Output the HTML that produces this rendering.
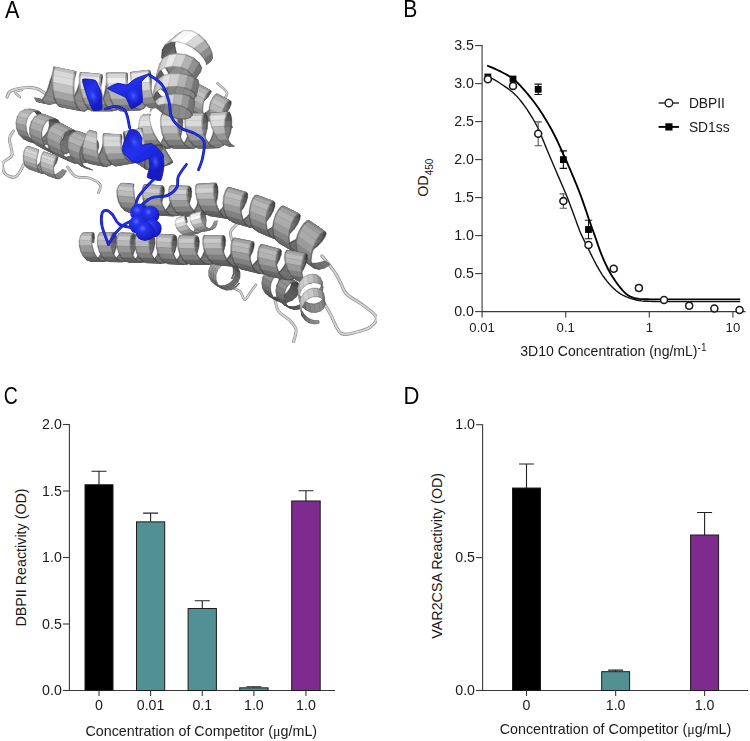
<!DOCTYPE html>
<html><head><meta charset="utf-8"><title>Figure</title>
<style>
html,body{margin:0;padding:0;background:#fff}
svg{display:block}
text{font-family:"Liberation Sans",sans-serif;fill:#1a1a1a;filter:url(#gs)}
.nf{filter:none}
.tk{font-size:14.2px}
.lg{font-size:13.8px}
.ti{font-size:14.3px}
.pl{font-size:24px;fill:#000}
.mu{font-family:"Liberation Serif",serif;font-size:14px}
</style></head>
<body>
<svg width="750" height="741" viewBox="0 0 750 741">
<defs><filter id="gs" x="-5%" y="-5%" width="110%" height="110%" color-interpolation-filters="sRGB"><feColorMatrix type="saturate" values="0"/></filter></defs>
<rect width="750" height="741" fill="#fff"/>
<g id="panelA">
<defs><radialGradient id="sph" cx="0.38" cy="0.34" r="0.75"><stop offset="0" stop-color="#5a6cff"/><stop offset="0.25" stop-color="#2634ee"/><stop offset="0.7" stop-color="#1a22cc"/><stop offset="1" stop-color="#0e1290"/></radialGradient><linearGradient id="blg" x1="0" y1="0" x2="0.6" y2="1"><stop offset="0" stop-color="#1a22c8"/><stop offset="0.45" stop-color="#2230ee"/><stop offset="1" stop-color="#151cc0"/></linearGradient><filter id="soft" x="0" y="0" width="1" height="1" filterUnits="objectBoundingBox"><feGaussianBlur stdDeviation="0.45"/></filter><radialGradient id="blh"><stop offset="0" stop-color="#4a60ff" stop-opacity="0.95"/><stop offset="1" stop-color="#2a3af0" stop-opacity="0"/></radialGradient></defs>
<g filter="url(#soft)">
<path d="M7 97C7.7 96 7.7 92.6 11 91C14.3 89.4 22.5 87.8 27 87.5C31.5 87.2 34.7 87.9 38 89C41.3 90.1 43.7 93.3 47 94C50.3 94.7 56.2 93.2 58 93" fill="none" stroke="#8a8a8a" stroke-width="3.2" stroke-linecap="round" stroke-linejoin="round"/><path d="M7 97C7.7 96 7.7 92.6 11 91C14.3 89.4 22.5 87.8 27 87.5C31.5 87.2 34.7 87.9 38 89C41.3 90.1 43.7 93.3 47 94C50.3 94.7 56.2 93.2 58 93" fill="none" stroke="#d4d4d4" stroke-width="1.8" stroke-linecap="round" stroke-linejoin="round"/>
<path d="M13.5 131C12.8 132.3 9.7 135 9.4 139C9.2 143 13.1 151 12 155C10.9 159 4.1 159.8 3 163C1.9 166.2 3.2 171.8 5.4 174C7.6 176.2 12.9 178.2 16 176.5C19.1 174.8 22.7 166.1 24 164" fill="none" stroke="#8a8a8a" stroke-width="3" stroke-linecap="round" stroke-linejoin="round"/><path d="M13.5 131C12.8 132.3 9.7 135 9.4 139C9.2 143 13.1 151 12 155C10.9 159 4.1 159.8 3 163C1.9 166.2 3.2 171.8 5.4 174C7.6 176.2 12.9 178.2 16 176.5C19.1 174.8 22.7 166.1 24 164" fill="none" stroke="#d4d4d4" stroke-width="1.7" stroke-linecap="round" stroke-linejoin="round"/>
<path d="M67.5 167C68.8 168.6 72 174.7 75.6 176.5C79.2 178.3 84.9 176.7 89 178C93.1 179.3 98.4 182.2 100 184.6C101.6 187 98.8 191.3 98.5 192.7" fill="none" stroke="#8a8a8a" stroke-width="2.8" stroke-linecap="round" stroke-linejoin="round"/><path d="M67.5 167C68.8 168.6 72 174.7 75.6 176.5C79.2 178.3 84.9 176.7 89 178C93.1 179.3 98.4 182.2 100 184.6C101.6 187 98.8 191.3 98.5 192.7" fill="none" stroke="#d4d4d4" stroke-width="1.5" stroke-linecap="round" stroke-linejoin="round"/>
<path d="M217.4 83.4C219 85 226.3 89.6 227 93C227.7 96.4 222 100.1 221.5 103.7C221 107.3 223.6 112.7 224 114.5" fill="none" stroke="#8a8a8a" stroke-width="2.6" stroke-linecap="round" stroke-linejoin="round"/><path d="M217.4 83.4C219 85 226.3 89.6 227 93C227.7 96.4 222 100.1 221.5 103.7C221 107.3 223.6 112.7 224 114.5" fill="none" stroke="#d4d4d4" stroke-width="1.4" stroke-linecap="round" stroke-linejoin="round"/>
<path d="M238.6 222.6C237.2 224.2 231.4 228.6 230.5 232C229.6 235.4 232.6 241.2 233 243" fill="none" stroke="#8a8a8a" stroke-width="2.8" stroke-linecap="round" stroke-linejoin="round"/><path d="M238.6 222.6C237.2 224.2 231.4 228.6 230.5 232C229.6 235.4 232.6 241.2 233 243" fill="none" stroke="#d4d4d4" stroke-width="1.5" stroke-linecap="round" stroke-linejoin="round"/>
<path d="M322 256C324.1 258.6 331.2 267.1 334.4 271.7C337.6 276.3 339 279.7 341 283.4C343 287.1 342.9 290.4 346.5 294C350.1 297.6 357.8 301.2 362.7 305C367.6 308.8 374.8 313.4 376.2 317C377.6 320.6 374.2 324 371 326.5C367.8 329 362 330.9 357 332C352 333.1 345.4 336.2 341 333.3C336.6 330.4 333.7 320 330.7 314.7C327.7 309.4 324.4 303.8 323.2 301.6" fill="none" stroke="#8a8a8a" stroke-width="3.2" stroke-linecap="round" stroke-linejoin="round"/><path d="M322 256C324.1 258.6 331.2 267.1 334.4 271.7C337.6 276.3 339 279.7 341 283.4C343 287.1 342.9 290.4 346.5 294C350.1 297.6 357.8 301.2 362.7 305C367.6 308.8 374.8 313.4 376.2 317C377.6 320.6 374.2 324 371 326.5C367.8 329 362 330.9 357 332C352 333.1 345.4 336.2 341 333.3C336.6 330.4 333.7 320 330.7 314.7C327.7 309.4 324.4 303.8 323.2 301.6" fill="none" stroke="#d4d4d4" stroke-width="1.8" stroke-linecap="round" stroke-linejoin="round"/>
<path d="M274.7 297.9C275.3 300.1 275.9 307.3 278.4 311C280.9 314.7 286.7 317.2 289.6 320.3C292.5 323.4 295.4 325.9 296 329.6C296.6 333.3 293.8 340.5 293.3 342.7" fill="none" stroke="#8a8a8a" stroke-width="3" stroke-linecap="round" stroke-linejoin="round"/><path d="M274.7 297.9C275.3 300.1 275.9 307.3 278.4 311C280.9 314.7 286.7 317.2 289.6 320.3C292.5 323.4 295.4 325.9 296 329.6C296.6 333.3 293.8 340.5 293.3 342.7" fill="none" stroke="#d4d4d4" stroke-width="1.7" stroke-linecap="round" stroke-linejoin="round"/>
<path d="M231.7 287.6C233.1 288.2 237.8 289.3 240 291.3C242.2 293.3 243.1 299.5 244.8 299.7C246.5 299.9 248.5 294.8 250.4 292.3C252.3 289.8 255.1 286.1 256 284.8" fill="none" stroke="#8a8a8a" stroke-width="2.6" stroke-linecap="round" stroke-linejoin="round"/><path d="M231.7 287.6C233.1 288.2 237.8 289.3 240 291.3C242.2 293.3 243.1 299.5 244.8 299.7C246.5 299.9 248.5 294.8 250.4 292.3C252.3 289.8 255.1 286.1 256 284.8" fill="none" stroke="#d4d4d4" stroke-width="1.4" stroke-linecap="round" stroke-linejoin="round"/>
<path d="M20 97C19.2 96.2 14.7 93.2 15 92C15.3 90.8 20.8 90.3 22 90" fill="none" stroke="#8a8a8a" stroke-width="2.5" stroke-linecap="round" stroke-linejoin="round"/><path d="M20 97C19.2 96.2 14.7 93.2 15 92C15.3 90.8 20.8 90.3 22 90" fill="none" stroke="#d4d4d4" stroke-width="1.4" stroke-linecap="round" stroke-linejoin="round"/>
<path d="M194.7 101.5L197.8 97L204.8 100.6L200.2 104.4Z" fill="#555555" stroke="#555555" stroke-width="0.5"/><path d="M195.2 101.7L198.4 97.2L204.2 100.3L199.8 104.2Z" fill="#7d7d7d" stroke="#7d7d7d" stroke-width="0.6"/><path d="M209.8 109.4L213.7 105.3L227 112.3L223.1 116.4Z" fill="#555555" stroke="#555555" stroke-width="0.5"/><path d="M210.9 110L214.7 105.9L225.9 111.7L222.1 115.9Z" fill="#7d7d7d" stroke="#7d7d7d" stroke-width="0.6"/><path d="M213.7 105.3L216.4 100.9L229.7 107.9L227 112.3Z" fill="#4f4f4f" stroke="#4f4f4f" stroke-width="0.5"/><path d="M214.7 105.9L217.5 101.5L228.6 107.4L225.9 111.7Z" fill="#747474" stroke="#747474" stroke-width="0.6"/><path d="M197.8 97L199.8 92.2L208.3 96.7L204.8 100.6Z" fill="#4f4f4f" stroke="#4f4f4f" stroke-width="0.5"/><path d="M198.4 97.2L200.5 92.6L207.6 96.3L204.2 100.3Z" fill="#747474" stroke="#747474" stroke-width="0.6"/><path d="M191 105.1L194.7 101.5L200.2 104.4L195 107.2Z" fill="#575757" stroke="#575757" stroke-width="0.5"/><path d="M191.3 105.3L195.2 101.7L199.8 104.2L194.6 107.1Z" fill="#7f7f7f" stroke="#7f7f7f" stroke-width="0.6"/><path d="M205.3 112.7L209.8 109.4L223.1 116.4L218.6 119.7Z" fill="#575757" stroke="#575757" stroke-width="0.5"/><path d="M206.4 113.2L210.9 110L222.1 115.9L217.6 119.1Z" fill="#7f7f7f" stroke="#7f7f7f" stroke-width="0.6"/><path d="M199.8 92.2L200.5 88L210.4 93.3L208.3 96.7Z" fill="#464646" stroke="#464646" stroke-width="0.5"/><path d="M200.5 92.6L201.3 88.4L209.7 92.9L207.6 96.3Z" fill="#666666" stroke="#666666" stroke-width="0.6"/><path d="M216.4 100.9L217.8 97.2L231.1 104.2L229.7 107.9Z" fill="#464646" stroke="#464646" stroke-width="0.5"/><path d="M217.5 101.5L218.9 97.7L230 103.6L228.6 107.4Z" fill="#666666" stroke="#666666" stroke-width="0.6"/><path d="M200.6 114.4L205.3 112.7L218.6 119.7L213.9 121.4Z" fill="#545454" stroke="#545454" stroke-width="0.5"/><path d="M201.7 115L206.4 113.2L217.6 119.1L212.9 120.8Z" fill="#7c7c7c" stroke="#7c7c7c" stroke-width="0.6"/><path d="M223.5 126.5L229 125.1L233 127.2L229 129.3Z" fill="#545454" stroke="#545454" stroke-width="0.5"/><path d="M224 126.7L229.3 125.3L232.6 127.1L228.6 129.1Z" fill="#7c7c7c" stroke="#7c7c7c" stroke-width="0.6"/><path d="M217.8 97.2L217.9 94.6L231.2 101.6L231.1 104.2Z" fill="#3b3b3b" stroke="#3b3b3b" stroke-width="0.5"/><path d="M218.9 97.7L218.9 95.2L230.1 101L230 103.6Z" fill="#565656" stroke="#565656" stroke-width="0.6"/><path d="M200.5 88L199.8 85.1L211.3 91.1L210.4 93.3Z" fill="#3b3b3b" stroke="#3b3b3b" stroke-width="0.5"/><path d="M201.3 88.4L200.7 85.6L210.3 90.6L209.7 92.9Z" fill="#565656" stroke="#565656" stroke-width="0.6"/><path d="M196.3 114.3L200.6 114.4L213.9 121.4L209.6 121.3Z" fill="#4d4d4d" stroke="#4d4d4d" stroke-width="0.5"/><path d="M197.4 114.8L201.7 115L212.9 120.8L208.5 120.7Z" fill="#727272" stroke="#727272" stroke-width="0.6"/><path d="M218.5 125.9L223.5 126.5L229 129.3L225.4 129.6Z" fill="#4d4d4d" stroke="#4d4d4d" stroke-width="0.5"/><path d="M219 126.2L224 126.7L228.6 129.1L224.9 129.3Z" fill="#727272" stroke="#727272" stroke-width="0.6"/><path d="M217.9 94.6L216.7 93.8L230 100.8L231.2 101.6Z" fill="#3a3a3a" stroke="#3a3a3a" stroke-width="0.5"/><path d="M218.9 95.2L217.8 94.3L229 100.2L230.1 101Z" fill="#555555" stroke="#555555" stroke-width="0.6"/><path d="M199.8 85.1L197.9 83.9L210.9 90.7L211.3 91.1Z" fill="#3a3a3a" stroke="#3a3a3a" stroke-width="0.5"/><path d="M200.7 85.6L198.9 84.4L209.8 90.1L210.3 90.6Z" fill="#555555" stroke="#555555" stroke-width="0.6"/><path d="M192.8 112.2L196.3 114.3L209.6 121.3L206.1 119.2Z" fill="#484848" stroke="#484848" stroke-width="0.5"/><path d="M193.9 112.7L197.4 114.8L208.5 120.7L205 118.6Z" fill="#6b6b6b" stroke="#6b6b6b" stroke-width="0.6"/><path d="M214.2 123.4L218.5 125.9L225.4 129.6L222.7 127.9Z" fill="#484848" stroke="#484848" stroke-width="0.5"/><path d="M214.9 123.8L219 126.2L224.9 129.3L222 127.5Z" fill="#6b6b6b" stroke="#6b6b6b" stroke-width="0.6"/><path d="M216.7 93.8L214.8 94.9L228.1 101.9L230 100.8Z" fill="#6b6b6b" stroke="#6b6b6b" stroke-width="0.5"/><path d="M217.8 94.3L215.8 95.4L227 101.3L229 100.2Z" fill="#9e9e9e" stroke="#9e9e9e" stroke-width="0.6"/><path d="M197.9 83.9L195.8 84.9L209.1 91.9L210.9 90.7Z" fill="#6b6b6b" stroke="#6b6b6b" stroke-width="0.5"/><path d="M198.9 84.4L196.8 85.4L208 91.3L209.8 90.1Z" fill="#9e9e9e" stroke="#9e9e9e" stroke-width="0.6"/><path d="M190.5 108.4L192.8 112.2L206.1 119.2L203.8 115.4Z" fill="#4a4a4a" stroke="#4a4a4a" stroke-width="0.5"/><path d="M191.5 108.9L193.9 112.7L205 118.6L202.7 114.8Z" fill="#6d6d6d" stroke="#6d6d6d" stroke-width="0.6"/><path d="M211.1 119.2L214.2 123.4L222.7 127.9L221.1 124.5Z" fill="#4a4a4a" stroke="#4a4a4a" stroke-width="0.5"/><path d="M211.9 119.7L214.9 123.8L222 127.5L220.3 124.1Z" fill="#6d6d6d" stroke="#6d6d6d" stroke-width="0.6"/><path d="M214.8 94.9L212.5 97.8L225.8 104.8L228.1 101.9Z" fill="#7c7c7c" stroke="#7c7c7c" stroke-width="0.5"/><path d="M215.8 95.4L213.5 98.4L224.7 104.3L227 101.3Z" fill="#b4b4b4" stroke="#b4b4b4" stroke-width="0.6"/><path d="M195.8 84.9L193.5 87.8L206.8 94.8L209.1 91.9Z" fill="#7c7c7c" stroke="#7c7c7c" stroke-width="0.5"/><path d="M196.8 85.4L194.5 88.4L205.7 94.3L208 91.3Z" fill="#b4b4b4" stroke="#b4b4b4" stroke-width="0.6"/><path d="M209.4 113.8L211.1 119.2L221.1 124.5L220.9 119.8Z" fill="#5d5d5d" stroke="#5d5d5d" stroke-width="0.5"/><path d="M210.4 114.3L211.9 119.7L220.3 124.1L220 119.4Z" fill="#898989" stroke="#898989" stroke-width="0.6"/><path d="M189.5 103.3L190.5 108.4L203.8 115.4L202.8 110.3Z" fill="#5d5d5d" stroke="#5d5d5d" stroke-width="0.5"/><path d="M190.6 103.9L191.5 108.9L202.7 114.8L201.8 109.8Z" fill="#898989" stroke="#898989" stroke-width="0.6"/><path d="M212.5 97.8L210.3 102.3L223.6 109.3L225.8 104.8Z" fill="#878787" stroke="#878787" stroke-width="0.5"/><path d="M213.5 98.4L211.4 102.9L222.6 108.8L224.7 104.3Z" fill="#c1c1c1" stroke="#c1c1c1" stroke-width="0.6"/><path d="M193.5 87.8L191.3 92.3L204.6 99.3L206.8 94.8Z" fill="#878787" stroke="#878787" stroke-width="0.5"/><path d="M194.5 88.4L192.4 92.9L203.6 98.8L205.7 94.3Z" fill="#c1c1c1" stroke="#c1c1c1" stroke-width="0.6"/><path d="M189.9 97.7L189.5 103.3L202.8 110.3L203.2 104.7Z" fill="#6e6e6e" stroke="#6e6e6e" stroke-width="0.5"/><path d="M190.9 98.3L190.6 103.9L201.8 109.8L202.1 104.2Z" fill="#a1a1a1" stroke="#a1a1a1" stroke-width="0.6"/><path d="M209 107.8L209.4 113.8L220.9 119.8L222 114.6Z" fill="#6e6e6e" stroke="#6e6e6e" stroke-width="0.5"/><path d="M210.1 108.4L210.4 114.3L220 119.4L221 114.1Z" fill="#a1a1a1" stroke="#a1a1a1" stroke-width="0.6"/><path d="M191.3 92.3L189.9 97.7L203.2 104.7L204.6 99.3Z" fill="#7e7e7e" stroke="#7e7e7e" stroke-width="0.5"/><path d="M192.4 92.9L190.9 98.3L202.1 104.2L203.6 98.8Z" fill="#b7b7b7" stroke="#b7b7b7" stroke-width="0.6"/><path d="M210.3 102.3L209 107.8L222 114.6L223.6 109.3Z" fill="#7e7e7e" stroke="#7e7e7e" stroke-width="0.5"/><path d="M211.4 102.9L210.1 108.4L221 114.1L222.6 108.8Z" fill="#b7b7b7" stroke="#b7b7b7" stroke-width="0.6"/>
<path d="M212.8 134.2L214.1 127.2L231.7 126.4L230.4 133.4Z" fill="#555555" stroke="#555555" stroke-width="0.5"/><path d="M214.2 134.1L215.5 127.1L230.3 126.4L229 133.5Z" fill="#7d7d7d" stroke="#7d7d7d" stroke-width="0.6"/><path d="M187.9 135.4L189.6 128.5L207.3 128.5L205.6 135.4Z" fill="#555555" stroke="#555555" stroke-width="0.5"/><path d="M189.3 135.4L191 128.5L205.9 128.5L204.2 135.4Z" fill="#7e7e7e" stroke="#7e7e7e" stroke-width="0.6"/><path d="M163.9 136L165.3 129.1L182.6 128.3L181.1 135.1Z" fill="#565656" stroke="#565656" stroke-width="0.5"/><path d="M165.2 135.9L166.7 129L181.2 128.4L179.7 135.2Z" fill="#7f7f7f" stroke="#7f7f7f" stroke-width="0.6"/><path d="M165.3 129.1L165.6 122.6L182.9 121.8L182.6 128.3Z" fill="#4d4d4d" stroke="#4d4d4d" stroke-width="0.5"/><path d="M166.7 129L167 122.5L181.5 121.9L181.2 128.4Z" fill="#727272" stroke="#727272" stroke-width="0.6"/><path d="M189.6 128.5L190.1 122L207.8 122L207.3 128.5Z" fill="#4c4c4c" stroke="#4c4c4c" stroke-width="0.5"/><path d="M191 128.5L191.5 122L206.4 122L205.9 128.5Z" fill="#707070" stroke="#707070" stroke-width="0.6"/><path d="M214.1 127.2L214.2 120.8L231.8 119.9L231.7 126.4Z" fill="#4b4b4b" stroke="#4b4b4b" stroke-width="0.5"/><path d="M215.5 127.1L215.6 120.7L230.4 120L230.3 126.4Z" fill="#6f6f6f" stroke="#6f6f6f" stroke-width="0.6"/><path d="M210.3 140.6L212.8 134.2L230.4 133.4L227.9 139.9Z" fill="#5a5a5a" stroke="#5a5a5a" stroke-width="0.5"/><path d="M211.7 140.5L214.2 134.1L229 133.5L226.5 140Z" fill="#848484" stroke="#848484" stroke-width="0.6"/><path d="M185 141.5L187.9 135.4L205.6 135.4L202.7 141.5Z" fill="#5a5a5a" stroke="#5a5a5a" stroke-width="0.5"/><path d="M186.4 141.5L189.3 135.4L204.2 135.4L201.3 141.5Z" fill="#848484" stroke="#848484" stroke-width="0.6"/><path d="M161.3 142.2L163.9 136L181.1 135.1L178.5 141.3Z" fill="#5a5a5a" stroke="#5a5a5a" stroke-width="0.5"/><path d="M162.6 142.1L165.2 135.9L179.7 135.2L177.1 141.3Z" fill="#858585" stroke="#858585" stroke-width="0.6"/><path d="M165.6 122.6L165 117.3L182.3 116.7L182.9 121.8Z" fill="#414141" stroke="#414141" stroke-width="0.5"/><path d="M167 122.5L166.4 117.3L180.9 116.8L181.5 121.9Z" fill="#606060" stroke="#606060" stroke-width="0.6"/><path d="M190.1 122L189.6 116.9L207.3 116.9L207.8 122Z" fill="#404040" stroke="#404040" stroke-width="0.5"/><path d="M191.5 122L191 116.9L205.9 116.9L206.4 122Z" fill="#5f5f5f" stroke="#5f5f5f" stroke-width="0.6"/><path d="M214.2 120.8L213.2 115.9L230.9 115L231.8 119.9Z" fill="#3f3f3f" stroke="#3f3f3f" stroke-width="0.5"/><path d="M215.6 120.7L214.7 115.8L229.5 115L230.4 120Z" fill="#5d5d5d" stroke="#5d5d5d" stroke-width="0.6"/><path d="M206.6 145.5L210.3 140.6L227.9 139.9L224.2 144.9Z" fill="#5a5a5a" stroke="#5a5a5a" stroke-width="0.5"/><path d="M208 145.5L211.7 140.5L226.5 140L222.8 144.9Z" fill="#858585" stroke="#858585" stroke-width="0.6"/><path d="M181.2 146.1L185 141.5L202.7 141.5L198.8 146.1Z" fill="#5a5a5a" stroke="#5a5a5a" stroke-width="0.5"/><path d="M182.6 146.1L186.4 141.5L201.3 141.5L197.4 146.1Z" fill="#848484" stroke="#848484" stroke-width="0.6"/><path d="M157.7 146.7L161.3 142.2L178.5 141.3L174.9 145.8Z" fill="#5a5a5a" stroke="#5a5a5a" stroke-width="0.5"/><path d="M159 146.7L162.6 142.1L177.1 141.3L173.5 145.9Z" fill="#848484" stroke="#848484" stroke-width="0.6"/><path d="M165 117.3L163.7 114.3L181.1 113.7L182.3 116.7Z" fill="#3a3a3a" stroke="#3a3a3a" stroke-width="0.5"/><path d="M166.4 117.3L165.1 114.2L179.7 113.8L180.9 116.8Z" fill="#555555" stroke="#555555" stroke-width="0.6"/><path d="M189.6 116.9L188.3 114L206 114L207.3 116.9Z" fill="#3a3a3a" stroke="#3a3a3a" stroke-width="0.5"/><path d="M191 116.9L189.7 114L204.6 114L205.9 116.9Z" fill="#555555" stroke="#555555" stroke-width="0.6"/><path d="M213.2 115.9L211.8 113.3L229.4 112.3L230.9 115Z" fill="#3a3a3a" stroke="#3a3a3a" stroke-width="0.5"/><path d="M214.7 115.8L213.2 113.2L228 112.4L229.5 115Z" fill="#555555" stroke="#555555" stroke-width="0.6"/><path d="M202.2 148.1L206.6 145.5L224.2 144.9L219.8 147.6Z" fill="#555555" stroke="#555555" stroke-width="0.5"/><path d="M203.6 148.1L208 145.5L222.8 144.9L218.4 147.6Z" fill="#7e7e7e" stroke="#7e7e7e" stroke-width="0.6"/><path d="M176.7 148.3L181.2 146.1L198.8 146.1L194.4 148.3Z" fill="#545454" stroke="#545454" stroke-width="0.5"/><path d="M178.1 148.3L182.6 146.1L197.4 146.1L192.9 148.3Z" fill="#7c7c7c" stroke="#7c7c7c" stroke-width="0.6"/><path d="M153.4 149L157.7 146.7L174.9 145.8L170.6 148Z" fill="#545454" stroke="#545454" stroke-width="0.5"/><path d="M154.8 148.9L159 146.7L173.5 145.9L169.2 148.1Z" fill="#7c7c7c" stroke="#7c7c7c" stroke-width="0.6"/><path d="M145.5 115.4L143 114.7L150 114.3L150.7 115Z" fill="#3a3a3a" stroke="#3a3a3a" stroke-width="0.5"/><path d="M146 115.3L143.5 114.7L149.5 114.3L150.3 115.1Z" fill="#555555" stroke="#555555" stroke-width="0.6"/><path d="M163.7 114.3L162.2 113.7L179.6 113.3L181.1 113.7Z" fill="#3a3a3a" stroke="#3a3a3a" stroke-width="0.5"/><path d="M165.1 114.2L163.6 113.7L178.2 113.3L179.7 113.8Z" fill="#555555" stroke="#555555" stroke-width="0.6"/><path d="M188.3 114L186.8 113.7L204.5 113.7L206 114Z" fill="#3a3a3a" stroke="#3a3a3a" stroke-width="0.5"/><path d="M189.7 114L188.2 113.7L203.1 113.7L204.6 114Z" fill="#555555" stroke="#555555" stroke-width="0.6"/><path d="M211.8 113.3L210.2 113.3L227.8 112.3L229.4 112.3Z" fill="#3a3a3a" stroke="#3a3a3a" stroke-width="0.5"/><path d="M213.2 113.2L211.6 113.2L226.4 112.4L228 112.4Z" fill="#555555" stroke="#555555" stroke-width="0.6"/><path d="M197.5 148.1L202.2 148.1L219.8 147.6L215.1 147.6Z" fill="#484848" stroke="#484848" stroke-width="0.5"/><path d="M198.9 148L203.6 148.1L218.4 147.6L213.7 147.7Z" fill="#6b6b6b" stroke="#6b6b6b" stroke-width="0.6"/><path d="M172.1 147.9L176.7 148.3L194.4 148.3L189.7 147.9Z" fill="#484848" stroke="#484848" stroke-width="0.5"/><path d="M173.5 147.9L178.1 148.3L192.9 148.3L188.3 147.9Z" fill="#6b6b6b" stroke="#6b6b6b" stroke-width="0.6"/><path d="M148.8 148.6L153.4 149L170.6 148L166 147.6Z" fill="#484848" stroke="#484848" stroke-width="0.5"/><path d="M150.2 148.5L154.8 148.9L169.2 148.1L164.6 147.6Z" fill="#6b6b6b" stroke="#6b6b6b" stroke-width="0.6"/><path d="M143 114.7L140.6 116.8L149.6 116.2L150 114.3Z" fill="#7d7d7d" stroke="#7d7d7d" stroke-width="0.5"/><path d="M143.5 114.7L141.4 116.7L148.9 116.2L149.5 114.3Z" fill="#b5b5b5" stroke="#b5b5b5" stroke-width="0.6"/><path d="M162.2 113.7L160.9 115.9L178.3 115.5L179.6 113.3Z" fill="#7d7d7d" stroke="#7d7d7d" stroke-width="0.5"/><path d="M163.6 113.7L162.3 115.8L177 115.6L178.2 113.3Z" fill="#b6b6b6" stroke="#b6b6b6" stroke-width="0.6"/><path d="M186.8 113.7L185.4 116.1L203.1 116.1L204.5 113.7Z" fill="#7f7f7f" stroke="#7f7f7f" stroke-width="0.5"/><path d="M188.2 113.7L186.9 116.1L201.7 116.1L203.1 113.7Z" fill="#b8b8b8" stroke="#b8b8b8" stroke-width="0.6"/><path d="M223.6 144.3L229.2 146.6L234.5 146.3L230.9 143.9Z" fill="#484848" stroke="#484848" stroke-width="0.5"/><path d="M224.2 144.3L229.6 146.6L234.1 146.3L230.3 143.9Z" fill="#6b6b6b" stroke="#6b6b6b" stroke-width="0.6"/><path d="M210.2 113.3L209.2 116L226.4 114.9L227.8 112.3Z" fill="#858585" stroke="#858585" stroke-width="0.5"/><path d="M211.6 113.2L210.6 115.9L225.1 115L226.4 112.4Z" fill="#bebebe" stroke="#bebebe" stroke-width="0.6"/><path d="M192.9 145.3L197.5 148.1L215.1 147.6L210.6 145Z" fill="#484848" stroke="#484848" stroke-width="0.5"/><path d="M194.3 145.3L198.9 148L213.7 147.7L209.2 145Z" fill="#6b6b6b" stroke="#6b6b6b" stroke-width="0.6"/><path d="M167.8 144.9L172.1 147.9L189.7 147.9L185.4 144.9Z" fill="#484848" stroke="#484848" stroke-width="0.5"/><path d="M169.2 144.9L173.5 147.9L188.3 147.9L184 144.9Z" fill="#6b6b6b" stroke="#6b6b6b" stroke-width="0.6"/><path d="M144.4 145.6L148.8 148.6L166 147.6L161.6 144.5Z" fill="#484848" stroke="#484848" stroke-width="0.5"/><path d="M145.8 145.5L150.2 148.5L164.6 147.6L160.2 144.6Z" fill="#6b6b6b" stroke="#6b6b6b" stroke-width="0.6"/><path d="M140.6 116.8L139 121.1L150 120.5L149.6 116.2Z" fill="#9d9d9d" stroke="#9d9d9d" stroke-width="0.5"/><path d="M141.4 116.7L139.9 121.1L149.1 120.5L148.9 116.2Z" fill="#dadada" stroke="#dadada" stroke-width="0.6"/><path d="M160.9 115.9L160.3 120.3L177.7 120.1L178.3 115.5Z" fill="#9c9c9c" stroke="#9c9c9c" stroke-width="0.5"/><path d="M162.3 115.8L161.7 120.3L176.3 120.1L177 115.6Z" fill="#d8d8d8" stroke="#d8d8d8" stroke-width="0.6"/><path d="M185.4 116.1L184.7 120.7L202.4 120.7L203.1 116.1Z" fill="#9d9d9d" stroke="#9d9d9d" stroke-width="0.5"/><path d="M186.9 116.1L186.1 120.7L201 120.7L201.7 116.1Z" fill="#d9d9d9" stroke="#d9d9d9" stroke-width="0.6"/><path d="M218.6 139.8L223.6 144.3L230.9 143.9L227.9 139.2Z" fill="#505050" stroke="#505050" stroke-width="0.5"/><path d="M219.3 139.8L224.2 144.3L230.3 143.9L227.1 139.3Z" fill="#767676" stroke="#767676" stroke-width="0.6"/><path d="M209.2 116L209.8 120.8L225.1 119.8L226.4 114.9Z" fill="#a3a3a3" stroke="#a3a3a3" stroke-width="0.5"/><path d="M210.6 115.9L211 120.7L223.9 119.9L225.1 115Z" fill="#e1e1e1" stroke="#e1e1e1" stroke-width="0.6"/><path d="M189.1 140.3L192.9 145.3L210.6 145L206.8 140.1Z" fill="#535353" stroke="#535353" stroke-width="0.5"/><path d="M190.5 140.3L194.3 145.3L209.2 145L205.4 140.1Z" fill="#7a7a7a" stroke="#7a7a7a" stroke-width="0.6"/><path d="M164.3 139.7L167.8 144.9L185.4 144.9L181.8 139.7Z" fill="#555555" stroke="#555555" stroke-width="0.5"/><path d="M165.7 139.7L169.2 144.9L184 144.9L180.4 139.7Z" fill="#7d7d7d" stroke="#7d7d7d" stroke-width="0.6"/><path d="M140.9 140.5L144.4 145.6L161.6 144.5L157.6 139.4Z" fill="#565656" stroke="#565656" stroke-width="0.5"/><path d="M142.2 140.4L145.8 145.5L160.2 144.6L156.3 139.5Z" fill="#7f7f7f" stroke="#7f7f7f" stroke-width="0.6"/><path d="M139 121.1L138.4 127.2L151.3 126.4L150 120.5Z" fill="#a4a4a4" stroke="#a4a4a4" stroke-width="0.5"/><path d="M139.9 121.1L139.5 127.1L150.3 126.5L149.1 120.5Z" fill="#e1e1e1" stroke="#e1e1e1" stroke-width="0.6"/><path d="M160.3 120.3L160.5 126.4L177.9 126.3L177.7 120.1Z" fill="#9f9f9f" stroke="#9f9f9f" stroke-width="0.5"/><path d="M161.7 120.3L161.9 126.4L176.5 126.3L176.3 120.1Z" fill="#dcdcdc" stroke="#dcdcdc" stroke-width="0.6"/><path d="M184.7 120.7L185 127L202.6 127L202.4 120.7Z" fill="#9d9d9d" stroke="#9d9d9d" stroke-width="0.5"/><path d="M186.1 120.7L186.4 127L201.2 127L201 120.7Z" fill="#dadada" stroke="#dadada" stroke-width="0.6"/><path d="M214.5 133.7L218.6 139.8L227.9 139.2L225.8 133Z" fill="#666666" stroke="#666666" stroke-width="0.5"/><path d="M215.4 133.7L219.3 139.8L227.1 139.3L224.9 133.1Z" fill="#969696" stroke="#969696" stroke-width="0.6"/><path d="M209.8 120.8L211.5 127L224.8 126.2L225.1 119.8Z" fill="#9d9d9d" stroke="#9d9d9d" stroke-width="0.5"/><path d="M211 120.7L212.6 127L223.7 126.3L223.9 119.9Z" fill="#dadada" stroke="#dadada" stroke-width="0.6"/><path d="M186.4 133.8L189.1 140.3L206.8 140.1L204.1 133.8Z" fill="#686868" stroke="#686868" stroke-width="0.5"/><path d="M187.8 133.8L190.5 140.3L205.4 140.1L202.7 133.8Z" fill="#999999" stroke="#999999" stroke-width="0.6"/><path d="M161.8 133.2L164.3 139.7L181.8 139.7L179.3 133.2Z" fill="#6a6a6a" stroke="#6a6a6a" stroke-width="0.5"/><path d="M163.2 133.2L165.7 139.7L180.4 139.7L177.9 133.2Z" fill="#9c9c9c" stroke="#9c9c9c" stroke-width="0.6"/><path d="M139.1 134L140.9 140.5L157.6 139.4L153.9 133.1Z" fill="#6b6b6b" stroke="#6b6b6b" stroke-width="0.5"/><path d="M140.3 133.9L142.2 140.4L156.3 139.5L152.7 133.1Z" fill="#9e9e9e" stroke="#9e9e9e" stroke-width="0.6"/><path d="M138.4 127.2L139.1 134L153.9 133.1L151.3 126.4Z" fill="#858585" stroke="#858585" stroke-width="0.5"/><path d="M139.5 127.1L140.3 133.9L152.7 133.1L150.3 126.5Z" fill="#bfbfbf" stroke="#bfbfbf" stroke-width="0.6"/><path d="M160.5 126.4L161.8 133.2L179.3 133.2L177.9 126.3Z" fill="#828282" stroke="#828282" stroke-width="0.5"/><path d="M161.9 126.4L163.2 133.2L177.9 133.2L176.5 126.3Z" fill="#bbbbbb" stroke="#bbbbbb" stroke-width="0.6"/><path d="M185 127L186.4 133.8L204.1 133.8L202.6 127Z" fill="#7f7f7f" stroke="#7f7f7f" stroke-width="0.5"/><path d="M186.4 127L187.8 133.8L202.7 133.8L201.2 127Z" fill="#b8b8b8" stroke="#b8b8b8" stroke-width="0.6"/><path d="M211.5 127L214.5 133.7L225.8 133L224.8 126.2Z" fill="#7d7d7d" stroke="#7d7d7d" stroke-width="0.5"/><path d="M212.6 127L215.4 133.7L224.9 133.1L223.7 126.3Z" fill="#b5b5b5" stroke="#b5b5b5" stroke-width="0.6"/>
<path d="M173 103.2L180.8 105.3L178 118.9L170.1 116.9Z" fill="#5d5d5d" stroke="#5d5d5d" stroke-width="0.5"/><path d="M172.8 104.3L180.6 106.4L178.2 117.8L170.3 115.8Z" fill="#898989" stroke="#898989" stroke-width="0.6"/><path d="M177 83.9L184.8 86.1L181.7 100L173.7 97.8Z" fill="#5d5d5d" stroke="#5d5d5d" stroke-width="0.5"/><path d="M176.7 85L184.6 87.2L182 98.9L174 96.6Z" fill="#8a8a8a" stroke="#8a8a8a" stroke-width="0.6"/><path d="M169.5 80L177 83.9L173.7 97.8L166.1 93.8Z" fill="#575757" stroke="#575757" stroke-width="0.5"/><path d="M169.2 81.1L176.7 85L174 96.6L166.3 92.7Z" fill="#808080" stroke="#808080" stroke-width="0.6"/><path d="M180.6 61.1L186.1 67.4L174.8 79.8L168.5 73.4Z" fill="#5f5f5f" stroke="#5f5f5f" stroke-width="0.5"/><path d="M179.6 62.1L185.2 68.4L175.7 78.8L169.5 72.4Z" fill="#8b8b8b" stroke="#8b8b8b" stroke-width="0.6"/><path d="M176.5 53.3L180.6 61.1L168.5 73.4L163.9 65.5Z" fill="#555555" stroke="#555555" stroke-width="0.5"/><path d="M175.5 54.3L179.6 62.1L169.5 72.4L164.9 64.5Z" fill="#7e7e7e" stroke="#7e7e7e" stroke-width="0.6"/><path d="M165.5 99.5L173 103.2L170.1 116.9L162.6 113.2Z" fill="#575757" stroke="#575757" stroke-width="0.5"/><path d="M165.3 100.6L172.8 104.3L170.3 115.8L162.8 112.1Z" fill="#808080" stroke="#808080" stroke-width="0.6"/><path d="M184.8 86.1L191.8 86.5L188.8 100.4L181.7 100Z" fill="#5f5f5f" stroke="#5f5f5f" stroke-width="0.5"/><path d="M184.6 87.2L191.6 87.6L189 99.3L182 98.9Z" fill="#8c8c8c" stroke="#8c8c8c" stroke-width="0.6"/><path d="M186.1 67.4L192.2 71.5L181.5 83.9L174.8 79.8Z" fill="#636363" stroke="#636363" stroke-width="0.5"/><path d="M185.2 68.4L191.3 72.5L182.4 82.9L175.7 78.8Z" fill="#929292" stroke="#929292" stroke-width="0.6"/><path d="M174.8 45.3L176.5 53.3L163.9 65.5L161.6 57.3Z" fill="#484848" stroke="#484848" stroke-width="0.5"/><path d="M173.7 46.2L175.5 54.3L164.9 64.5L162.7 56.4Z" fill="#6b6b6b" stroke="#6b6b6b" stroke-width="0.6"/><path d="M163.6 74.7L169.5 80L166.1 93.8L160 88.4Z" fill="#4c4c4c" stroke="#4c4c4c" stroke-width="0.5"/><path d="M163.3 75.8L169.2 81.1L166.3 92.7L160.3 87.3Z" fill="#707070" stroke="#707070" stroke-width="0.6"/><path d="M159.6 94.6L165.5 99.5L162.6 113.2L156.6 108.3Z" fill="#4c4c4c" stroke="#4c4c4c" stroke-width="0.5"/><path d="M159.3 95.7L165.3 100.6L162.8 112.1L156.8 107.2Z" fill="#707070" stroke="#707070" stroke-width="0.6"/><path d="M180.8 105.3L187.7 105.6L184.9 119.3L178 118.9Z" fill="#5f5f5f" stroke="#5f5f5f" stroke-width="0.5"/><path d="M180.6 106.4L187.5 106.7L185.2 118.2L178.2 117.8Z" fill="#8c8c8c" stroke="#8c8c8c" stroke-width="0.6"/><path d="M156.1 89.1L159.6 94.6L156.6 108.3L153.1 102.8Z" fill="#404040" stroke="#404040" stroke-width="0.5"/><path d="M155.8 90.2L159.3 95.7L156.8 107.2L153.3 101.7Z" fill="#5e5e5e" stroke="#5e5e5e" stroke-width="0.6"/><path d="M191.8 86.5L196.7 85.3L193.8 99.2L188.8 100.4Z" fill="#5c5c5c" stroke="#5c5c5c" stroke-width="0.5"/><path d="M191.6 87.6L196.5 86.4L194 98.1L189 99.3Z" fill="#888888" stroke="#888888" stroke-width="0.6"/><path d="M192.2 71.5L197.5 72.7L187.6 85.2L181.5 83.9Z" fill="#616161" stroke="#616161" stroke-width="0.5"/><path d="M191.3 72.5L196.7 73.7L188.4 84.2L182.4 82.9Z" fill="#8f8f8f" stroke="#8f8f8f" stroke-width="0.6"/><path d="M175.8 38.1L174.8 45.3L161.6 57.3L162.1 50.1Z" fill="#3e3e3e" stroke="#3e3e3e" stroke-width="0.5"/><path d="M174.7 39L173.7 46.2L162.7 56.4L163.2 49.1Z" fill="#5c5c5c" stroke="#5c5c5c" stroke-width="0.6"/><path d="M160.3 68.7L163.6 74.7L160 88.4L156.5 82.4Z" fill="#3f3f3f" stroke="#3f3f3f" stroke-width="0.5"/><path d="M160 69.8L163.3 75.8L160.3 87.3L156.8 81.3Z" fill="#5d5d5d" stroke="#5d5d5d" stroke-width="0.6"/><path d="M187.7 105.6L192.7 104.3L189.9 118L184.9 119.3Z" fill="#5c5c5c" stroke="#5c5c5c" stroke-width="0.5"/><path d="M187.5 106.7L192.5 105.4L190.1 116.9L185.2 118.2Z" fill="#888888" stroke="#888888" stroke-width="0.6"/><path d="M197.5 72.7L201 71.1L191.8 83.7L187.6 85.2Z" fill="#5a5a5a" stroke="#5a5a5a" stroke-width="0.5"/><path d="M196.7 73.7L200.2 72.1L192.5 82.7L188.4 84.2Z" fill="#858585" stroke="#858585" stroke-width="0.6"/><path d="M179.4 32.8L175.8 38.1L162.1 50.1L165.2 44.7Z" fill="#3e3e3e" stroke="#3e3e3e" stroke-width="0.5"/><path d="M178.2 33.8L174.7 39L163.2 49.1L166.3 43.7Z" fill="#5c5c5c" stroke="#5c5c5c" stroke-width="0.6"/><path d="M192.7 104.3L194.8 101.8L192.1 115.5L189.9 118Z" fill="#545454" stroke="#545454" stroke-width="0.5"/><path d="M192.5 105.4L194.6 102.9L192.3 114.4L190.1 116.9Z" fill="#7c7c7c" stroke="#7c7c7c" stroke-width="0.6"/><path d="M196.7 85.3L198.9 82.9L196 96.8L193.8 99.2Z" fill="#545454" stroke="#545454" stroke-width="0.5"/><path d="M196.5 86.4L198.7 84L196.2 95.7L194 98.1Z" fill="#7c7c7c" stroke="#7c7c7c" stroke-width="0.6"/><path d="M160.3 62.8L160.3 68.7L156.5 82.4L156.2 76.4Z" fill="#3e3e3e" stroke="#3e3e3e" stroke-width="0.5"/><path d="M159.9 63.9L160 69.8L156.8 81.3L156.5 75.3Z" fill="#5c5c5c" stroke="#5c5c5c" stroke-width="0.6"/><path d="M155.7 83.6L156.1 89.1L153.1 102.8L152.6 97.3Z" fill="#3e3e3e" stroke="#3e3e3e" stroke-width="0.5"/><path d="M155.4 84.7L155.8 90.2L153.3 101.7L152.8 96.2Z" fill="#5c5c5c" stroke="#5c5c5c" stroke-width="0.6"/><path d="M194.8 101.8L193.8 98.7L191.1 112.4L192.1 115.5Z" fill="#4e4e4e" stroke="#4e4e4e" stroke-width="0.5"/><path d="M194.6 102.9L193.6 99.8L191.4 111.3L192.3 114.4Z" fill="#737373" stroke="#737373" stroke-width="0.6"/><path d="M198.9 82.9L197.9 79.8L195 93.7L196 96.8Z" fill="#4e4e4e" stroke="#4e4e4e" stroke-width="0.5"/><path d="M198.7 84L197.7 80.9L195.2 92.6L196.2 95.7Z" fill="#737373" stroke="#737373" stroke-width="0.6"/><path d="M163.5 57.9L160.3 62.8L156.2 76.4L159.1 71.3Z" fill="#797979" stroke="#797979" stroke-width="0.5"/><path d="M163.1 58.9L159.9 63.9L156.5 75.3L159.4 70.2Z" fill="#b1b1b1" stroke="#b1b1b1" stroke-width="0.6"/><path d="M158.4 78.8L155.7 83.6L152.6 97.3L155.3 92.4Z" fill="#767676" stroke="#767676" stroke-width="0.5"/><path d="M158.1 79.9L155.4 84.7L152.8 96.2L155.5 91.4Z" fill="#adadad" stroke="#adadad" stroke-width="0.6"/><path d="M210.8 61.4L212.6 58.1L206.2 62.8L206.2 64.8Z" fill="#4e4e4e" stroke="#4e4e4e" stroke-width="0.5"/><path d="M210.4 61.7L212.1 58.4L206.7 62.4L206.5 64.6Z" fill="#737373" stroke="#737373" stroke-width="0.6"/><path d="M201 71.1L201.6 67.4L193.3 80.1L191.8 83.7Z" fill="#4e4e4e" stroke="#4e4e4e" stroke-width="0.5"/><path d="M200.2 72.1L201 68.4L194 79L192.5 82.7Z" fill="#737373" stroke="#737373" stroke-width="0.6"/><path d="M185.1 30.1L179.4 32.8L165.2 44.7L170.5 41.9Z" fill="#898989" stroke="#898989" stroke-width="0.5"/><path d="M183.9 31.1L178.2 33.8L166.3 43.7L171.7 41Z" fill="#c6c6c6" stroke="#c6c6c6" stroke-width="0.6"/><path d="M153.6 102.6L150.9 108.2L150.2 112.3L152.6 108.2Z" fill="#757575" stroke="#757575" stroke-width="0.5"/><path d="M153.5 103.1L150.9 108.5L150.3 112L152.7 107.8Z" fill="#acacac" stroke="#acacac" stroke-width="0.6"/><path d="M193.8 98.7L189.7 95.8L187.2 109.1L191.1 112.4Z" fill="#515151" stroke="#515151" stroke-width="0.5"/><path d="M193.6 99.8L189.5 96.8L187.4 108L191.4 111.3Z" fill="#777777" stroke="#777777" stroke-width="0.6"/><path d="M197.9 79.8L193.9 76.8L190.9 90.7L195 93.7Z" fill="#505050" stroke="#505050" stroke-width="0.5"/><path d="M197.7 80.9L193.7 78L191.1 89.6L195.2 92.6Z" fill="#777777" stroke="#777777" stroke-width="0.6"/><path d="M201.6 67.4L199.1 62.5L191.7 75.3L193.3 80.1Z" fill="#4e4e4e" stroke="#4e4e4e" stroke-width="0.5"/><path d="M201 68.4L198.5 63.5L192.3 74.3L194 79Z" fill="#737373" stroke="#737373" stroke-width="0.6"/><path d="M212.6 58.1L212.1 52.7L204 58.8L206.2 62.8Z" fill="#4e4e4e" stroke="#4e4e4e" stroke-width="0.5"/><path d="M212.1 58.4L211.5 53.2L204.7 58.3L206.7 62.4Z" fill="#737373" stroke="#737373" stroke-width="0.6"/><path d="M192 30.5L185.1 30.1L170.5 41.9L177.5 41.9Z" fill="#b5b5b5" stroke="#b5b5b5" stroke-width="0.5"/><path d="M190.9 31.4L183.9 31.1L171.7 41L178.7 41Z" fill="#f8f8f8" stroke="#f8f8f8" stroke-width="0.6"/><path d="M169.5 54.6L163.5 57.9L159.1 71.3L164.7 67.8Z" fill="#949494" stroke="#949494" stroke-width="0.5"/><path d="M169.1 55.6L163.1 58.9L159.4 70.2L165.1 66.8Z" fill="#d2d2d2" stroke="#d2d2d2" stroke-width="0.6"/><path d="M163.9 75.2L158.4 78.8L155.3 92.4L160.7 88.9Z" fill="#8d8d8d" stroke="#8d8d8d" stroke-width="0.5"/><path d="M163.6 76.3L158.1 79.9L155.5 91.4L161 87.8Z" fill="#cacaca" stroke="#cacaca" stroke-width="0.6"/><path d="M159.1 98.1L153.6 102.6L152.6 108.2L157.7 105.3Z" fill="#8a8a8a" stroke="#8a8a8a" stroke-width="0.5"/><path d="M159 98.7L153.5 103.1L152.7 107.8L157.8 104.7Z" fill="#c7c7c7" stroke="#c7c7c7" stroke-width="0.6"/><path d="M189.7 95.8L183.1 94.2L180.9 106L187.2 109.1Z" fill="#676767" stroke="#676767" stroke-width="0.5"/><path d="M189.5 96.8L182.9 95.1L181 105L187.4 108Z" fill="#989898" stroke="#989898" stroke-width="0.6"/><path d="M193.9 76.8L187.5 74.5L184.4 88.2L190.9 90.7Z" fill="#666666" stroke="#666666" stroke-width="0.5"/><path d="M193.7 78L187.2 75.6L184.6 87.1L191.1 89.6Z" fill="#979797" stroke="#979797" stroke-width="0.6"/><path d="M212.1 52.7L209.4 46.3L199.6 53.6L204 58.8Z" fill="#5f5f5f" stroke="#5f5f5f" stroke-width="0.5"/><path d="M211.5 53.2L208.6 46.8L200.4 53L204.7 58.3Z" fill="#8d8d8d" stroke="#8d8d8d" stroke-width="0.6"/><path d="M199.1 62.5L193.6 57.8L187.1 70.6L191.7 75.3Z" fill="#626262" stroke="#626262" stroke-width="0.5"/><path d="M198.5 63.5L193.1 58.8L187.6 69.6L192.3 74.3Z" fill="#919191" stroke="#919191" stroke-width="0.6"/><path d="M198.7 34.1L192 30.5L177.5 41.9L185.6 44.1Z" fill="#c3c3c3" stroke="#c3c3c3" stroke-width="0.5"/><path d="M197.7 34.9L190.9 31.4L178.7 41L186.6 43.3Z" fill="#ffffff" stroke="#ffffff" stroke-width="0.6"/><path d="M177.3 53.4L169.5 54.6L164.7 67.8L172.2 66.5Z" fill="#a7a7a7" stroke="#a7a7a7" stroke-width="0.5"/><path d="M176.9 54.5L169.1 55.6L165.1 66.8L172.6 65.5Z" fill="#e8e8e8" stroke="#e8e8e8" stroke-width="0.6"/><path d="M171.3 73.3L163.9 75.2L160.7 88.9L168.1 87Z" fill="#9e9e9e" stroke="#9e9e9e" stroke-width="0.5"/><path d="M171 74.4L163.6 76.3L161 87.8L168.4 85.9Z" fill="#dedede" stroke="#dedede" stroke-width="0.6"/><path d="M166.5 95.2L159.1 98.1L157.7 105.3L164.9 103.9Z" fill="#9b9b9b" stroke="#9b9b9b" stroke-width="0.5"/><path d="M166.4 95.9L159 98.7L157.8 104.7L165.1 103.2Z" fill="#dbdbdb" stroke="#dbdbdb" stroke-width="0.6"/><path d="M193.6 57.8L185.8 54.5L180.2 67.5L187.1 70.6Z" fill="#797979" stroke="#797979" stroke-width="0.5"/><path d="M193.1 58.8L185.3 55.6L180.7 66.4L187.6 69.6Z" fill="#b2b2b2" stroke="#b2b2b2" stroke-width="0.6"/><path d="M185.8 54.5L177.3 53.4L172.2 66.5L180.2 67.5Z" fill="#949494" stroke="#949494" stroke-width="0.5"/><path d="M185.3 55.6L176.9 54.5L172.6 65.5L180.7 66.4Z" fill="#d3d3d3" stroke="#d3d3d3" stroke-width="0.6"/><path d="M209.4 46.3L204.8 39.7L193.2 48.3L199.6 53.6Z" fill="#777777" stroke="#777777" stroke-width="0.5"/><path d="M208.6 46.8L203.9 40.4L194.1 47.6L200.4 53Z" fill="#afafaf" stroke="#afafaf" stroke-width="0.6"/><path d="M204.8 39.7L198.7 34.1L185.6 44.1L193.2 48.3Z" fill="#9a9a9a" stroke="#9a9a9a" stroke-width="0.5"/><path d="M203.9 40.4L197.7 34.9L186.6 43.3L194.1 47.6Z" fill="#d9d9d9" stroke="#d9d9d9" stroke-width="0.6"/><path d="M187.5 74.5L179.6 73.2L176.4 86.8L184.4 88.2Z" fill="#7b7b7b" stroke="#7b7b7b" stroke-width="0.5"/><path d="M187.2 75.6L179.3 74.3L176.7 85.7L184.6 87.1Z" fill="#b4b4b4" stroke="#b4b4b4" stroke-width="0.6"/><path d="M174.9 93.9L166.5 95.2L164.9 103.9L173.1 104.1Z" fill="#919191" stroke="#919191" stroke-width="0.5"/><path d="M174.8 94.7L166.4 95.9L165.1 103.2L173.2 103.3Z" fill="#d0d0d0" stroke="#d0d0d0" stroke-width="0.6"/><path d="M179.6 73.2L171.3 73.3L168.1 87L176.4 86.8Z" fill="#929292" stroke="#929292" stroke-width="0.5"/><path d="M179.3 74.3L171 74.4L168.4 85.9L176.7 85.7Z" fill="#d0d0d0" stroke="#d0d0d0" stroke-width="0.6"/><path d="M183.1 94.2L174.9 93.9L173.1 104.1L180.9 106Z" fill="#7b7b7b" stroke="#7b7b7b" stroke-width="0.5"/><path d="M182.9 95.1L174.8 94.7L173.2 103.3L181 105Z" fill="#b4b4b4" stroke="#b4b4b4" stroke-width="0.6"/>
<path d="M235.7 281L237.7 276.2L239.9 277.5L237.9 282.3Z" fill="#494949" stroke="#494949" stroke-width="0.5"/><path d="M235.8 281.1L237.8 276.3L239.7 277.4L237.7 282.2Z" fill="#6b6b6b" stroke="#6b6b6b" stroke-width="0.6"/><path d="M232 284.8L235.7 281L237.9 282.3L234.3 286.2Z" fill="#4c4c4c" stroke="#4c4c4c" stroke-width="0.5"/><path d="M232.2 285L235.8 281.1L237.7 282.2L234.1 286.1Z" fill="#707070" stroke="#707070" stroke-width="0.6"/><path d="M231.4 278.5L233.3 273.6L234.2 274.1L232.1 278.9Z" fill="#494949" stroke="#494949" stroke-width="0.5"/><path d="M231.5 278.5L233.4 273.6L234.2 274.1L232.1 278.8Z" fill="#6b6b6b" stroke="#6b6b6b" stroke-width="0.6"/><path d="M233.2 279.5L235.2 274.7L237.4 276L235.4 280.8Z" fill="#494949" stroke="#494949" stroke-width="0.5"/><path d="M233.3 279.6L235.3 274.8L237.2 275.9L235.2 280.7Z" fill="#6b6b6b" stroke="#6b6b6b" stroke-width="0.6"/><path d="M229.5 283.3L233.2 279.5L235.4 280.8L231.8 284.7Z" fill="#4c4c4c" stroke="#4c4c4c" stroke-width="0.5"/><path d="M229.7 283.5L233.3 279.6L235.2 280.7L231.6 284.6Z" fill="#707070" stroke="#707070" stroke-width="0.6"/><path d="M235.2 286.7L238.9 283L239.6 283.4L236.1 287.3Z" fill="#4c4c4c" stroke="#4c4c4c" stroke-width="0.5"/><path d="M235.3 286.8L239 283L239.6 283.3L236 287.2Z" fill="#707070" stroke="#707070" stroke-width="0.6"/><path d="M237.7 276.2L237.7 271.1L240 272.4L239.9 277.5Z" fill="#424242" stroke="#424242" stroke-width="0.5"/><path d="M237.8 276.3L237.9 271.2L239.8 272.3L239.7 277.4Z" fill="#616161" stroke="#616161" stroke-width="0.6"/><path d="M235.2 274.7L235.2 269.6L237.5 270.9L237.4 276Z" fill="#424242" stroke="#424242" stroke-width="0.5"/><path d="M235.3 274.8L235.4 269.7L237.3 270.8L237.2 275.9Z" fill="#616161" stroke="#616161" stroke-width="0.6"/><path d="M233.3 273.6L233.3 268.4L234.4 269.1L234.2 274.1Z" fill="#424242" stroke="#424242" stroke-width="0.5"/><path d="M233.4 273.6L233.4 268.5L234.3 269.1L234.2 274.1Z" fill="#616161" stroke="#616161" stroke-width="0.6"/><path d="M224.8 285.6L229.5 283.3L231.8 284.7L227 286.9Z" fill="#4c4c4c" stroke="#4c4c4c" stroke-width="0.5"/><path d="M225 285.7L229.7 283.5L231.6 284.6L226.8 286.8Z" fill="#707070" stroke="#707070" stroke-width="0.6"/><path d="M227.3 287.1L232 284.8L234.3 286.2L229.5 288.4Z" fill="#4c4c4c" stroke="#4c4c4c" stroke-width="0.5"/><path d="M227.5 287.2L232.2 285L234.1 286.1L229.3 288.3Z" fill="#707070" stroke="#707070" stroke-width="0.6"/><path d="M230.3 288.9L235.2 286.7L236.1 287.3L231.5 289.6Z" fill="#4c4c4c" stroke="#4c4c4c" stroke-width="0.5"/><path d="M230.4 289L235.3 286.8L236 287.2L231.4 289.6Z" fill="#707070" stroke="#707070" stroke-width="0.6"/><path d="M225 289.2L230.3 288.9L231.5 289.6L226.5 290Z" fill="#484848" stroke="#484848" stroke-width="0.5"/><path d="M225.2 289.2L230.4 289L231.4 289.6L226.3 290Z" fill="#6a6a6a" stroke="#6a6a6a" stroke-width="0.6"/><path d="M237.7 271.1L235.9 266.6L238.1 267.9L240 272.4Z" fill="#393939" stroke="#393939" stroke-width="0.5"/><path d="M237.9 271.2L236.1 266.7L238 267.8L239.8 272.3Z" fill="#545454" stroke="#545454" stroke-width="0.6"/><path d="M235.2 269.6L233.4 265.1L235.6 266.4L237.5 270.9Z" fill="#393939" stroke="#393939" stroke-width="0.5"/><path d="M235.4 269.7L233.6 265.2L235.5 266.3L237.3 270.8Z" fill="#545454" stroke="#545454" stroke-width="0.6"/><path d="M233.3 268.4L231.3 263.8L232.7 264.7L234.4 269.1Z" fill="#393939" stroke="#393939" stroke-width="0.5"/><path d="M233.4 268.5L231.4 263.9L232.6 264.6L234.3 269.1Z" fill="#545454" stroke="#545454" stroke-width="0.6"/><path d="M219.6 285.9L224.8 285.6L227 286.9L221.9 287.3Z" fill="#484848" stroke="#484848" stroke-width="0.5"/><path d="M219.8 286L225 285.7L226.8 286.8L221.7 287.2Z" fill="#6a6a6a" stroke="#6a6a6a" stroke-width="0.6"/><path d="M222.1 287.4L227.3 287.1L229.5 288.4L224.4 288.8Z" fill="#484848" stroke="#484848" stroke-width="0.5"/><path d="M222.3 287.5L227.5 287.2L229.3 288.3L224.2 288.7Z" fill="#6a6a6a" stroke="#6a6a6a" stroke-width="0.6"/><path d="M233.4 265.1L230 261.8L232.2 263.2L235.6 266.4Z" fill="#333333" stroke="#333333" stroke-width="0.5"/><path d="M233.6 265.2L230.2 261.9L232 263.1L235.5 266.3Z" fill="#4c4c4c" stroke="#4c4c4c" stroke-width="0.6"/><path d="M214.8 284.2L219.6 285.9L221.9 287.3L217.1 285.6Z" fill="#414141" stroke="#414141" stroke-width="0.5"/><path d="M215 284.3L219.8 286L221.7 287.2L216.9 285.5Z" fill="#5f5f5f" stroke="#5f5f5f" stroke-width="0.6"/><path d="M231.3 263.8L227.8 260.5L229.4 261.5L232.7 264.7Z" fill="#333333" stroke="#333333" stroke-width="0.5"/><path d="M231.4 263.9L227.9 260.6L229.3 261.4L232.6 264.6Z" fill="#4c4c4c" stroke="#4c4c4c" stroke-width="0.6"/><path d="M235.9 266.6L232.5 263.3L234.7 264.7L238.1 267.9Z" fill="#333333" stroke="#333333" stroke-width="0.5"/><path d="M236.1 266.7L232.7 263.4L234.5 264.6L238 267.8Z" fill="#4c4c4c" stroke="#4c4c4c" stroke-width="0.6"/><path d="M217.3 285.7L222.1 287.4L224.4 288.8L219.6 287.1Z" fill="#414141" stroke="#414141" stroke-width="0.5"/><path d="M217.5 285.8L222.3 287.5L224.2 288.7L219.4 287Z" fill="#5f5f5f" stroke="#5f5f5f" stroke-width="0.6"/><path d="M220.1 287.4L225 289.2L226.5 290L221.8 288.4Z" fill="#414141" stroke="#414141" stroke-width="0.5"/><path d="M220.2 287.5L225.2 289.2L226.3 290L221.6 288.3Z" fill="#5f5f5f" stroke="#5f5f5f" stroke-width="0.6"/><path d="M232.5 263.3L228 261.8L230.2 263.2L234.7 264.7Z" fill="#585858" stroke="#585858" stroke-width="0.5"/><path d="M232.7 263.4L228.2 261.9L230 263.1L234.5 264.6Z" fill="#818181" stroke="#818181" stroke-width="0.6"/><path d="M213.6 282.3L217.3 285.7L219.6 287.1L215.8 283.6Z" fill="#404040" stroke="#404040" stroke-width="0.5"/><path d="M213.8 282.4L217.5 285.8L219.4 287L215.6 283.5Z" fill="#5f5f5f" stroke="#5f5f5f" stroke-width="0.6"/><path d="M216.2 283.9L220.1 287.4L221.8 288.4L218.2 285Z" fill="#404040" stroke="#404040" stroke-width="0.5"/><path d="M216.4 284L220.2 287.5L221.6 288.3L218 284.9Z" fill="#5f5f5f" stroke="#5f5f5f" stroke-width="0.6"/><path d="M227.8 260.5L223.1 258.9L225.1 260.1L229.4 261.5Z" fill="#585858" stroke="#585858" stroke-width="0.5"/><path d="M227.9 260.6L223.3 259L224.9 260L229.3 261.4Z" fill="#818181" stroke="#818181" stroke-width="0.6"/><path d="M230 261.8L225.5 260.3L227.7 261.7L232.2 263.2Z" fill="#585858" stroke="#585858" stroke-width="0.5"/><path d="M230.2 261.9L225.7 260.4L227.5 261.6L232 263.1Z" fill="#818181" stroke="#818181" stroke-width="0.6"/><path d="M211.1 280.8L214.8 284.2L217.1 285.6L213.3 282.1Z" fill="#404040" stroke="#404040" stroke-width="0.5"/><path d="M211.3 280.9L215 284.3L216.9 285.5L213.1 282Z" fill="#5f5f5f" stroke="#5f5f5f" stroke-width="0.6"/><path d="M228 261.8L223.1 262.4L225.4 263.7L230.2 263.2Z" fill="#666666" stroke="#666666" stroke-width="0.5"/><path d="M228.2 261.9L223.3 262.5L225.2 263.6L230 263.1Z" fill="#969696" stroke="#969696" stroke-width="0.6"/><path d="M225.5 260.3L220.6 260.9L222.9 262.2L227.7 261.7Z" fill="#666666" stroke="#666666" stroke-width="0.5"/><path d="M225.7 260.4L220.8 261L222.7 262.1L227.5 261.6Z" fill="#969696" stroke="#969696" stroke-width="0.6"/><path d="M223.1 258.9L218.2 259.4L220.3 260.7L225.1 260.1Z" fill="#666666" stroke="#666666" stroke-width="0.5"/><path d="M223.3 259L218.3 259.5L220.2 260.6L224.9 260Z" fill="#969696" stroke="#969696" stroke-width="0.6"/><path d="M208.9 276.1L211.1 280.8L213.3 282.1L211.2 277.4Z" fill="#4a4a4a" stroke="#4a4a4a" stroke-width="0.5"/><path d="M209.1 276.2L211.3 280.9L213.1 282L211 277.3Z" fill="#6d6d6d" stroke="#6d6d6d" stroke-width="0.6"/><path d="M211.4 277.6L213.6 282.3L215.8 283.6L213.7 278.9Z" fill="#4a4a4a" stroke="#4a4a4a" stroke-width="0.5"/><path d="M211.6 277.7L213.8 282.4L215.6 283.5L213.5 278.8Z" fill="#6d6d6d" stroke="#6d6d6d" stroke-width="0.6"/><path d="M214 279.1L216.2 283.9L218.2 285L216.1 280.4Z" fill="#4a4a4a" stroke="#4a4a4a" stroke-width="0.5"/><path d="M214.1 279.2L216.4 284L218 284.9L216 280.3Z" fill="#6d6d6d" stroke="#6d6d6d" stroke-width="0.6"/><path d="M223.1 262.4L218.7 264.8L220.9 266.1L225.4 263.7Z" fill="#747474" stroke="#747474" stroke-width="0.5"/><path d="M223.3 262.5L218.9 264.9L220.8 266L225.2 263.6Z" fill="#a7a7a7" stroke="#a7a7a7" stroke-width="0.6"/><path d="M218.2 259.4L213.7 261.8L215.9 263.1L220.3 260.7Z" fill="#747474" stroke="#747474" stroke-width="0.5"/><path d="M218.3 259.5L213.9 261.9L215.8 263L220.2 260.6Z" fill="#a7a7a7" stroke="#a7a7a7" stroke-width="0.6"/><path d="M220.6 260.9L216.2 263.3L218.4 264.6L222.9 262.2Z" fill="#747474" stroke="#747474" stroke-width="0.5"/><path d="M220.8 261L216.4 263.4L218.3 264.5L222.7 262.1Z" fill="#a7a7a7" stroke="#a7a7a7" stroke-width="0.6"/><path d="M208.7 270.8L208.9 276.1L211.2 277.4L210.9 272.2Z" fill="#5a5a5a" stroke="#5a5a5a" stroke-width="0.5"/><path d="M208.9 271L209.1 276.2L211 277.3L210.8 272.1Z" fill="#848484" stroke="#848484" stroke-width="0.6"/><path d="M211.2 272.3L211.4 277.6L213.7 278.9L213.4 273.7Z" fill="#5a5a5a" stroke="#5a5a5a" stroke-width="0.5"/><path d="M211.4 272.5L211.6 277.7L213.5 278.8L213.3 273.6Z" fill="#848484" stroke="#848484" stroke-width="0.6"/><path d="M213.7 273.8L214 279.1L216.1 280.4L215.9 275.2Z" fill="#5a5a5a" stroke="#5a5a5a" stroke-width="0.5"/><path d="M213.9 274L214.1 279.2L216 280.3L215.8 275.1Z" fill="#848484" stroke="#848484" stroke-width="0.6"/><path d="M216.2 263.3L212.9 267.3L215.1 268.7L218.4 264.6Z" fill="#757575" stroke="#757575" stroke-width="0.5"/><path d="M216.4 263.4L213.1 267.4L214.9 268.6L218.3 264.5Z" fill="#a8a8a8" stroke="#a8a8a8" stroke-width="0.6"/><path d="M212.9 267.3L211.2 272.3L213.4 273.7L215.1 268.7Z" fill="#686868" stroke="#686868" stroke-width="0.5"/><path d="M213.1 267.4L211.4 272.5L213.3 273.6L214.9 268.6Z" fill="#989898" stroke="#989898" stroke-width="0.6"/><path d="M213.7 261.8L210.4 265.8L212.6 267.2L215.9 263.1Z" fill="#757575" stroke="#757575" stroke-width="0.5"/><path d="M213.9 261.9L210.6 265.9L212.4 267.1L215.8 263Z" fill="#a8a8a8" stroke="#a8a8a8" stroke-width="0.6"/><path d="M210.4 265.8L208.7 270.8L210.9 272.2L212.6 267.2Z" fill="#686868" stroke="#686868" stroke-width="0.5"/><path d="M210.6 265.9L208.9 271L210.8 272.1L212.4 267.1Z" fill="#989898" stroke="#989898" stroke-width="0.6"/><path d="M218.7 264.8L215.4 268.8L217.6 270.2L220.9 266.1Z" fill="#757575" stroke="#757575" stroke-width="0.5"/><path d="M218.9 264.9L215.6 268.9L217.4 270.1L220.8 266Z" fill="#a8a8a8" stroke="#a8a8a8" stroke-width="0.6"/><path d="M215.4 268.8L213.7 273.8L215.9 275.2L217.6 270.2Z" fill="#686868" stroke="#686868" stroke-width="0.5"/><path d="M215.6 268.9L213.9 274L215.8 275.1L217.4 270.1Z" fill="#989898" stroke="#989898" stroke-width="0.6"/>
<path d="M300.2 304.7L304.8 301.6L307.4 303.1L303.8 306.8Z" fill="#404040" stroke="#404040" stroke-width="0.5"/><path d="M300.5 304.9L305 301.7L307.2 302.9L303.5 306.6Z" fill="#5e5e5e" stroke="#5e5e5e" stroke-width="0.6"/><path d="M276.8 285.6L278.9 281.1L282.5 283.1L279.4 287.1Z" fill="#3d3d3d" stroke="#3d3d3d" stroke-width="0.5"/><path d="M277 285.7L279.2 281.2L282.2 283L279.2 286.9Z" fill="#5a5a5a" stroke="#5a5a5a" stroke-width="0.6"/><path d="M287.7 291.8L290.4 287.6L299.1 292.6L296.4 296.8Z" fill="#3d3d3d" stroke="#3d3d3d" stroke-width="0.5"/><path d="M288.4 292.2L291.1 288L298.4 292.2L295.7 296.4Z" fill="#5a5a5a" stroke="#5a5a5a" stroke-width="0.6"/><path d="M283.7 295.3L287.7 291.8L296.4 296.8L292.4 300.2Z" fill="#404040" stroke="#404040" stroke-width="0.5"/><path d="M284.4 295.7L288.4 292.2L295.7 296.4L291.7 299.8Z" fill="#5e5e5e" stroke="#5e5e5e" stroke-width="0.6"/><path d="M290.4 287.6L291.4 283.3L300.1 288.3L299.1 292.6Z" fill="#373737" stroke="#373737" stroke-width="0.5"/><path d="M291.1 288L292.1 283.7L299.4 287.9L298.4 292.2Z" fill="#515151" stroke="#515151" stroke-width="0.6"/><path d="M278.9 281.1L279.4 276.5L284 279.1L282.5 283.1Z" fill="#373737" stroke="#373737" stroke-width="0.5"/><path d="M279.2 281.2L279.8 276.7L283.6 278.9L282.2 283Z" fill="#515151" stroke="#515151" stroke-width="0.6"/><path d="M278.8 297.3L283.7 295.3L292.4 300.2L287.4 302.3Z" fill="#404040" stroke="#404040" stroke-width="0.5"/><path d="M279.5 297.7L284.4 295.7L291.7 299.8L286.7 301.9Z" fill="#5e5e5e" stroke="#5e5e5e" stroke-width="0.6"/><path d="M294.8 306.5L300.2 304.7L303.8 306.8L299.4 309.1Z" fill="#404040" stroke="#404040" stroke-width="0.5"/><path d="M295.2 306.7L300.5 304.9L303.5 306.6L299 308.9Z" fill="#5e5e5e" stroke="#5e5e5e" stroke-width="0.6"/><path d="M291.4 283.3L290.7 279.7L299.4 284.7L300.1 288.3Z" fill="#2f2f2f" stroke="#2f2f2f" stroke-width="0.5"/><path d="M292.1 283.7L291.4 280.1L298.7 284.3L299.4 287.9Z" fill="#464646" stroke="#464646" stroke-width="0.6"/><path d="M279.4 276.5L278.3 272.6L283.8 275.8L284 279.1Z" fill="#2f2f2f" stroke="#2f2f2f" stroke-width="0.5"/><path d="M279.8 276.7L278.7 272.9L283.4 275.5L283.6 278.9Z" fill="#464646" stroke="#464646" stroke-width="0.6"/><path d="M273.6 297.6L278.8 297.3L287.4 302.3L282.2 302.5Z" fill="#3d3d3d" stroke="#3d3d3d" stroke-width="0.5"/><path d="M274.3 298L279.5 297.7L286.7 301.9L281.5 302.1Z" fill="#595959" stroke="#595959" stroke-width="0.6"/><path d="M289.1 306.5L294.8 306.5L299.4 309.1L294.7 309.6Z" fill="#3d3d3d" stroke="#3d3d3d" stroke-width="0.5"/><path d="M289.6 306.7L295.2 306.7L299 308.9L294.2 309.4Z" fill="#595959" stroke="#595959" stroke-width="0.6"/><path d="M290.7 279.7L288.6 277.4L297.3 282.4L299.4 284.7Z" fill="#2b2b2b" stroke="#2b2b2b" stroke-width="0.5"/><path d="M291.4 280.1L289.3 277.8L296.6 282L298.7 284.3Z" fill="#404040" stroke="#404040" stroke-width="0.6"/><path d="M268.7 296L273.6 297.6L282.2 302.5L277.4 300.9Z" fill="#373737" stroke="#373737" stroke-width="0.5"/><path d="M269.4 296.4L274.3 298L281.5 302.1L276.7 300.5Z" fill="#515151" stroke="#515151" stroke-width="0.6"/><path d="M278.3 272.6L275.7 270L282.2 273.7L283.8 275.8Z" fill="#2b2b2b" stroke="#2b2b2b" stroke-width="0.5"/><path d="M278.7 272.9L276.2 270.3L281.7 273.4L283.4 275.5Z" fill="#404040" stroke="#404040" stroke-width="0.6"/><path d="M283.8 304.6L289.1 306.5L294.7 309.6L290.3 308.3Z" fill="#373737" stroke="#373737" stroke-width="0.5"/><path d="M284.3 304.9L289.6 306.7L294.2 309.4L289.8 308Z" fill="#515151" stroke="#515151" stroke-width="0.6"/><path d="M279.5 301L283.8 304.6L290.3 308.3L287 305.3Z" fill="#363636" stroke="#363636" stroke-width="0.5"/><path d="M280.1 301.3L284.3 304.9L289.8 308L286.4 304.9Z" fill="#505050" stroke="#505050" stroke-width="0.6"/><path d="M275.7 270L272.2 269.1L279.7 273.4L282.2 273.7Z" fill="#4a4a4a" stroke="#4a4a4a" stroke-width="0.5"/><path d="M276.2 270.3L272.8 269.5L279.1 273.1L281.7 273.4Z" fill="#6e6e6e" stroke="#6e6e6e" stroke-width="0.6"/><path d="M288.6 277.4L285.6 276.8L294.2 281.7L297.3 282.4Z" fill="#4a4a4a" stroke="#4a4a4a" stroke-width="0.5"/><path d="M289.3 277.8L286.3 277.2L293.6 281.3L296.6 282Z" fill="#6e6e6e" stroke="#6e6e6e" stroke-width="0.6"/><path d="M264.9 292.6L268.7 296L277.4 300.9L273.6 297.6Z" fill="#363636" stroke="#363636" stroke-width="0.5"/><path d="M265.6 293L269.4 296.4L276.7 300.5L272.9 297.2Z" fill="#505050" stroke="#505050" stroke-width="0.6"/><path d="M285.6 276.8L282.1 278.1L290.8 283L294.2 281.7Z" fill="#575757" stroke="#575757" stroke-width="0.5"/><path d="M286.3 277.2L282.8 278.4L290.1 282.6L293.6 281.3Z" fill="#7f7f7f" stroke="#7f7f7f" stroke-width="0.6"/><path d="M272.2 269.1L268.2 270.1L276.7 274.9L279.7 273.4Z" fill="#575757" stroke="#575757" stroke-width="0.5"/><path d="M272.8 269.5L268.9 270.5L276 274.6L279.1 273.1Z" fill="#7f7f7f" stroke="#7f7f7f" stroke-width="0.6"/><path d="M262.5 288L264.9 292.6L273.6 297.6L271.2 293Z" fill="#3e3e3e" stroke="#3e3e3e" stroke-width="0.5"/><path d="M263.2 288.4L265.6 293L272.9 297.2L270.5 292.6Z" fill="#5b5b5b" stroke="#5b5b5b" stroke-width="0.6"/><path d="M276.6 296.1L279.5 301L287 305.3L285.1 300.9Z" fill="#3e3e3e" stroke="#3e3e3e" stroke-width="0.5"/><path d="M277.3 296.5L280.1 301.3L286.4 304.9L284.4 300.5Z" fill="#5b5b5b" stroke="#5b5b5b" stroke-width="0.6"/><path d="M268.2 270.1L264.9 273.1L273.6 278.1L276.7 274.9Z" fill="#646464" stroke="#646464" stroke-width="0.5"/><path d="M268.9 270.5L265.6 273.5L272.9 277.7L276 274.6Z" fill="#8f8f8f" stroke="#8f8f8f" stroke-width="0.6"/><path d="M282.1 278.1L278.9 281.1L287.6 286.1L290.8 283Z" fill="#646464" stroke="#646464" stroke-width="0.5"/><path d="M282.8 278.4L279.6 281.5L286.9 285.7L290.1 282.6Z" fill="#8f8f8f" stroke="#8f8f8f" stroke-width="0.6"/><path d="M261.8 282.7L262.5 288L271.2 293L270.4 287.7Z" fill="#4b4b4b" stroke="#4b4b4b" stroke-width="0.5"/><path d="M262.4 283.1L263.2 288.4L270.5 292.6L269.7 287.3Z" fill="#6f6f6f" stroke="#6f6f6f" stroke-width="0.6"/><path d="M275.8 290.7L276.6 296.1L285.1 300.9L284.4 295.7Z" fill="#4b4b4b" stroke="#4b4b4b" stroke-width="0.5"/><path d="M276.4 291.1L277.3 296.5L284.4 300.5L283.7 295.3Z" fill="#6f6f6f" stroke="#6f6f6f" stroke-width="0.6"/><path d="M278.9 281.1L276.7 285.5L285.3 290.5L287.6 286.1Z" fill="#646464" stroke="#646464" stroke-width="0.5"/><path d="M279.6 281.5L277.4 285.9L284.6 290.1L286.9 285.7Z" fill="#8f8f8f" stroke="#8f8f8f" stroke-width="0.6"/><path d="M276.7 285.5L275.8 290.7L284.4 295.7L285.3 290.5Z" fill="#585858" stroke="#585858" stroke-width="0.5"/><path d="M277.4 285.9L276.4 291.1L283.7 295.3L284.6 290.1Z" fill="#808080" stroke="#808080" stroke-width="0.6"/><path d="M264.9 273.1L262.7 277.5L271.3 282.5L273.6 278.1Z" fill="#646464" stroke="#646464" stroke-width="0.5"/><path d="M265.6 273.5L263.4 277.9L270.6 282.1L272.9 277.7Z" fill="#8f8f8f" stroke="#8f8f8f" stroke-width="0.6"/><path d="M262.7 277.5L261.8 282.7L270.4 287.7L271.3 282.5Z" fill="#585858" stroke="#585858" stroke-width="0.5"/><path d="M263.4 277.9L262.4 283.1L269.7 287.3L270.6 282.1Z" fill="#808080" stroke="#808080" stroke-width="0.6"/>
<path d="M295.6 239.5L301.1 235.1L317.9 245.9L312.4 250.2Z" fill="#4e4e4e" stroke="#4e4e4e" stroke-width="0.5"/><path d="M297 240.4L302.4 235.9L316.6 245.1L311.1 249.3Z" fill="#737373" stroke="#737373" stroke-width="0.6"/><path d="M143.9 200.1L145.6 194.5L163.8 195.9L162.1 201.5Z" fill="#4b4b4b" stroke="#4b4b4b" stroke-width="0.5"/><path d="M145.3 200.2L147 194.6L162.3 195.8L160.6 201.4Z" fill="#6e6e6e" stroke="#6e6e6e" stroke-width="0.6"/><path d="M170.7 201.4L172.3 195.7L191.3 196.7L189.7 202.5Z" fill="#4a4a4a" stroke="#4a4a4a" stroke-width="0.5"/><path d="M172.2 201.5L173.8 195.8L189.8 196.6L188.2 202.5Z" fill="#6d6d6d" stroke="#6d6d6d" stroke-width="0.6"/><path d="M273 226.4L277.7 221.4L294.3 229.1L289.7 234Z" fill="#4f4f4f" stroke="#4f4f4f" stroke-width="0.5"/><path d="M274.3 227L279 222L293 228.5L288.3 233.4Z" fill="#747474" stroke="#747474" stroke-width="0.6"/><path d="M198.4 200.1L199.2 194L218.1 192.5L217.4 198.5Z" fill="#494949" stroke="#494949" stroke-width="0.5"/><path d="M200 199.9L200.7 193.9L216.6 192.6L215.9 198.6Z" fill="#6c6c6c" stroke="#6c6c6c" stroke-width="0.6"/><path d="M247.6 216L251.8 210.7L270.2 216.8L266.1 222Z" fill="#4f4f4f" stroke="#4f4f4f" stroke-width="0.5"/><path d="M249.1 216.5L253.3 211.2L268.7 216.3L264.6 221.5Z" fill="#747474" stroke="#747474" stroke-width="0.6"/><path d="M225.5 203.1L228.1 197.5L246.2 202.3L243.6 207.7Z" fill="#4a4a4a" stroke="#4a4a4a" stroke-width="0.5"/><path d="M227 203.4L229.6 197.9L244.8 201.9L242.2 207.3Z" fill="#6d6d6d" stroke="#6d6d6d" stroke-width="0.6"/><path d="M221.9 208.4L225.5 203.1L243.6 207.7L240 212.6Z" fill="#4f4f4f" stroke="#4f4f4f" stroke-width="0.5"/><path d="M223.4 208.7L227 203.4L242.2 207.3L238.6 212.3Z" fill="#757575" stroke="#757575" stroke-width="0.6"/><path d="M196.5 206.2L198.4 200.1L217.4 198.5L215.5 204.6Z" fill="#505050" stroke="#505050" stroke-width="0.5"/><path d="M198.1 206L200 199.9L215.9 198.6L214 204.7Z" fill="#777777" stroke="#777777" stroke-width="0.6"/><path d="M251.8 210.7L254.8 205.1L273.2 211.3L270.2 216.8Z" fill="#4a4a4a" stroke="#4a4a4a" stroke-width="0.5"/><path d="M253.3 211.2L256.3 205.6L271.7 210.8L268.7 216.3Z" fill="#6d6d6d" stroke="#6d6d6d" stroke-width="0.6"/><path d="M167.9 207L170.7 201.4L189.7 202.5L186.9 208.2Z" fill="#505050" stroke="#505050" stroke-width="0.5"/><path d="M169.5 207.1L172.2 201.5L188.2 202.5L185.4 208.1Z" fill="#767676" stroke="#767676" stroke-width="0.6"/><path d="M277.7 221.4L281.2 216L297.8 223.8L294.3 229.1Z" fill="#4a4a4a" stroke="#4a4a4a" stroke-width="0.5"/><path d="M279 222L282.5 216.6L296.5 223.2L293 228.5Z" fill="#6d6d6d" stroke="#6d6d6d" stroke-width="0.6"/><path d="M141.1 205.3L143.9 200.1L162.1 201.5L159.2 206.8Z" fill="#515151" stroke="#515151" stroke-width="0.5"/><path d="M142.5 205.4L145.3 200.2L160.6 201.4L157.8 206.7Z" fill="#777777" stroke="#777777" stroke-width="0.6"/><path d="M301.1 235.1L305.5 230.1L322.3 241.1L317.9 245.9Z" fill="#4a4a4a" stroke="#4a4a4a" stroke-width="0.5"/><path d="M302.4 235.9L306.8 230.9L320.9 240.2L316.6 245.1Z" fill="#6d6d6d" stroke="#6d6d6d" stroke-width="0.6"/><path d="M125.8 193.3L125.6 188.5L132.9 189.2L131.2 193.8Z" fill="#424242" stroke="#424242" stroke-width="0.5"/><path d="M126.3 193.4L126.2 188.5L132.3 189.1L130.8 193.8Z" fill="#616161" stroke="#616161" stroke-width="0.6"/><path d="M317.7 263L325.2 260.9L330.2 264.6L324.6 268.1Z" fill="#4e4e4e" stroke="#4e4e4e" stroke-width="0.5"/><path d="M318.2 263.4L325.6 261.2L329.8 264.3L324.1 267.7Z" fill="#727272" stroke="#727272" stroke-width="0.6"/><path d="M289.6 242.6L295.6 239.5L312.4 250.2L306.4 253.1Z" fill="#4e4e4e" stroke="#4e4e4e" stroke-width="0.5"/><path d="M291 243.5L297 240.4L311.1 249.3L305.1 252.3Z" fill="#737373" stroke="#737373" stroke-width="0.6"/><path d="M145.6 194.5L146.1 189.6L164.4 191L163.8 195.9Z" fill="#414141" stroke="#414141" stroke-width="0.5"/><path d="M147 194.6L147.6 189.7L162.9 190.9L162.3 195.8Z" fill="#606060" stroke="#606060" stroke-width="0.6"/><path d="M267.6 230.1L273 226.4L289.7 234L284.4 237.6Z" fill="#4f4f4f" stroke="#4f4f4f" stroke-width="0.5"/><path d="M269 230.7L274.3 227L288.3 233.4L283 237Z" fill="#757575" stroke="#757575" stroke-width="0.6"/><path d="M172.3 195.7L172.7 190.7L191.7 191.6L191.3 196.7Z" fill="#414141" stroke="#414141" stroke-width="0.5"/><path d="M173.8 195.8L174.2 190.7L190.2 191.5L189.8 196.6Z" fill="#5f5f5f" stroke="#5f5f5f" stroke-width="0.6"/><path d="M242.8 220.1L247.6 216L266.1 222L261.2 225.9Z" fill="#505050" stroke="#505050" stroke-width="0.5"/><path d="M244.2 220.5L249.1 216.5L264.6 221.5L259.7 225.4Z" fill="#777777" stroke="#777777" stroke-width="0.6"/><path d="M199.2 194L198.9 188.9L217.8 187.4L218.1 192.5Z" fill="#3f3f3f" stroke="#3f3f3f" stroke-width="0.5"/><path d="M200.7 193.9L200.4 188.8L216.3 187.5L216.6 192.6Z" fill="#5d5d5d" stroke="#5d5d5d" stroke-width="0.6"/><path d="M228.1 197.5L229.5 192.5L247.6 197.5L246.2 202.3Z" fill="#414141" stroke="#414141" stroke-width="0.5"/><path d="M229.6 197.9L231 192.9L246.2 197.1L244.8 201.9Z" fill="#606060" stroke="#606060" stroke-width="0.6"/><path d="M217.7 212.6L221.9 208.4L240 212.6L235.8 216.5Z" fill="#515151" stroke="#515151" stroke-width="0.5"/><path d="M219.1 212.9L223.4 208.7L238.6 212.3L234.4 216.2Z" fill="#787878" stroke="#787878" stroke-width="0.6"/><path d="M254.8 205.1L256.5 200.1L274.8 206.4L273.2 211.3Z" fill="#414141" stroke="#414141" stroke-width="0.5"/><path d="M256.3 205.6L258 200.6L273.3 205.9L271.7 210.8Z" fill="#606060" stroke="#606060" stroke-width="0.6"/><path d="M193.4 211.4L196.5 206.2L215.5 204.6L212.4 209.9Z" fill="#535353" stroke="#535353" stroke-width="0.5"/><path d="M195 211.3L198.1 206L214 204.7L210.9 210Z" fill="#7b7b7b" stroke="#7b7b7b" stroke-width="0.6"/><path d="M164.2 211.5L167.9 207L186.9 208.2L183.1 212.7Z" fill="#525252" stroke="#525252" stroke-width="0.5"/><path d="M165.7 211.6L169.5 207.1L185.4 208.1L181.6 212.6Z" fill="#797979" stroke="#797979" stroke-width="0.6"/><path d="M281.2 216L283.3 211L299.9 219.1L297.8 223.8Z" fill="#424242" stroke="#424242" stroke-width="0.5"/><path d="M282.5 216.6L284.6 211.7L298.6 218.4L296.5 223.2Z" fill="#616161" stroke="#616161" stroke-width="0.6"/><path d="M137.4 209.5L141.1 205.3L159.2 206.8L155.5 211Z" fill="#525252" stroke="#525252" stroke-width="0.5"/><path d="M138.8 209.6L142.5 205.4L157.8 206.7L154 210.9Z" fill="#797979" stroke="#797979" stroke-width="0.6"/><path d="M305.5 230.1L308.3 225.4L325.1 236.7L322.3 241.1Z" fill="#434343" stroke="#434343" stroke-width="0.5"/><path d="M306.8 230.9L309.7 226.3L323.8 235.8L320.9 240.2Z" fill="#636363" stroke="#636363" stroke-width="0.6"/><path d="M310.4 263.1L317.7 263L324.6 268.1L319.3 269.5Z" fill="#4a4a4a" stroke="#4a4a4a" stroke-width="0.5"/><path d="M311.1 263.6L318.2 263.4L324.1 267.7L318.6 269Z" fill="#6d6d6d" stroke="#6d6d6d" stroke-width="0.6"/><path d="M125.6 188.5L124.3 184.9L133.7 185.8L132.9 189.2Z" fill="#373737" stroke="#373737" stroke-width="0.5"/><path d="M126.2 188.5L125.1 185L133 185.7L132.3 189.1Z" fill="#515151" stroke="#515151" stroke-width="0.6"/><path d="M283.8 243.8L289.6 242.6L306.4 253.1L300.6 254.1Z" fill="#4b4b4b" stroke="#4b4b4b" stroke-width="0.5"/><path d="M285.2 244.6L291 243.5L305.1 252.3L299.3 253.2Z" fill="#6e6e6e" stroke="#6e6e6e" stroke-width="0.6"/><path d="M146.1 189.6L145.7 186.1L164.1 187.5L164.4 191Z" fill="#363636" stroke="#363636" stroke-width="0.5"/><path d="M147.6 189.7L147.2 186.2L162.6 187.3L162.9 190.9Z" fill="#505050" stroke="#505050" stroke-width="0.6"/><path d="M172.7 190.7L172.1 187.1L191.1 188L191.7 191.6Z" fill="#353535" stroke="#353535" stroke-width="0.5"/><path d="M174.2 190.7L173.6 187.2L189.6 187.9L190.2 191.5Z" fill="#4f4f4f" stroke="#4f4f4f" stroke-width="0.6"/><path d="M262.2 231.9L267.6 230.1L284.4 237.6L279 239.2Z" fill="#4c4c4c" stroke="#4c4c4c" stroke-width="0.5"/><path d="M263.6 232.5L269 230.7L283 237L277.7 238.7Z" fill="#717171" stroke="#717171" stroke-width="0.6"/><path d="M237.6 222.3L242.8 220.1L261.2 225.9L256 227.9Z" fill="#4e4e4e" stroke="#4e4e4e" stroke-width="0.5"/><path d="M239.1 222.7L244.2 220.5L259.7 225.4L254.6 227.5Z" fill="#737373" stroke="#737373" stroke-width="0.6"/><path d="M198.9 188.9L198 185.5L216.8 184.1L217.8 187.4Z" fill="#353535" stroke="#353535" stroke-width="0.5"/><path d="M200.4 188.8L199.5 185.4L215.3 184.2L216.3 187.5Z" fill="#4e4e4e" stroke="#4e4e4e" stroke-width="0.6"/><path d="M229.5 192.5L229.6 188.9L247.7 194.1L247.6 197.5Z" fill="#373737" stroke="#373737" stroke-width="0.5"/><path d="M231 192.9L231.1 189.3L246.3 193.6L246.2 197.1Z" fill="#515151" stroke="#515151" stroke-width="0.6"/><path d="M213.2 215.1L217.7 212.6L235.8 216.5L231.4 218.5Z" fill="#4f4f4f" stroke="#4f4f4f" stroke-width="0.5"/><path d="M214.6 215.4L219.1 212.9L234.4 216.2L229.9 218.2Z" fill="#747474" stroke="#747474" stroke-width="0.6"/><path d="M256.5 200.1L256.9 196.5L275 203L274.8 206.4Z" fill="#373737" stroke="#373737" stroke-width="0.5"/><path d="M258 200.6L258.3 197.1L273.6 202.4L273.3 205.9Z" fill="#515151" stroke="#515151" stroke-width="0.6"/><path d="M189.3 214.9L193.4 211.4L212.4 209.9L208.3 213.6Z" fill="#515151" stroke="#515151" stroke-width="0.5"/><path d="M190.8 214.8L195 211.3L210.9 210L206.8 213.7Z" fill="#787878" stroke="#787878" stroke-width="0.6"/><path d="M283.3 211L283.9 207.4L300.4 215.6L299.9 219.1Z" fill="#383838" stroke="#383838" stroke-width="0.5"/><path d="M284.6 211.7L285.2 208.1L299.1 214.9L298.6 218.4Z" fill="#535353" stroke="#535353" stroke-width="0.6"/><path d="M159.8 214.2L164.2 211.5L183.1 212.7L178.7 215.4Z" fill="#505050" stroke="#505050" stroke-width="0.5"/><path d="M161.3 214.3L165.7 211.6L181.6 212.6L177.2 215.3Z" fill="#767676" stroke="#767676" stroke-width="0.6"/><path d="M308.3 225.4L309.4 221.9L326.2 233.4L325.1 236.7Z" fill="#3a3a3a" stroke="#3a3a3a" stroke-width="0.5"/><path d="M309.7 226.3L310.7 222.8L324.8 232.5L323.8 235.8Z" fill="#555555" stroke="#555555" stroke-width="0.6"/><path d="M133.1 212L137.4 209.5L155.5 211L151.1 213.5Z" fill="#4f4f4f" stroke="#4f4f4f" stroke-width="0.5"/><path d="M134.5 212.1L138.8 209.6L154 210.9L149.7 213.4Z" fill="#757575" stroke="#757575" stroke-width="0.6"/><path d="M124.3 184.9L122.5 183.3L133.9 184.3L133.7 185.8Z" fill="#353535" stroke="#353535" stroke-width="0.5"/><path d="M125.1 185L123.4 183.3L132.9 184.2L133 185.7Z" fill="#4e4e4e" stroke="#4e4e4e" stroke-width="0.6"/><path d="M304.2 260.8L310.4 263.1L319.3 269.5L314.9 268.6Z" fill="#434343" stroke="#434343" stroke-width="0.5"/><path d="M305 261.4L311.1 263.6L318.6 269L314 268Z" fill="#626262" stroke="#626262" stroke-width="0.6"/><path d="M145.7 186.1L144.7 184.6L163.1 185.9L164.1 187.5Z" fill="#353535" stroke="#353535" stroke-width="0.5"/><path d="M147.2 186.2L146.2 184.7L161.6 185.8L162.6 187.3Z" fill="#4e4e4e" stroke="#4e4e4e" stroke-width="0.6"/><path d="M278.8 242.7L283.8 243.8L300.6 254.1L295.6 252.7Z" fill="#444444" stroke="#444444" stroke-width="0.5"/><path d="M280.1 243.5L285.2 244.6L299.3 253.2L294.3 251.9Z" fill="#646464" stroke="#646464" stroke-width="0.6"/><path d="M257.2 231.4L262.2 231.9L279 239.2L274.2 238.6Z" fill="#464646" stroke="#464646" stroke-width="0.5"/><path d="M258.6 232L263.6 232.5L277.7 238.7L272.8 238Z" fill="#676767" stroke="#676767" stroke-width="0.6"/><path d="M172.1 187.1L170.9 185.7L189.9 186.4L191.1 188Z" fill="#353535" stroke="#353535" stroke-width="0.5"/><path d="M173.6 187.2L172.5 185.8L188.4 186.3L189.6 187.9Z" fill="#4e4e4e" stroke="#4e4e4e" stroke-width="0.6"/><path d="M198 185.5L196.8 184.2L215.6 183.1L216.8 184.1Z" fill="#353535" stroke="#353535" stroke-width="0.5"/><path d="M199.5 185.4L198.3 184.2L214.1 183.2L215.3 184.2Z" fill="#4e4e4e" stroke="#4e4e4e" stroke-width="0.6"/><path d="M232.7 222.2L237.6 222.3L256 227.9L251.1 227.6Z" fill="#474747" stroke="#474747" stroke-width="0.5"/><path d="M234.2 222.6L239.1 222.7L254.6 227.5L249.7 227.2Z" fill="#696969" stroke="#696969" stroke-width="0.6"/><path d="M208.8 215.5L213.2 215.1L231.4 218.5L227 218.4Z" fill="#494949" stroke="#494949" stroke-width="0.5"/><path d="M210.2 215.7L214.6 215.4L229.9 218.2L225.6 218.1Z" fill="#6b6b6b" stroke="#6b6b6b" stroke-width="0.6"/><path d="M229.6 188.9L228.7 187.3L246.8 192.5L247.7 194.1Z" fill="#353535" stroke="#353535" stroke-width="0.5"/><path d="M231.1 189.3L230.1 187.7L245.3 192.1L246.3 193.6Z" fill="#4e4e4e" stroke="#4e4e4e" stroke-width="0.6"/><path d="M256.9 196.5L256 195L274 201.5L275 203Z" fill="#353535" stroke="#353535" stroke-width="0.5"/><path d="M258.3 197.1L257.4 195.5L272.6 201L273.6 202.4Z" fill="#4e4e4e" stroke="#4e4e4e" stroke-width="0.6"/><path d="M184.6 216.2L189.3 214.9L208.3 213.6L203.6 215.1Z" fill="#4b4b4b" stroke="#4b4b4b" stroke-width="0.5"/><path d="M186.1 216.1L190.8 214.8L206.8 213.7L202.1 215.2Z" fill="#6e6e6e" stroke="#6e6e6e" stroke-width="0.6"/><path d="M155.2 214.8L159.8 214.2L178.7 215.4L174 216Z" fill="#494949" stroke="#494949" stroke-width="0.5"/><path d="M156.7 214.9L161.3 214.3L177.2 215.3L172.5 215.9Z" fill="#6c6c6c" stroke="#6c6c6c" stroke-width="0.6"/><path d="M283.9 207.4L282.9 205.8L299.5 214.1L300.4 215.6Z" fill="#353535" stroke="#353535" stroke-width="0.5"/><path d="M285.2 208.1L284.3 206.5L298.2 213.5L299.1 214.9Z" fill="#4e4e4e" stroke="#4e4e4e" stroke-width="0.6"/><path d="M128.6 212.3L133.1 212L151.1 213.5L146.6 213.9Z" fill="#484848" stroke="#484848" stroke-width="0.5"/><path d="M130 212.4L134.5 212.1L149.7 213.4L145.2 213.7Z" fill="#6b6b6b" stroke="#6b6b6b" stroke-width="0.6"/><path d="M309.4 221.9L308.7 220.3L325.5 231.9L326.2 233.4Z" fill="#353535" stroke="#353535" stroke-width="0.5"/><path d="M310.7 222.8L310 221.2L324.1 231L324.8 232.5Z" fill="#4e4e4e" stroke="#4e4e4e" stroke-width="0.6"/><path d="M299.4 256.2L304.2 260.8L314.9 268.6L312 265.4Z" fill="#424242" stroke="#424242" stroke-width="0.5"/><path d="M300.4 256.9L305 261.4L314 268L311 264.7Z" fill="#626262" stroke="#626262" stroke-width="0.6"/><path d="M122.5 183.3L120.3 183.7L133.7 184.9L133.9 184.3Z" fill="#656565" stroke="#656565" stroke-width="0.5"/><path d="M123.4 183.3L121.3 183.8L132.6 184.8L132.9 184.2Z" fill="#949494" stroke="#949494" stroke-width="0.6"/><path d="M275.1 239.4L278.8 242.7L295.6 252.7L291.9 249.2Z" fill="#424242" stroke="#424242" stroke-width="0.5"/><path d="M276.4 240.2L280.1 243.5L294.3 251.9L290.5 248.4Z" fill="#626262" stroke="#626262" stroke-width="0.6"/><path d="M144.7 184.6L143.4 185.3L161.8 186.5L163.1 185.9Z" fill="#676767" stroke="#676767" stroke-width="0.5"/><path d="M146.2 184.7L144.9 185.4L160.4 186.4L161.6 185.8Z" fill="#969696" stroke="#969696" stroke-width="0.6"/><path d="M253.2 228.5L257.2 231.4L274.2 238.6L270.3 235.6Z" fill="#424242" stroke="#424242" stroke-width="0.5"/><path d="M254.6 229.1L258.6 232L272.8 238L268.9 235Z" fill="#626262" stroke="#626262" stroke-width="0.6"/><path d="M170.9 185.7L169.6 186.6L188.6 187.2L189.9 186.4Z" fill="#696969" stroke="#696969" stroke-width="0.5"/><path d="M172.5 185.8L171.1 186.7L187.1 187.1L188.4 186.3Z" fill="#999999" stroke="#999999" stroke-width="0.6"/><path d="M228.5 219.7L232.7 222.2L251.1 227.6L246.9 225Z" fill="#424242" stroke="#424242" stroke-width="0.5"/><path d="M230 220.2L234.2 222.6L249.7 227.2L245.4 224.6Z" fill="#626262" stroke="#626262" stroke-width="0.6"/><path d="M196.8 184.2L195.7 185.4L214.5 184.4L215.6 183.1Z" fill="#6c6c6c" stroke="#6c6c6c" stroke-width="0.5"/><path d="M198.3 184.2L197.2 185.3L213 184.5L214.1 183.2Z" fill="#9e9e9e" stroke="#9e9e9e" stroke-width="0.6"/><path d="M228.7 187.3L227 188.1L245.1 193.3L246.8 192.5Z" fill="#636363" stroke="#636363" stroke-width="0.5"/><path d="M230.1 187.7L228.4 188.5L243.6 192.9L245.3 192.1Z" fill="#919191" stroke="#919191" stroke-width="0.6"/><path d="M204.8 213.8L208.8 215.5L227 218.4L223.1 216Z" fill="#424242" stroke="#424242" stroke-width="0.5"/><path d="M206.2 213.9L210.2 215.7L225.6 218.1L221.6 215.8Z" fill="#626262" stroke="#626262" stroke-width="0.6"/><path d="M256 195L254.3 195.9L272.2 202.5L274 201.5Z" fill="#626262" stroke="#626262" stroke-width="0.5"/><path d="M257.4 195.5L255.7 196.4L270.8 201.9L272.6 201Z" fill="#909090" stroke="#909090" stroke-width="0.6"/><path d="M179.7 215.1L184.6 216.2L203.6 215.1L198.7 214.2Z" fill="#424242" stroke="#424242" stroke-width="0.5"/><path d="M181.2 215L186.1 216.1L202.1 215.2L197.2 214.2Z" fill="#626262" stroke="#626262" stroke-width="0.6"/><path d="M282.9 205.8L280.9 206.5L297.5 215L299.5 214.1Z" fill="#5f5f5f" stroke="#5f5f5f" stroke-width="0.5"/><path d="M284.3 206.5L282.2 207.2L296.2 214.3L298.2 213.5Z" fill="#8b8b8b" stroke="#8b8b8b" stroke-width="0.6"/><path d="M150.8 213.1L155.2 214.8L174 216L169.6 214.3Z" fill="#424242" stroke="#424242" stroke-width="0.5"/><path d="M152.3 213.2L156.7 214.9L172.5 215.9L168.1 214.2Z" fill="#626262" stroke="#626262" stroke-width="0.6"/><path d="M308.7 220.3L306.5 220.9L323.3 232.7L325.5 231.9Z" fill="#5b5b5b" stroke="#5b5b5b" stroke-width="0.5"/><path d="M310 221.2L307.8 221.9L322 231.8L324.1 231Z" fill="#868686" stroke="#868686" stroke-width="0.6"/><path d="M124.4 210.5L128.6 212.3L146.6 213.9L142.4 212Z" fill="#424242" stroke="#424242" stroke-width="0.5"/><path d="M125.8 210.6L130 212.4L145.2 213.7L140.9 211.9Z" fill="#626262" stroke="#626262" stroke-width="0.6"/><path d="M296.5 249.8L299.4 256.2L312 265.4L311.1 260.4Z" fill="#4c4c4c" stroke="#4c4c4c" stroke-width="0.5"/><path d="M297.7 250.7L300.4 256.9L311 264.7L309.9 259.6Z" fill="#6f6f6f" stroke="#6f6f6f" stroke-width="0.6"/><path d="M120.3 183.7L118.2 186.2L133.7 187.7L133.7 184.9Z" fill="#7c7c7c" stroke="#7c7c7c" stroke-width="0.5"/><path d="M121.3 183.8L119.5 186.3L132.4 187.5L132.6 184.8Z" fill="#b1b1b1" stroke="#b1b1b1" stroke-width="0.6"/><path d="M143.4 185.3L142.4 188.2L160.8 189.4L161.8 186.5Z" fill="#7f7f7f" stroke="#7f7f7f" stroke-width="0.5"/><path d="M144.9 185.4L143.9 188.3L159.4 189.3L160.4 186.4Z" fill="#b4b4b4" stroke="#b4b4b4" stroke-width="0.6"/><path d="M272.9 234.2L275.1 239.4L291.9 249.2L289.7 243.8Z" fill="#494949" stroke="#494949" stroke-width="0.5"/><path d="M274.3 235L276.4 240.2L290.5 248.4L288.4 243Z" fill="#6c6c6c" stroke="#6c6c6c" stroke-width="0.6"/><path d="M250.5 223.7L253.2 228.5L270.3 235.6L267.6 230.6Z" fill="#474747" stroke="#474747" stroke-width="0.5"/><path d="M251.9 224.2L254.6 229.1L268.9 235L266.3 230.1Z" fill="#686868" stroke="#686868" stroke-width="0.6"/><path d="M169.6 186.6L168.6 189.7L187.6 190.1L188.6 187.2Z" fill="#838383" stroke="#838383" stroke-width="0.5"/><path d="M171.1 186.7L170.1 189.8L186.1 190.1L187.1 187.1Z" fill="#b9b9b9" stroke="#b9b9b9" stroke-width="0.6"/><path d="M225.4 215.3L228.5 219.7L246.9 225L243.7 220.4Z" fill="#454545" stroke="#454545" stroke-width="0.5"/><path d="M226.9 215.7L230 220.2L245.4 224.6L242.3 219.9Z" fill="#666666" stroke="#666666" stroke-width="0.6"/><path d="M195.7 185.4L195.2 188.6L213.9 187.9L214.5 184.4Z" fill="#898989" stroke="#898989" stroke-width="0.5"/><path d="M197.2 185.3L196.7 188.6L212.4 188L213 184.5Z" fill="#c0c0c0" stroke="#c0c0c0" stroke-width="0.6"/><path d="M201.4 210.1L204.8 213.8L223.1 216L219.8 211.7Z" fill="#424242" stroke="#424242" stroke-width="0.5"/><path d="M202.9 210.2L206.2 213.9L221.6 215.8L218.3 211.5Z" fill="#626262" stroke="#626262" stroke-width="0.6"/><path d="M227 188.1L225 191.3L243.2 196.4L245.1 193.3Z" fill="#767676" stroke="#767676" stroke-width="0.5"/><path d="M228.4 188.5L226.5 191.7L241.7 196L243.6 192.9Z" fill="#aaaaaa" stroke="#aaaaaa" stroke-width="0.6"/><path d="M254.3 195.9L252.2 199.1L270 205.7L272.2 202.5Z" fill="#737373" stroke="#737373" stroke-width="0.5"/><path d="M255.7 196.4L253.6 199.6L268.6 205.2L270.8 201.9Z" fill="#a6a6a6" stroke="#a6a6a6" stroke-width="0.6"/><path d="M175.2 211.7L179.7 215.1L198.7 214.2L194.2 211Z" fill="#424242" stroke="#424242" stroke-width="0.5"/><path d="M176.8 211.7L181.2 215L197.2 214.2L192.7 211.1Z" fill="#626262" stroke="#626262" stroke-width="0.6"/><path d="M147.1 209.4L150.8 213.1L169.6 214.3L165.8 210.5Z" fill="#444444" stroke="#444444" stroke-width="0.5"/><path d="M148.6 209.4L152.3 213.2L168.1 214.2L164.3 210.5Z" fill="#646464" stroke="#646464" stroke-width="0.6"/><path d="M280.9 206.5L278.2 209.5L294.9 218.2L297.5 215Z" fill="#6e6e6e" stroke="#6e6e6e" stroke-width="0.5"/><path d="M282.2 207.2L279.5 210.2L293.5 217.5L296.2 214.3Z" fill="#a0a0a0" stroke="#a0a0a0" stroke-width="0.6"/><path d="M306.5 220.9L303.4 223.8L320.2 235.8L323.3 232.7Z" fill="#696969" stroke="#696969" stroke-width="0.5"/><path d="M307.8 221.9L304.8 224.8L318.9 234.8L322 231.8Z" fill="#9a9a9a" stroke="#9a9a9a" stroke-width="0.6"/><path d="M120.9 206.7L124.4 210.5L142.4 212L138.8 208.3Z" fill="#454545" stroke="#454545" stroke-width="0.5"/><path d="M122.3 206.8L125.8 210.6L140.9 211.9L137.4 208.2Z" fill="#666666" stroke="#666666" stroke-width="0.6"/><path d="M295.6 242.3L296.5 249.8L311.1 260.4L312 254.3Z" fill="#5c5c5c" stroke="#5c5c5c" stroke-width="0.5"/><path d="M296.9 243.2L297.7 250.7L309.9 259.6L310.7 253.3Z" fill="#878787" stroke="#878787" stroke-width="0.6"/><path d="M118.2 186.2L116.7 190.5L134.2 192.1L133.7 187.7Z" fill="#919191" stroke="#919191" stroke-width="0.5"/><path d="M119.5 186.3L118.1 190.6L132.8 191.9L132.4 187.5Z" fill="#c8c8c8" stroke="#c8c8c8" stroke-width="0.6"/><path d="M142.4 188.2L142 192.8L160.5 193.9L160.8 189.4Z" fill="#939393" stroke="#939393" stroke-width="0.5"/><path d="M143.9 188.3L143.5 192.8L159 193.8L159.4 189.3Z" fill="#cbcbcb" stroke="#cbcbcb" stroke-width="0.6"/><path d="M272.4 227.8L272.9 234.2L289.7 243.8L289.2 237.1Z" fill="#5a5a5a" stroke="#5a5a5a" stroke-width="0.5"/><path d="M273.8 228.5L274.3 235L288.4 243L287.9 236.3Z" fill="#848484" stroke="#848484" stroke-width="0.6"/><path d="M249.2 217.4L250.5 223.7L267.6 230.6L266.5 224.3Z" fill="#585858" stroke="#585858" stroke-width="0.5"/><path d="M250.6 218L251.9 224.2L266.3 230.1L265.1 223.7Z" fill="#828282" stroke="#828282" stroke-width="0.6"/><path d="M168.6 189.7L168.4 194.6L187.4 194.8L187.6 190.1Z" fill="#979797" stroke="#979797" stroke-width="0.5"/><path d="M170.1 189.8L170 194.7L185.9 194.8L186.1 190.1Z" fill="#cfcfcf" stroke="#cfcfcf" stroke-width="0.6"/><path d="M223.5 209.3L225.4 215.3L243.7 220.4L241.8 214.2Z" fill="#575757" stroke="#575757" stroke-width="0.5"/><path d="M225 209.7L226.9 215.7L242.3 219.9L240.3 213.8Z" fill="#818181" stroke="#818181" stroke-width="0.6"/><path d="M195.2 188.6L195.5 193.5L214.1 193.1L213.9 187.9Z" fill="#9a9a9a" stroke="#9a9a9a" stroke-width="0.5"/><path d="M196.7 188.6L197 193.5L212.6 193.2L212.4 188Z" fill="#d2d2d2" stroke="#d2d2d2" stroke-width="0.6"/><path d="M198.7 205.1L201.4 210.1L219.8 211.7L217.2 205.9Z" fill="#565656" stroke="#565656" stroke-width="0.5"/><path d="M200.2 205.1L202.9 210.2L218.3 211.5L215.7 205.8Z" fill="#7e7e7e" stroke="#7e7e7e" stroke-width="0.6"/><path d="M225 191.3L223.5 196.4L241.6 201.3L243.2 196.4Z" fill="#868686" stroke="#868686" stroke-width="0.5"/><path d="M226.5 191.7L224.9 196.8L240.2 200.9L241.7 196Z" fill="#bdbdbd" stroke="#bdbdbd" stroke-width="0.6"/><path d="M252.2 199.1L250.4 204.2L268 210.9L270 205.7Z" fill="#818181" stroke="#818181" stroke-width="0.5"/><path d="M253.6 199.6L251.8 204.8L266.6 210.4L268.6 205.2Z" fill="#b7b7b7" stroke="#b7b7b7" stroke-width="0.6"/><path d="M171.7 206.6L175.2 211.7L194.2 211L190.6 206.2Z" fill="#555555" stroke="#555555" stroke-width="0.5"/><path d="M173.2 206.6L176.8 211.7L192.7 211.1L189.1 206.3Z" fill="#7e7e7e" stroke="#7e7e7e" stroke-width="0.6"/><path d="M144.3 204.2L147.1 209.4L165.8 210.5L162.9 205.4Z" fill="#575757" stroke="#575757" stroke-width="0.5"/><path d="M145.8 204.3L148.6 209.4L164.3 210.5L161.4 205.3Z" fill="#818181" stroke="#818181" stroke-width="0.6"/><path d="M278.2 209.5L275.5 214.6L292.2 223.4L294.9 218.2Z" fill="#7b7b7b" stroke="#7b7b7b" stroke-width="0.5"/><path d="M279.5 210.2L276.8 215.3L290.9 222.7L293.5 217.5Z" fill="#b0b0b0" stroke="#b0b0b0" stroke-width="0.6"/><path d="M118.3 201.6L120.9 206.7L138.8 208.3L136.2 203.2Z" fill="#595959" stroke="#595959" stroke-width="0.5"/><path d="M119.8 201.7L122.3 206.8L137.4 208.2L134.8 203.1Z" fill="#838383" stroke="#838383" stroke-width="0.6"/><path d="M303.4 223.8L300 228.7L316.8 240.9L320.2 235.8Z" fill="#757575" stroke="#757575" stroke-width="0.5"/><path d="M304.8 224.8L301.4 229.7L315.5 239.9L318.9 234.8Z" fill="#a9a9a9" stroke="#a9a9a9" stroke-width="0.6"/><path d="M297.2 235.1L295.6 242.3L312 254.3L314 247.4Z" fill="#6a6a6a" stroke="#6a6a6a" stroke-width="0.5"/><path d="M298.5 236L296.9 243.2L310.7 253.3L312.6 246.4Z" fill="#9b9b9b" stroke="#9b9b9b" stroke-width="0.6"/><path d="M116.7 190.5L116.9 195.9L134.8 197.5L134.2 192.1Z" fill="#858585" stroke="#858585" stroke-width="0.5"/><path d="M118.1 190.6L118.3 196L133.3 197.4L132.8 191.9Z" fill="#bbbbbb" stroke="#bbbbbb" stroke-width="0.6"/><path d="M273.4 220.9L272.4 227.8L289.2 237.1L290.2 230Z" fill="#696969" stroke="#696969" stroke-width="0.5"/><path d="M274.7 221.7L273.8 228.5L287.9 236.3L288.8 229.3Z" fill="#9a9a9a" stroke="#9a9a9a" stroke-width="0.6"/><path d="M142 192.8L142.6 198.4L161.1 199.5L160.5 193.9Z" fill="#848484" stroke="#848484" stroke-width="0.5"/><path d="M143.5 192.8L144.1 198.5L159.6 199.4L159 193.8Z" fill="#bababa" stroke="#bababa" stroke-width="0.6"/><path d="M249.2 210.6L249.2 217.4L266.5 224.3L266.7 217.4Z" fill="#696969" stroke="#696969" stroke-width="0.5"/><path d="M250.6 211.2L250.6 218L265.1 223.7L265.3 216.8Z" fill="#999999" stroke="#999999" stroke-width="0.6"/><path d="M168.4 194.6L169.4 200.5L188.3 200.6L187.4 194.8Z" fill="#848484" stroke="#848484" stroke-width="0.5"/><path d="M170 194.7L170.9 200.5L186.8 200.5L185.9 194.8Z" fill="#bababa" stroke="#bababa" stroke-width="0.6"/><path d="M222.9 202.8L223.5 209.3L241.8 214.2L241.1 207.5Z" fill="#686868" stroke="#686868" stroke-width="0.5"/><path d="M224.4 203.2L225 209.7L240.3 213.8L239.6 207.1Z" fill="#999999" stroke="#999999" stroke-width="0.6"/><path d="M195.5 193.5L196.7 199.3L215.2 199.3L214.1 193.1Z" fill="#828282" stroke="#828282" stroke-width="0.5"/><path d="M197 193.5L198.2 199.3L213.7 199.3L212.6 193.2Z" fill="#b8b8b8" stroke="#b8b8b8" stroke-width="0.6"/><path d="M196.7 199.3L198.7 205.1L217.2 205.9L215.2 199.3Z" fill="#686868" stroke="#686868" stroke-width="0.5"/><path d="M198.2 199.3L200.2 205.1L215.7 205.8L213.7 199.3Z" fill="#989898" stroke="#989898" stroke-width="0.6"/><path d="M223.5 196.4L222.9 202.8L241.1 207.5L241.6 201.3Z" fill="#7d7d7d" stroke="#7d7d7d" stroke-width="0.5"/><path d="M224.9 196.8L224.4 203.2L239.6 207.1L240.2 200.9Z" fill="#b2b2b2" stroke="#b2b2b2" stroke-width="0.6"/><path d="M250.4 204.2L249.2 210.6L266.7 217.4L268 210.9Z" fill="#7a7a7a" stroke="#7a7a7a" stroke-width="0.5"/><path d="M251.8 204.8L250.6 211.2L265.3 216.8L266.6 210.4Z" fill="#afafaf" stroke="#afafaf" stroke-width="0.6"/><path d="M169.4 200.5L171.7 206.6L190.6 206.2L188.3 200.6Z" fill="#696969" stroke="#696969" stroke-width="0.5"/><path d="M170.9 200.5L173.2 206.6L189.1 206.3L186.8 200.5Z" fill="#999999" stroke="#999999" stroke-width="0.6"/><path d="M142.6 198.4L144.3 204.2L162.9 205.4L161.1 199.5Z" fill="#6a6a6a" stroke="#6a6a6a" stroke-width="0.5"/><path d="M144.1 198.5L145.8 204.3L161.4 205.3L159.6 199.4Z" fill="#9b9b9b" stroke="#9b9b9b" stroke-width="0.6"/><path d="M275.5 214.6L273.4 220.9L290.2 230L292.2 223.4Z" fill="#787878" stroke="#787878" stroke-width="0.5"/><path d="M276.8 215.3L274.7 221.7L288.8 229.3L290.9 222.7Z" fill="#acacac" stroke="#acacac" stroke-width="0.6"/><path d="M116.9 195.9L118.3 201.6L136.2 203.2L134.8 197.5Z" fill="#6b6b6b" stroke="#6b6b6b" stroke-width="0.5"/><path d="M118.3 196L119.8 201.7L134.8 203.1L133.3 197.4Z" fill="#9d9d9d" stroke="#9d9d9d" stroke-width="0.6"/><path d="M300 228.7L297.2 235.1L314 247.4L316.8 240.9Z" fill="#767676" stroke="#767676" stroke-width="0.5"/><path d="M301.4 229.7L298.5 236L312.6 246.4L315.5 239.9Z" fill="#aaaaaa" stroke="#aaaaaa" stroke-width="0.6"/>
<path d="M47.6 88.9L49.7 81.7L71.5 86.3L66.9 92.9Z" fill="#5b5b5b" stroke="#5b5b5b" stroke-width="0.5"/><path d="M49.1 89.2L51.4 82L69.8 85.9L65.3 92.6Z" fill="#868686" stroke="#868686" stroke-width="0.6"/><path d="M75.5 93.3L78.4 86.2L100.2 89.5L97.4 96.9Z" fill="#5a5a5a" stroke="#5a5a5a" stroke-width="0.5"/><path d="M77.3 93.6L80.1 86.4L98.5 89.2L95.6 96.6Z" fill="#848484" stroke="#848484" stroke-width="0.6"/><path d="M104.4 93.5L105.9 86L127 86L125.6 93.5Z" fill="#585858" stroke="#585858" stroke-width="0.5"/><path d="M106.1 93.5L107.6 86L125.3 86L123.9 93.5Z" fill="#818181" stroke="#818181" stroke-width="0.6"/><path d="M131.6 91.5L132.1 84L151.5 82.1L151.1 89.7Z" fill="#565656" stroke="#565656" stroke-width="0.5"/><path d="M133.1 91.3L133.6 83.9L149.9 82.3L149.5 89.9Z" fill="#7f7f7f" stroke="#7f7f7f" stroke-width="0.6"/><path d="M130.1 99L131.6 91.5L151.1 89.7L149.7 97.4Z" fill="#5e5e5e" stroke="#5e5e5e" stroke-width="0.5"/><path d="M131.7 98.8L133.1 91.3L149.5 89.9L148.1 97.5Z" fill="#8b8b8b" stroke="#8b8b8b" stroke-width="0.6"/><path d="M102.1 100.7L104.4 93.5L125.6 93.5L123.3 100.7Z" fill="#5f5f5f" stroke="#5f5f5f" stroke-width="0.5"/><path d="M103.8 100.7L106.1 93.5L123.9 93.5L121.6 100.7Z" fill="#8c8c8c" stroke="#8c8c8c" stroke-width="0.6"/><path d="M71.8 99.8L75.5 93.3L97.4 96.9L93.7 103.7Z" fill="#5f5f5f" stroke="#5f5f5f" stroke-width="0.5"/><path d="M73.5 100.1L77.3 93.6L95.6 96.6L91.9 103.4Z" fill="#8c8c8c" stroke="#8c8c8c" stroke-width="0.6"/><path d="M49.7 81.7L52 75L74.2 79.7L71.5 86.3Z" fill="#525252" stroke="#525252" stroke-width="0.5"/><path d="M51.4 82L53.7 75.4L72.4 79.3L69.8 85.9Z" fill="#797979" stroke="#797979" stroke-width="0.6"/><path d="M44.8 95.3L47.6 88.9L66.9 92.9L61.6 98.8Z" fill="#5f5f5f" stroke="#5f5f5f" stroke-width="0.5"/><path d="M46.2 95.6L49.1 89.2L65.3 92.6L60.2 98.6Z" fill="#8c8c8c" stroke="#8c8c8c" stroke-width="0.6"/><path d="M78.4 86.2L80.2 79.6L101.9 82.6L100.2 89.5Z" fill="#505050" stroke="#505050" stroke-width="0.5"/><path d="M80.1 86.4L81.9 79.9L100.2 82.4L98.5 89.2Z" fill="#757575" stroke="#757575" stroke-width="0.6"/><path d="M105.9 86L106.6 79.5L127.6 79.5L127 86Z" fill="#4d4d4d" stroke="#4d4d4d" stroke-width="0.5"/><path d="M107.6 86L108.3 79.5L125.9 79.5L125.3 86Z" fill="#717171" stroke="#717171" stroke-width="0.6"/><path d="M132.1 84L131.8 77.8L151.2 75.8L151.5 82.1Z" fill="#4a4a4a" stroke="#4a4a4a" stroke-width="0.5"/><path d="M133.6 83.9L133.4 77.6L149.6 75.9L149.9 82.3Z" fill="#6d6d6d" stroke="#6d6d6d" stroke-width="0.6"/><path d="M127.7 105.3L130.1 99L149.7 97.4L147.4 103.9Z" fill="#626262" stroke="#626262" stroke-width="0.5"/><path d="M129.2 105.2L131.7 98.8L148.1 97.5L145.8 104Z" fill="#909090" stroke="#909090" stroke-width="0.6"/><path d="M99 106.5L102.1 100.7L123.3 100.7L120.3 106.5Z" fill="#616161" stroke="#616161" stroke-width="0.5"/><path d="M100.7 106.5L103.8 100.7L121.6 100.7L118.6 106.5Z" fill="#8f8f8f" stroke="#8f8f8f" stroke-width="0.6"/><path d="M67.4 104.6L71.8 99.8L93.7 103.7L89.4 108.7Z" fill="#5f5f5f" stroke="#5f5f5f" stroke-width="0.5"/><path d="M69.2 104.9L73.5 100.1L91.9 103.4L87.6 108.4Z" fill="#8c8c8c" stroke="#8c8c8c" stroke-width="0.6"/><path d="M52 75L53.4 69.9L75.7 74.6L74.2 79.7Z" fill="#464646" stroke="#464646" stroke-width="0.5"/><path d="M53.7 75.4L55.2 70.3L73.9 74.2L72.4 79.3Z" fill="#676767" stroke="#676767" stroke-width="0.6"/><path d="M41.7 99.9L44.8 95.3L61.6 98.8L56 102.9Z" fill="#5e5e5e" stroke="#5e5e5e" stroke-width="0.5"/><path d="M42.9 100.2L46.2 95.6L60.2 98.6L54.8 102.7Z" fill="#8b8b8b" stroke="#8b8b8b" stroke-width="0.6"/><path d="M80.2 79.6L80.8 74.7L102.5 77.3L101.9 82.6Z" fill="#434343" stroke="#434343" stroke-width="0.5"/><path d="M81.9 79.9L82.5 74.9L100.8 77.1L100.2 82.4Z" fill="#636363" stroke="#636363" stroke-width="0.6"/><path d="M106.6 79.5L106.7 74.9L127.6 74.9L127.6 79.5Z" fill="#3f3f3f" stroke="#3f3f3f" stroke-width="0.5"/><path d="M108.3 79.5L108.4 74.9L125.9 74.9L125.9 79.5Z" fill="#5d5d5d" stroke="#5d5d5d" stroke-width="0.6"/><path d="M131.8 77.8L131.2 73.7L150.4 71.6L151.2 75.8Z" fill="#3e3e3e" stroke="#3e3e3e" stroke-width="0.5"/><path d="M133.4 77.6L132.7 73.5L148.9 71.7L149.6 75.9Z" fill="#5c5c5c" stroke="#5c5c5c" stroke-width="0.6"/><path d="M124.4 109.6L127.7 105.3L147.4 103.9L144.2 108.4Z" fill="#5f5f5f" stroke="#5f5f5f" stroke-width="0.5"/><path d="M125.9 109.5L129.2 105.2L145.8 104L142.6 108.5Z" fill="#8d8d8d" stroke="#8d8d8d" stroke-width="0.6"/><path d="M95.4 110.1L99 106.5L120.3 106.5L116.8 110.1Z" fill="#5e5e5e" stroke="#5e5e5e" stroke-width="0.5"/><path d="M97.1 110.1L100.7 106.5L118.6 106.5L115.1 110.1Z" fill="#8a8a8a" stroke="#8a8a8a" stroke-width="0.6"/><path d="M63 106.9L67.4 104.6L89.4 108.7L85 111.2Z" fill="#5a5a5a" stroke="#5a5a5a" stroke-width="0.5"/><path d="M64.8 107.3L69.2 104.9L87.6 108.4L83.3 110.9Z" fill="#858585" stroke="#858585" stroke-width="0.6"/><path d="M53.4 69.9L53.9 67L76.2 71.7L75.7 74.6Z" fill="#3e3e3e" stroke="#3e3e3e" stroke-width="0.5"/><path d="M55.2 70.3L55.7 67.4L74.4 71.4L73.9 74.2Z" fill="#5c5c5c" stroke="#5c5c5c" stroke-width="0.6"/><path d="M38.7 102L41.7 99.9L56 102.9L50.4 104.5Z" fill="#595959" stroke="#595959" stroke-width="0.5"/><path d="M39.7 102.2L42.9 100.2L54.8 102.7L49.5 104.3Z" fill="#828282" stroke="#828282" stroke-width="0.6"/><path d="M80.8 74.7L80.6 72.4L102.2 74.6L102.5 77.3Z" fill="#3e3e3e" stroke="#3e3e3e" stroke-width="0.5"/><path d="M82.5 74.9L82.3 72.5L100.5 74.4L100.8 77.1Z" fill="#5c5c5c" stroke="#5c5c5c" stroke-width="0.6"/><path d="M106.7 74.9L106.4 73L127.2 73L127.6 74.9Z" fill="#3e3e3e" stroke="#3e3e3e" stroke-width="0.5"/><path d="M108.4 74.9L108.1 73L125.5 73L125.9 74.9Z" fill="#5c5c5c" stroke="#5c5c5c" stroke-width="0.6"/><path d="M153.2 107.9L157.5 105.5L163.1 104.8L160.9 106.9Z" fill="#5a5a5a" stroke="#5a5a5a" stroke-width="0.5"/><path d="M153.8 107.8L158 105.5L162.7 104.9L160.3 107Z" fill="#858585" stroke="#858585" stroke-width="0.6"/><path d="M131.2 73.7L130.5 72.4L149.6 70.2L150.4 71.6Z" fill="#3e3e3e" stroke="#3e3e3e" stroke-width="0.5"/><path d="M132.7 73.5L132 72.2L148.1 70.3L148.9 71.7Z" fill="#5c5c5c" stroke="#5c5c5c" stroke-width="0.6"/><path d="M120.5 111L124.4 109.6L144.2 108.4L140.4 110Z" fill="#585858" stroke="#585858" stroke-width="0.5"/><path d="M122.1 111L125.9 109.5L142.6 108.5L138.8 110.1Z" fill="#828282" stroke="#828282" stroke-width="0.6"/><path d="M91.6 110.9L95.4 110.1L116.8 110.1L113 110.9Z" fill="#565656" stroke="#565656" stroke-width="0.5"/><path d="M93.3 110.9L97.1 110.1L115.1 110.1L111.3 110.9Z" fill="#7e7e7e" stroke="#7e7e7e" stroke-width="0.6"/><path d="M59 106.4L63 106.9L85 111.2L81.1 110.8Z" fill="#515151" stroke="#515151" stroke-width="0.5"/><path d="M60.8 106.7L64.8 107.3L83.3 110.9L79.3 110.4Z" fill="#777777" stroke="#777777" stroke-width="0.6"/><path d="M53.9 67L53.7 67L75.9 71.7L76.2 71.7Z" fill="#6c6c6c" stroke="#6c6c6c" stroke-width="0.5"/><path d="M55.7 67.4L55.5 67.4L74.1 71.3L74.4 71.4Z" fill="#a0a0a0" stroke="#a0a0a0" stroke-width="0.6"/><path d="M36.2 101.3L38.7 102L50.4 104.5L45.4 103.2Z" fill="#4e4e4e" stroke="#4e4e4e" stroke-width="0.5"/><path d="M36.9 101.4L39.7 102.2L49.5 104.3L44.6 103Z" fill="#737373" stroke="#737373" stroke-width="0.6"/><path d="M80.6 72.4L79.8 72.9L101.5 74.7L102.2 74.6Z" fill="#747474" stroke="#747474" stroke-width="0.5"/><path d="M82.3 72.5L81.6 73.1L99.7 74.5L100.5 74.4Z" fill="#aaaaaa" stroke="#aaaaaa" stroke-width="0.6"/><path d="M106.4 73L106.1 74.1L126.7 74.1L127.2 73Z" fill="#7a7a7a" stroke="#7a7a7a" stroke-width="0.5"/><path d="M108.1 73L107.7 74.1L125.1 74.1L125.5 73Z" fill="#b3b3b3" stroke="#b3b3b3" stroke-width="0.6"/><path d="M148.4 107.3L153.2 107.9L160.9 106.9L158.2 106.1Z" fill="#4e4e4e" stroke="#4e4e4e" stroke-width="0.5"/><path d="M149.2 107.2L153.8 107.8L160.3 107L157.5 106.2Z" fill="#737373" stroke="#737373" stroke-width="0.6"/><path d="M130.5 72.4L130.1 74L149.2 71.7L149.6 70.2Z" fill="#828282" stroke="#828282" stroke-width="0.5"/><path d="M132 72.2L131.7 73.8L147.6 71.9L148.1 70.3Z" fill="#bdbdbd" stroke="#bdbdbd" stroke-width="0.6"/><path d="M116.5 109.5L120.5 111L140.4 110L136.5 108.7Z" fill="#4e4e4e" stroke="#4e4e4e" stroke-width="0.5"/><path d="M118.1 109.4L122.1 111L138.8 110.1L134.9 108.8Z" fill="#737373" stroke="#737373" stroke-width="0.6"/><path d="M87.8 108.8L91.6 110.9L113 110.9L109.2 108.8Z" fill="#4e4e4e" stroke="#4e4e4e" stroke-width="0.5"/><path d="M89.5 108.8L93.3 110.9L111.3 110.9L107.5 108.8Z" fill="#737373" stroke="#737373" stroke-width="0.6"/><path d="M55.7 103L59 106.4L81.1 110.8L77.8 107.5Z" fill="#4e4e4e" stroke="#4e4e4e" stroke-width="0.5"/><path d="M57.5 103.3L60.8 106.7L79.3 110.4L76 107.1Z" fill="#737373" stroke="#737373" stroke-width="0.6"/><path d="M53.7 67L53 69.8L75.2 74.5L75.9 71.7Z" fill="#818181" stroke="#818181" stroke-width="0.5"/><path d="M55.5 67.4L54.8 70.2L73.4 74.1L74.1 71.3Z" fill="#bdbdbd" stroke="#bdbdbd" stroke-width="0.6"/><path d="M34.4 97.7L36.2 101.3L45.4 103.2L41.1 99.1Z" fill="#4e4e4e" stroke="#4e4e4e" stroke-width="0.5"/><path d="M35 97.8L36.9 101.4L44.6 103L40.6 99Z" fill="#737373" stroke="#737373" stroke-width="0.6"/><path d="M79.8 72.9L79.1 76.5L100.7 77.7L101.5 74.7Z" fill="#8d8d8d" stroke="#8d8d8d" stroke-width="0.5"/><path d="M81.6 73.1L80.9 76.6L99 77.6L99.7 74.5Z" fill="#cbcbcb" stroke="#cbcbcb" stroke-width="0.6"/><path d="M106.1 74.1L106 77.9L126.6 77.9L126.7 74.1Z" fill="#979797" stroke="#979797" stroke-width="0.5"/><path d="M107.7 74.1L107.6 77.9L124.9 77.9L125.1 74.1Z" fill="#d6d6d6" stroke="#d6d6d6" stroke-width="0.6"/><path d="M143.5 103.9L148.4 107.3L158.2 106.1L155.5 102.4Z" fill="#4e4e4e" stroke="#4e4e4e" stroke-width="0.5"/><path d="M144.5 103.8L149.2 107.2L157.5 106.2L154.6 102.5Z" fill="#737373" stroke="#737373" stroke-width="0.6"/><path d="M130.1 74L130.5 78.2L149.4 75.9L149.2 71.7Z" fill="#a5a5a5" stroke="#a5a5a5" stroke-width="0.5"/><path d="M131.7 73.8L132 78L147.9 76.1L147.6 71.9Z" fill="#e6e6e6" stroke="#e6e6e6" stroke-width="0.6"/><path d="M112.8 105.1L116.5 109.5L136.5 108.7L132.9 104.6Z" fill="#4e4e4e" stroke="#4e4e4e" stroke-width="0.5"/><path d="M114.4 105.1L118.1 109.4L134.9 108.8L131.3 104.7Z" fill="#737373" stroke="#737373" stroke-width="0.6"/><path d="M84.5 104L87.8 108.8L109.2 108.8L105.9 104Z" fill="#525252" stroke="#525252" stroke-width="0.5"/><path d="M86.2 104L89.5 108.8L107.5 108.8L104.2 104Z" fill="#787878" stroke="#787878" stroke-width="0.6"/><path d="M53.4 97.2L55.7 103L77.8 107.5L75.6 101.8Z" fill="#5a5a5a" stroke="#5a5a5a" stroke-width="0.5"/><path d="M55.2 97.6L57.5 103.3L76 107.1L73.8 101.4Z" fill="#848484" stroke="#848484" stroke-width="0.6"/><path d="M53 69.8L52.2 75.1L74.5 79.8L75.2 74.5Z" fill="#999999" stroke="#999999" stroke-width="0.5"/><path d="M54.8 70.2L54 75.5L72.7 79.5L73.4 74.1Z" fill="#d8d8d8" stroke="#d8d8d8" stroke-width="0.6"/><path d="M79.1 76.5L79 82.4L100.5 83.1L100.7 77.7Z" fill="#a8a8a8" stroke="#a8a8a8" stroke-width="0.5"/><path d="M80.9 76.6L80.7 82.4L98.8 83L99 77.6Z" fill="#e9e9e9" stroke="#e9e9e9" stroke-width="0.6"/><path d="M106 77.9L106.5 83.9L126.9 83.9L126.6 77.9Z" fill="#adadad" stroke="#adadad" stroke-width="0.5"/><path d="M107.6 77.9L108.1 83.9L125.3 83.9L124.9 77.9Z" fill="#eeeeee" stroke="#eeeeee" stroke-width="0.6"/><path d="M139 98.4L143.5 103.9L155.5 102.4L153.1 96.6Z" fill="#606060" stroke="#606060" stroke-width="0.5"/><path d="M140.1 98.2L144.5 103.8L154.6 102.5L152 96.7Z" fill="#8d8d8d" stroke="#8d8d8d" stroke-width="0.6"/><path d="M130.5 78.2L131.8 84.4L150.3 82.1L149.4 75.9Z" fill="#b4b4b4" stroke="#b4b4b4" stroke-width="0.5"/><path d="M132 78L133.3 84.3L148.9 82.3L147.9 76.1Z" fill="#f6f6f6" stroke="#f6f6f6" stroke-width="0.6"/><path d="M109.8 98.7L112.8 105.1L132.9 104.6L130 98.4Z" fill="#656565" stroke="#656565" stroke-width="0.5"/><path d="M111.4 98.7L114.4 105.1L131.3 104.7L128.3 98.5Z" fill="#959595" stroke="#959595" stroke-width="0.6"/><path d="M81.7 97.4L84.5 104L105.9 104L103.2 97.4Z" fill="#696969" stroke="#696969" stroke-width="0.5"/><path d="M83.5 97.4L86.2 104L104.2 104L101.5 97.4Z" fill="#9b9b9b" stroke="#9b9b9b" stroke-width="0.6"/><path d="M52.2 89.9L53.4 97.2L75.6 101.8L74.4 94.6Z" fill="#6f6f6f" stroke="#6f6f6f" stroke-width="0.5"/><path d="M53.9 90.3L55.2 97.6L73.8 101.4L72.6 94.2Z" fill="#a4a4a4" stroke="#a4a4a4" stroke-width="0.6"/><path d="M52.2 75.1L51.9 82.2L74.1 86.9L74.5 79.8Z" fill="#9b9b9b" stroke="#9b9b9b" stroke-width="0.5"/><path d="M54 75.5L53.6 82.6L72.3 86.5L72.7 79.5Z" fill="#dbdbdb" stroke="#dbdbdb" stroke-width="0.6"/><path d="M79 82.4L79.8 89.8L101.3 90L100.5 83.1Z" fill="#9e9e9e" stroke="#9e9e9e" stroke-width="0.5"/><path d="M80.7 82.4L81.5 89.8L99.6 90L98.8 83Z" fill="#dedede" stroke="#dedede" stroke-width="0.6"/><path d="M106.5 83.9L107.7 91.2L128 91.2L126.9 83.9Z" fill="#999999" stroke="#999999" stroke-width="0.5"/><path d="M108.1 83.9L109.3 91.2L126.3 91.2L125.3 83.9Z" fill="#d9d9d9" stroke="#d9d9d9" stroke-width="0.6"/><path d="M135 91.5L139 98.4L153.1 96.6L151.3 89.5Z" fill="#777777" stroke="#777777" stroke-width="0.5"/><path d="M136.3 91.3L140.1 98.2L152 96.7L150 89.6Z" fill="#aeaeae" stroke="#aeaeae" stroke-width="0.6"/><path d="M131.8 84.4L135 91.5L151.3 89.5L150.3 82.1Z" fill="#959595" stroke="#959595" stroke-width="0.5"/><path d="M133.3 84.3L136.3 91.3L150 89.6L148.9 82.3Z" fill="#d4d4d4" stroke="#d4d4d4" stroke-width="0.6"/><path d="M107.7 91.2L109.8 98.7L130 98.4L128 91.2Z" fill="#7b7b7b" stroke="#7b7b7b" stroke-width="0.5"/><path d="M109.3 91.2L111.4 98.7L128.3 98.5L126.3 91.2Z" fill="#b5b5b5" stroke="#b5b5b5" stroke-width="0.6"/><path d="M79.8 89.8L81.7 97.4L103.2 97.4L101.3 90Z" fill="#808080" stroke="#808080" stroke-width="0.5"/><path d="M81.5 89.8L83.5 97.4L101.5 97.4L99.6 90Z" fill="#bababa" stroke="#bababa" stroke-width="0.6"/><path d="M51.9 82.2L52.2 89.9L74.4 94.6L74.1 86.9Z" fill="#858585" stroke="#858585" stroke-width="0.5"/><path d="M53.6 82.6L53.9 90.3L72.6 94.2L72.3 86.5Z" fill="#c1c1c1" stroke="#c1c1c1" stroke-width="0.6"/>
<path d="M58.6 143.5L62.6 138.8L76.3 146.1L72.1 150.7Z" fill="#4d4d4d" stroke="#4d4d4d" stroke-width="0.5"/><path d="M59.7 144.1L63.7 139.4L75.2 145.5L71.1 150.1Z" fill="#727272" stroke="#727272" stroke-width="0.6"/><path d="M78.8 150.7L82.3 145.6L97.3 152.3L93.7 157.5Z" fill="#4c4c4c" stroke="#4c4c4c" stroke-width="0.5"/><path d="M80 151.3L83.5 146.1L96.1 151.8L92.5 157Z" fill="#717171" stroke="#717171" stroke-width="0.6"/><path d="M44.7 135.6L48 130.5L59.3 134.4L55.8 139.4Z" fill="#4e4e4e" stroke="#4e4e4e" stroke-width="0.5"/><path d="M45.6 135.9L48.9 130.8L58.4 134.1L55 139.1Z" fill="#747474" stroke="#747474" stroke-width="0.6"/><path d="M38.5 126.9L39 120.9L43.2 121.8L41.5 127.6Z" fill="#4a4a4a" stroke="#4a4a4a" stroke-width="0.5"/><path d="M38.7 126.9L39.4 120.9L42.9 121.7L41.2 127.5Z" fill="#6d6d6d" stroke="#6d6d6d" stroke-width="0.6"/><path d="M48 130.5L49.4 125L60.8 129L59.3 134.4Z" fill="#494949" stroke="#494949" stroke-width="0.5"/><path d="M48.9 130.8L50.3 125.3L59.9 128.7L58.4 134.1Z" fill="#6b6b6b" stroke="#6b6b6b" stroke-width="0.6"/><path d="M73.5 154.8L78.8 150.7L93.7 157.5L88.4 161.5Z" fill="#505050" stroke="#505050" stroke-width="0.5"/><path d="M74.7 155.3L80 151.3L92.5 157L87.2 161Z" fill="#757575" stroke="#757575" stroke-width="0.6"/><path d="M62.6 138.8L64.8 133.5L78.6 140.8L76.3 146.1Z" fill="#484848" stroke="#484848" stroke-width="0.5"/><path d="M63.7 139.4L65.9 134.1L77.5 140.3L75.2 145.5Z" fill="#6a6a6a" stroke="#6a6a6a" stroke-width="0.6"/><path d="M53.1 146.8L58.6 143.5L72.1 150.7L66.5 153.8Z" fill="#4f4f4f" stroke="#4f4f4f" stroke-width="0.5"/><path d="M54.2 147.4L59.7 144.1L71.1 150.1L65.4 153.2Z" fill="#757575" stroke="#757575" stroke-width="0.6"/><path d="M82.3 145.6L83.7 140.1L98.8 146.9L97.3 152.3Z" fill="#464646" stroke="#464646" stroke-width="0.5"/><path d="M83.5 146.1L84.9 140.7L97.6 146.3L96.1 151.8Z" fill="#676767" stroke="#676767" stroke-width="0.6"/><path d="M39.9 139.5L44.7 135.6L55.8 139.4L50.9 143Z" fill="#505050" stroke="#505050" stroke-width="0.5"/><path d="M40.8 139.8L45.6 135.9L55 139.1L50 142.7Z" fill="#777777" stroke="#777777" stroke-width="0.6"/><path d="M39 120.9L37.5 115.3L42.9 116.5L43.2 121.8Z" fill="#414141" stroke="#414141" stroke-width="0.5"/><path d="M39.4 120.9L38 115.4L42.5 116.4L42.9 121.7Z" fill="#5f5f5f" stroke="#5f5f5f" stroke-width="0.6"/><path d="M49.4 125L48.8 119.8L60.4 124L60.8 129Z" fill="#404040" stroke="#404040" stroke-width="0.5"/><path d="M50.3 125.3L49.8 120.2L59.5 123.7L59.9 128.7Z" fill="#5e5e5e" stroke="#5e5e5e" stroke-width="0.6"/><path d="M67.2 156.9L73.5 154.8L88.4 161.5L82 163.6Z" fill="#4e4e4e" stroke="#4e4e4e" stroke-width="0.5"/><path d="M68.4 157.4L74.7 155.3L87.2 161L80.8 163.1Z" fill="#737373" stroke="#737373" stroke-width="0.6"/><path d="M64.8 133.5L64.8 128.5L78.7 135.9L78.6 140.8Z" fill="#3f3f3f" stroke="#3f3f3f" stroke-width="0.5"/><path d="M65.9 134.1L65.9 129.1L77.6 135.3L77.5 140.3Z" fill="#5d5d5d" stroke="#5d5d5d" stroke-width="0.6"/><path d="M46.9 148.2L53.1 146.8L66.5 153.8L60.2 154.9Z" fill="#4d4d4d" stroke="#4d4d4d" stroke-width="0.5"/><path d="M48 148.7L54.2 147.4L65.4 153.2L59.1 154.4Z" fill="#717171" stroke="#717171" stroke-width="0.6"/><path d="M83.7 140.1L83 135.3L98.2 142.1L98.8 146.9Z" fill="#3c3c3c" stroke="#3c3c3c" stroke-width="0.5"/><path d="M84.9 140.7L84.2 135.9L97 141.6L97.6 146.3Z" fill="#595959" stroke="#595959" stroke-width="0.6"/><path d="M34.2 141.4L39.9 139.5L50.9 143L45.1 144.8Z" fill="#4e4e4e" stroke="#4e4e4e" stroke-width="0.5"/><path d="M35 141.7L40.8 139.8L50 142.7L44.2 144.5Z" fill="#737373" stroke="#737373" stroke-width="0.6"/><path d="M37.5 115.3L34.3 111.2L40.8 112.6L42.9 116.5Z" fill="#363636" stroke="#363636" stroke-width="0.5"/><path d="M38 115.4L34.8 111.3L40.3 112.5L42.5 116.4Z" fill="#4f4f4f" stroke="#4f4f4f" stroke-width="0.6"/><path d="M48.8 119.8L46.5 116L58.2 120.3L60.4 124Z" fill="#353535" stroke="#353535" stroke-width="0.5"/><path d="M49.8 120.2L47.4 116.3L57.2 120L59.5 123.7Z" fill="#4e4e4e" stroke="#4e4e4e" stroke-width="0.6"/><path d="M60.6 156.7L67.2 156.9L82 163.6L75.3 163.4Z" fill="#494949" stroke="#494949" stroke-width="0.5"/><path d="M61.8 157.2L68.4 157.4L80.8 163.1L74.1 162.9Z" fill="#6c6c6c" stroke="#6c6c6c" stroke-width="0.6"/><path d="M64.8 128.5L62.8 124.6L76.8 132L78.7 135.9Z" fill="#353535" stroke="#353535" stroke-width="0.5"/><path d="M65.9 129.1L63.9 125.2L75.7 131.4L77.6 135.3Z" fill="#4e4e4e" stroke="#4e4e4e" stroke-width="0.6"/><path d="M40.8 147.3L46.9 148.2L60.2 154.9L53.9 153.8Z" fill="#474747" stroke="#474747" stroke-width="0.5"/><path d="M41.8 147.8L48 148.7L59.1 154.4L52.9 153.3Z" fill="#696969" stroke="#696969" stroke-width="0.6"/><path d="M83 135.3L80.5 132.1L95.8 138.8L98.2 142.1Z" fill="#353535" stroke="#353535" stroke-width="0.5"/><path d="M84.2 135.9L81.7 132.6L94.6 138.3L97 141.6Z" fill="#4e4e4e" stroke="#4e4e4e" stroke-width="0.6"/><path d="M28.3 141.2L34.2 141.4L45.1 144.8L39 144.3Z" fill="#484848" stroke="#484848" stroke-width="0.5"/><path d="M29.2 141.4L35 141.7L44.2 144.5L38.2 144.1Z" fill="#6a6a6a" stroke="#6a6a6a" stroke-width="0.6"/><path d="M34.3 111.2L29.8 109.1L37.5 110.8L40.8 112.6Z" fill="#353535" stroke="#353535" stroke-width="0.5"/><path d="M34.8 111.3L30.4 109.2L36.8 110.6L40.3 112.5Z" fill="#4e4e4e" stroke="#4e4e4e" stroke-width="0.6"/><path d="M80.7 165.7L88 168L92.7 170.1L87.2 168.5Z" fill="#434343" stroke="#434343" stroke-width="0.5"/><path d="M81.2 165.9L88.4 168.2L92.3 169.9L86.7 168.3Z" fill="#636363" stroke="#636363" stroke-width="0.6"/><path d="M46.5 116L42.8 114.1L54.6 118.5L58.2 120.3Z" fill="#353535" stroke="#353535" stroke-width="0.5"/><path d="M47.4 116.3L43.8 114.4L53.7 118.2L57.2 120Z" fill="#4e4e4e" stroke="#4e4e4e" stroke-width="0.6"/><path d="M54.5 154.1L60.6 156.7L75.3 163.4L69.1 160.9Z" fill="#414141" stroke="#414141" stroke-width="0.5"/><path d="M55.7 154.7L61.8 157.2L74.1 162.9L67.9 160.3Z" fill="#606060" stroke="#606060" stroke-width="0.6"/><path d="M62.8 124.6L59.4 122.7L73.4 130L76.8 132Z" fill="#353535" stroke="#353535" stroke-width="0.5"/><path d="M63.9 125.2L60.5 123.3L72.3 129.4L75.7 131.4Z" fill="#4e4e4e" stroke="#4e4e4e" stroke-width="0.6"/><path d="M35.5 144.3L40.8 147.3L53.9 153.8L48.5 150.5Z" fill="#424242" stroke="#424242" stroke-width="0.5"/><path d="M36.6 144.8L41.8 147.8L52.9 153.3L47.4 150Z" fill="#626262" stroke="#626262" stroke-width="0.6"/><path d="M80.5 132.1L76.8 130.9L92.2 137.7L95.8 138.8Z" fill="#5a5a5a" stroke="#5a5a5a" stroke-width="0.5"/><path d="M81.7 132.6L78 131.5L91 137.2L94.6 138.3Z" fill="#848484" stroke="#848484" stroke-width="0.6"/><path d="M23 138.7L28.3 141.2L39 144.3L33.6 141.6Z" fill="#424242" stroke="#424242" stroke-width="0.5"/><path d="M23.8 138.9L29.2 141.4L38.2 144.1L32.7 141.4Z" fill="#626262" stroke="#626262" stroke-width="0.6"/><path d="M29.8 109.1L24.8 109.3L33.6 111.3L37.5 110.8Z" fill="#666666" stroke="#666666" stroke-width="0.5"/><path d="M30.4 109.2L25.5 109.5L32.9 111.1L36.8 110.6Z" fill="#959595" stroke="#959595" stroke-width="0.6"/><path d="M74.6 161.2L80.7 165.7L87.2 168.5L82.9 164.8Z" fill="#424242" stroke="#424242" stroke-width="0.5"/><path d="M75.2 161.5L81.2 165.9L86.7 168.3L82.2 164.5Z" fill="#626262" stroke="#626262" stroke-width="0.6"/><path d="M42.8 114.1L38.5 114.4L50.5 119L54.6 118.5Z" fill="#656565" stroke="#656565" stroke-width="0.5"/><path d="M43.8 114.4L39.5 114.8L49.5 118.6L53.7 118.2Z" fill="#949494" stroke="#949494" stroke-width="0.6"/><path d="M49.8 149.5L54.5 154.1L69.1 160.9L64.3 156.3Z" fill="#424242" stroke="#424242" stroke-width="0.5"/><path d="M51 150.1L55.7 154.7L67.9 160.3L63.1 155.7Z" fill="#626262" stroke="#626262" stroke-width="0.6"/><path d="M59.4 122.7L55.1 123.1L69.2 130.3L73.4 130Z" fill="#646464" stroke="#646464" stroke-width="0.5"/><path d="M60.5 123.3L56.2 123.7L68.1 129.7L72.3 129.4Z" fill="#939393" stroke="#939393" stroke-width="0.6"/><path d="M31.7 139.5L35.5 144.3L48.5 150.5L44.4 145.4Z" fill="#434343" stroke="#434343" stroke-width="0.5"/><path d="M32.7 140L36.6 144.8L47.4 150L43.4 144.9Z" fill="#636363" stroke="#636363" stroke-width="0.6"/><path d="M76.8 130.9L72.7 132.2L88.2 138.9L92.2 137.7Z" fill="#6a6a6a" stroke="#6a6a6a" stroke-width="0.5"/><path d="M78 131.5L73.9 132.7L87 138.4L91 137.2Z" fill="#9b9b9b" stroke="#9b9b9b" stroke-width="0.6"/><path d="M18.9 134.3L23 138.7L33.6 141.6L29.3 137.1Z" fill="#434343" stroke="#434343" stroke-width="0.5"/><path d="M19.7 134.5L23.8 138.9L32.7 141.4L28.5 136.8Z" fill="#626262" stroke="#626262" stroke-width="0.6"/><path d="M24.8 109.3L20.2 111.9L30.2 114.2L33.6 111.3Z" fill="#7b7b7b" stroke="#7b7b7b" stroke-width="0.5"/><path d="M25.5 109.5L21 112.1L29.4 114L32.9 111.1Z" fill="#afafaf" stroke="#afafaf" stroke-width="0.6"/><path d="M70.1 155.1L74.6 161.2L82.9 164.8L80.3 159.4Z" fill="#4d4d4d" stroke="#4d4d4d" stroke-width="0.5"/><path d="M71 155.4L75.2 161.5L82.2 164.5L79.4 159.1Z" fill="#717171" stroke="#717171" stroke-width="0.6"/><path d="M38.5 114.4L34.4 117L46.4 121.7L50.5 119Z" fill="#767676" stroke="#767676" stroke-width="0.5"/><path d="M39.5 114.8L35.3 117.4L45.5 121.3L49.5 118.6Z" fill="#aaaaaa" stroke="#aaaaaa" stroke-width="0.6"/><path d="M47 143.5L49.8 149.5L64.3 156.3L61.4 150.3Z" fill="#515151" stroke="#515151" stroke-width="0.5"/><path d="M48.2 144L51 150.1L63.1 155.7L60.2 149.7Z" fill="#787878" stroke="#787878" stroke-width="0.6"/><path d="M55.1 123.1L51 125.9L65.1 133L69.2 130.3Z" fill="#747474" stroke="#747474" stroke-width="0.5"/><path d="M56.2 123.7L52.1 126.5L64 132.4L68.1 129.7Z" fill="#a8a8a8" stroke="#a8a8a8" stroke-width="0.6"/><path d="M29.6 133.7L31.7 139.5L44.4 145.4L42.2 139.1Z" fill="#555555" stroke="#555555" stroke-width="0.5"/><path d="M30.7 134.1L32.7 140L43.4 144.9L41.2 138.7Z" fill="#7d7d7d" stroke="#7d7d7d" stroke-width="0.6"/><path d="M72.7 132.2L69.1 135.7L84.5 142.4L88.2 138.9Z" fill="#7b7b7b" stroke="#7b7b7b" stroke-width="0.5"/><path d="M73.9 132.7L70.3 136.3L83.2 141.9L87 138.4Z" fill="#b0b0b0" stroke="#b0b0b0" stroke-width="0.6"/><path d="M16.5 128.7L18.9 134.3L29.3 137.1L26.8 131.2Z" fill="#555555" stroke="#555555" stroke-width="0.5"/><path d="M17.3 128.9L19.7 134.5L28.5 136.8L25.9 131Z" fill="#7e7e7e" stroke="#7e7e7e" stroke-width="0.6"/><path d="M20.2 111.9L17.2 116.6L27.3 118.9L30.2 114.2Z" fill="#898989" stroke="#898989" stroke-width="0.5"/><path d="M21 112.1L18 116.8L26.5 118.7L29.4 114Z" fill="#c0c0c0" stroke="#c0c0c0" stroke-width="0.6"/><path d="M67.8 148.2L70.1 155.1L80.3 159.4L79.7 153.3Z" fill="#5e5e5e" stroke="#5e5e5e" stroke-width="0.5"/><path d="M68.7 148.6L71 155.4L79.4 159.1L78.7 152.9Z" fill="#8a8a8a" stroke="#8a8a8a" stroke-width="0.6"/><path d="M34.4 117L31.2 121.6L43.4 126.4L46.4 121.7Z" fill="#818181" stroke="#818181" stroke-width="0.5"/><path d="M35.3 117.4L32.1 122L42.4 126L45.5 121.3Z" fill="#b7b7b7" stroke="#b7b7b7" stroke-width="0.6"/><path d="M46.4 137L47 143.5L61.4 150.3L60.6 143.7Z" fill="#626262" stroke="#626262" stroke-width="0.5"/><path d="M47.5 137.5L48.2 144L60.2 149.7L59.5 143.2Z" fill="#909090" stroke="#909090" stroke-width="0.6"/><path d="M51 125.9L47.8 130.8L62 137.6L65.1 133Z" fill="#7d7d7d" stroke="#7d7d7d" stroke-width="0.5"/><path d="M52.1 126.5L48.9 131.3L60.9 137.1L64 132.4Z" fill="#b3b3b3" stroke="#b3b3b3" stroke-width="0.6"/><path d="M29.5 127.5L29.6 133.7L42.2 139.1L41.9 132.5Z" fill="#656565" stroke="#656565" stroke-width="0.5"/><path d="M30.5 127.9L30.7 134.1L41.2 138.7L40.9 132.1Z" fill="#949494" stroke="#949494" stroke-width="0.6"/><path d="M69.1 135.7L67.5 141.5L81.2 147.3L84.5 142.4Z" fill="#7e7e7e" stroke="#7e7e7e" stroke-width="0.5"/><path d="M70.3 136.3L68.6 141.9L80.1 146.9L83.2 141.9Z" fill="#b3b3b3" stroke="#b3b3b3" stroke-width="0.6"/><path d="M15.9 122.5L16.5 128.7L26.8 131.2L26 124.8Z" fill="#676767" stroke="#676767" stroke-width="0.5"/><path d="M16.7 122.7L17.3 128.9L25.9 131L25.2 124.6Z" fill="#979797" stroke="#979797" stroke-width="0.6"/><path d="M17.2 116.6L15.9 122.5L26 124.8L27.3 118.9Z" fill="#7c7c7c" stroke="#7c7c7c" stroke-width="0.5"/><path d="M18 116.8L16.7 122.7L25.2 124.6L26.5 118.7Z" fill="#b1b1b1" stroke="#b1b1b1" stroke-width="0.6"/><path d="M67.5 141.5L67.8 148.2L79.7 153.3L81.2 147.3Z" fill="#6f6f6f" stroke="#6f6f6f" stroke-width="0.5"/><path d="M68.6 141.9L68.7 148.6L78.7 152.9L80.1 146.9Z" fill="#a1a1a1" stroke="#a1a1a1" stroke-width="0.6"/><path d="M31.2 121.6L29.5 127.5L41.9 132.5L43.4 126.4Z" fill="#767676" stroke="#767676" stroke-width="0.5"/><path d="M32.1 122L30.5 127.9L40.9 132.1L42.4 126Z" fill="#aaaaaa" stroke="#aaaaaa" stroke-width="0.6"/><path d="M47.8 130.8L46.4 137L60.6 143.7L62 137.6Z" fill="#727272" stroke="#727272" stroke-width="0.5"/><path d="M48.9 131.3L47.5 137.5L59.5 143.2L60.9 137.1Z" fill="#a6a6a6" stroke="#a6a6a6" stroke-width="0.6"/>
<path d="M99.8 153L102.1 146.9L120.1 149L117.7 155.4Z" fill="#555555" stroke="#555555" stroke-width="0.5"/><path d="M101.2 153.2L103.5 147L118.6 148.8L116.2 155.2Z" fill="#7d7d7d" stroke="#7d7d7d" stroke-width="0.6"/><path d="M124.2 150.6L124.3 144.1L143.6 139.5L143.6 146Z" fill="#535353" stroke="#535353" stroke-width="0.5"/><path d="M125.8 150.3L125.8 143.7L142 139.8L142.1 146.3Z" fill="#7a7a7a" stroke="#7a7a7a" stroke-width="0.6"/><path d="M144.8 150.6L150.5 147.4L165.2 165.9L159.7 167.6Z" fill="#535353" stroke="#535353" stroke-width="0.5"/><path d="M146 151.9L151.7 148.9L164 164.4L158.5 166.2Z" fill="#7b7b7b" stroke="#7b7b7b" stroke-width="0.6"/><path d="M139.2 153.8L144.8 150.6L159.7 167.6L154.4 169.1Z" fill="#545454" stroke="#545454" stroke-width="0.5"/><path d="M140.4 155L146 151.9L158.5 166.2L153.2 167.9Z" fill="#7c7c7c" stroke="#7c7c7c" stroke-width="0.6"/><path d="M123.4 157L124.2 150.6L143.6 146L142.8 152.4Z" fill="#5a5a5a" stroke="#5a5a5a" stroke-width="0.5"/><path d="M124.9 156.6L125.8 150.3L142.1 146.3L141.3 152.8Z" fill="#848484" stroke="#848484" stroke-width="0.6"/><path d="M102.1 146.9L103.5 141.1L121.5 142.9L120.1 149Z" fill="#4c4c4c" stroke="#4c4c4c" stroke-width="0.5"/><path d="M103.5 147L104.9 141.2L120.1 142.7L118.6 148.8Z" fill="#717171" stroke="#717171" stroke-width="0.6"/><path d="M96.6 158.3L99.8 153L117.7 155.4L114.5 161.1Z" fill="#595959" stroke="#595959" stroke-width="0.5"/><path d="M98 158.5L101.2 153.2L116.2 155.2L113.1 160.8Z" fill="#838383" stroke="#838383" stroke-width="0.6"/><path d="M124.3 144.1L123.9 138.3L143 133.9L143.6 139.5Z" fill="#484848" stroke="#484848" stroke-width="0.5"/><path d="M125.8 143.7L125.4 138L141.5 134.2L142 139.8Z" fill="#6a6a6a" stroke="#6a6a6a" stroke-width="0.6"/><path d="M150.5 147.4L155.6 144.9L169.8 164.5L165.2 165.9Z" fill="#4f4f4f" stroke="#4f4f4f" stroke-width="0.5"/><path d="M151.7 148.9L156.7 146.5L168.7 162.9L164 164.4Z" fill="#757575" stroke="#757575" stroke-width="0.6"/><path d="M134.5 156.5L139.2 153.8L154.4 169.1L149.9 170Z" fill="#525252" stroke="#525252" stroke-width="0.5"/><path d="M135.7 157.6L140.4 155L153.2 167.9L148.6 168.9Z" fill="#797979" stroke="#797979" stroke-width="0.6"/><path d="M121.5 162.1L123.4 157L142.8 152.4L141 157.9Z" fill="#5c5c5c" stroke="#5c5c5c" stroke-width="0.5"/><path d="M123.1 161.8L124.9 156.6L141.3 152.8L139.4 158.2Z" fill="#878787" stroke="#878787" stroke-width="0.6"/><path d="M103.5 141.1L104 136.5L122 138L121.5 142.9Z" fill="#414141" stroke="#414141" stroke-width="0.5"/><path d="M104.9 141.2L105.4 136.6L120.6 137.9L120.1 142.7Z" fill="#5f5f5f" stroke="#5f5f5f" stroke-width="0.6"/><path d="M93 161.9L96.6 158.3L114.5 161.1L110.8 165.1Z" fill="#585858" stroke="#585858" stroke-width="0.5"/><path d="M94.4 162.2L98 158.5L113.1 160.8L109.3 164.8Z" fill="#828282" stroke="#828282" stroke-width="0.6"/><path d="M123.9 138.3L123.5 134.1L142.4 129.9L143 133.9Z" fill="#3b3b3b" stroke="#3b3b3b" stroke-width="0.5"/><path d="M125.4 138L125 133.8L140.9 130.3L141.5 134.2Z" fill="#575757" stroke="#575757" stroke-width="0.6"/><path d="M155.6 144.9L159.9 144.4L172.3 162.8L169.8 164.5Z" fill="#484848" stroke="#484848" stroke-width="0.5"/><path d="M156.7 146.5L160.9 145.9L171.3 161.3L168.7 162.9Z" fill="#6b6b6b" stroke="#6b6b6b" stroke-width="0.6"/><path d="M131.2 158.3L134.5 156.5L149.9 170L146.8 169.8Z" fill="#4d4d4d" stroke="#4d4d4d" stroke-width="0.5"/><path d="M132.4 159.2L135.7 157.6L148.6 168.9L145.5 168.9Z" fill="#727272" stroke="#727272" stroke-width="0.6"/><path d="M118.7 165.3L121.5 162.1L141 157.9L138.1 161.5Z" fill="#585858" stroke="#585858" stroke-width="0.5"/><path d="M120.2 165L123.1 161.8L139.4 158.2L136.5 161.8Z" fill="#828282" stroke="#828282" stroke-width="0.6"/><path d="M104 136.5L103.8 134L121.9 135.2L122 138Z" fill="#3a3a3a" stroke="#3a3a3a" stroke-width="0.5"/><path d="M105.4 136.6L105.2 134.1L120.4 135.1L120.6 137.9Z" fill="#555555" stroke="#555555" stroke-width="0.6"/><path d="M89.2 163.3L93 161.9L110.8 165.1L107 166.7Z" fill="#525252" stroke="#525252" stroke-width="0.5"/><path d="M90.6 163.6L94.4 162.2L109.3 164.8L105.5 166.5Z" fill="#797979" stroke="#797979" stroke-width="0.6"/><path d="M123.5 134.1L123.5 132L142 128.3L142.4 129.9Z" fill="#3a3a3a" stroke="#3a3a3a" stroke-width="0.5"/><path d="M125 133.8L125 131.7L140.5 128.6L140.9 130.3Z" fill="#555555" stroke="#555555" stroke-width="0.6"/><path d="M159.9 144.4L162.3 145.2L172.9 162L172.3 162.8Z" fill="#3f3f3f" stroke="#3f3f3f" stroke-width="0.5"/><path d="M160.9 145.9L163.2 146.6L172 160.7L171.3 161.3Z" fill="#5d5d5d" stroke="#5d5d5d" stroke-width="0.6"/><path d="M129.5 158.7L131.2 158.3L146.8 169.8L145.3 168Z" fill="#464646" stroke="#464646" stroke-width="0.5"/><path d="M130.8 159.4L132.4 159.2L145.5 168.9L144 167.3Z" fill="#676767" stroke="#676767" stroke-width="0.6"/><path d="M90.5 131.3L89.4 130.2L96.7 132.3L95.7 132.8Z" fill="#3a3a3a" stroke="#3a3a3a" stroke-width="0.5"/><path d="M90.9 131.4L90 130.4L96.1 132.2L95.3 132.7Z" fill="#555555" stroke="#555555" stroke-width="0.6"/><path d="M115.1 166L118.7 165.3L138.1 161.5L134.3 162.8Z" fill="#505050" stroke="#505050" stroke-width="0.5"/><path d="M116.6 165.8L120.2 165L136.5 161.8L132.8 163.1Z" fill="#757575" stroke="#757575" stroke-width="0.6"/><path d="M103.8 134L103.2 133.9L121.4 134.8L121.9 135.2Z" fill="#3a3a3a" stroke="#3a3a3a" stroke-width="0.5"/><path d="M105.2 134.1L104.7 134L119.9 134.7L120.4 135.1Z" fill="#555555" stroke="#555555" stroke-width="0.6"/><path d="M85.8 162.1L89.2 163.3L107 166.7L103.5 165.9Z" fill="#484848" stroke="#484848" stroke-width="0.5"/><path d="M87.2 162.4L90.6 163.6L105.5 166.5L102.1 165.6Z" fill="#6b6b6b" stroke="#6b6b6b" stroke-width="0.6"/><path d="M123.5 132L124 132.3L142.1 129.2L142 128.3Z" fill="#737373" stroke="#737373" stroke-width="0.5"/><path d="M125 131.7L125.4 132L140.7 129.4L140.5 128.6Z" fill="#a8a8a8" stroke="#a8a8a8" stroke-width="0.6"/><path d="M162.3 145.2L162.6 147.5L171.4 162.4L172.9 162Z" fill="#505050" stroke="#505050" stroke-width="0.5"/><path d="M163.2 146.6L163.3 148.7L170.7 161.2L172 160.7Z" fill="#757575" stroke="#757575" stroke-width="0.6"/><path d="M129.1 157.3L129.5 158.7L145.3 168L145.1 164.4Z" fill="#484848" stroke="#484848" stroke-width="0.5"/><path d="M130.4 157.9L130.8 159.4L144 167.3L143.8 163.8Z" fill="#6b6b6b" stroke="#6b6b6b" stroke-width="0.6"/><path d="M89.4 130.2L87.7 131.6L97 134.3L96.7 132.3Z" fill="#707070" stroke="#707070" stroke-width="0.5"/><path d="M90 130.4L88.4 131.8L96.2 134.1L96.1 132.2Z" fill="#a4a4a4" stroke="#a4a4a4" stroke-width="0.6"/><path d="M111.1 164.1L115.1 166L134.3 162.8L130.2 161.6Z" fill="#484848" stroke="#484848" stroke-width="0.5"/><path d="M112.6 163.9L116.6 165.8L132.8 163.1L128.7 161.8Z" fill="#6b6b6b" stroke="#6b6b6b" stroke-width="0.6"/><path d="M103.2 133.9L102.7 136.3L120.9 137L121.4 134.8Z" fill="#7f7f7f" stroke="#7f7f7f" stroke-width="0.5"/><path d="M104.7 134L104.2 136.4L119.5 136.9L119.9 134.7Z" fill="#b8b8b8" stroke="#b8b8b8" stroke-width="0.6"/><path d="M83.2 158.4L85.8 162.1L103.5 165.9L100.8 162.6Z" fill="#484848" stroke="#484848" stroke-width="0.5"/><path d="M84.6 158.7L87.2 162.4L102.1 165.6L99.4 162.3Z" fill="#6b6b6b" stroke="#6b6b6b" stroke-width="0.6"/><path d="M124 132.3L125.1 134.8L142.8 132.5L142.1 129.2Z" fill="#929292" stroke="#929292" stroke-width="0.5"/><path d="M125.4 132L126.5 134.6L141.4 132.7L140.7 129.4Z" fill="#cdcdcd" stroke="#cdcdcd" stroke-width="0.6"/><path d="M162.6 147.5L161 151.3L168 163.9L171.4 162.4Z" fill="#606060" stroke="#606060" stroke-width="0.5"/><path d="M163.3 148.7L161.5 152.3L167.5 162.9L170.7 161.2Z" fill="#8d8d8d" stroke="#8d8d8d" stroke-width="0.6"/><path d="M129.4 154.2L129.1 157.3L145.1 164.4L145.6 158.9Z" fill="#525252" stroke="#525252" stroke-width="0.5"/><path d="M130.7 154.6L130.4 157.9L143.8 163.8L144.3 158.5Z" fill="#797979" stroke="#797979" stroke-width="0.6"/><path d="M87.7 131.6L85.7 135.2L97 138.4L97 134.3Z" fill="#858585" stroke="#858585" stroke-width="0.5"/><path d="M88.4 131.8L86.6 135.4L96.1 138.2L96.2 134.1Z" fill="#bebebe" stroke="#bebebe" stroke-width="0.6"/><path d="M107.5 159.7L111.1 164.1L130.2 161.6L126.3 158.1Z" fill="#4f4f4f" stroke="#4f4f4f" stroke-width="0.5"/><path d="M109 159.6L112.6 163.9L128.7 161.8L124.8 158.2Z" fill="#747474" stroke="#747474" stroke-width="0.6"/><path d="M102.7 136.3L102.6 140.9L120.9 141.3L120.9 137Z" fill="#9c9c9c" stroke="#9c9c9c" stroke-width="0.5"/><path d="M104.2 136.4L104.1 140.9L119.4 141.2L119.5 136.9Z" fill="#d9d9d9" stroke="#d9d9d9" stroke-width="0.6"/><path d="M81.7 152.9L83.2 158.4L100.8 162.6L99.1 157.4Z" fill="#5a5a5a" stroke="#5a5a5a" stroke-width="0.5"/><path d="M83.1 153.3L84.6 158.7L99.4 162.3L97.7 157.1Z" fill="#848484" stroke="#848484" stroke-width="0.6"/><path d="M125.1 134.8L126.6 139.1L143.9 137.8L142.8 132.5Z" fill="#aaaaaa" stroke="#aaaaaa" stroke-width="0.5"/><path d="M126.5 134.6L128 139L142.5 137.9L141.4 132.7Z" fill="#e8e8e8" stroke="#e8e8e8" stroke-width="0.6"/><path d="M161 151.3L157.9 156.3L163.3 166.4L168 163.9Z" fill="#6e6e6e" stroke="#6e6e6e" stroke-width="0.5"/><path d="M161.5 152.3L158.3 157.1L162.9 165.6L167.5 162.9Z" fill="#a2a2a2" stroke="#a2a2a2" stroke-width="0.6"/><path d="M129.4 149.8L129.4 154.2L145.6 158.9L145.8 151.8Z" fill="#636363" stroke="#636363" stroke-width="0.5"/><path d="M130.7 149.9L130.7 154.6L144.3 158.5L144.5 151.7Z" fill="#929292" stroke="#929292" stroke-width="0.6"/><path d="M85.7 135.2L83.8 140.4L97.1 144.3L97 138.4Z" fill="#909090" stroke="#909090" stroke-width="0.5"/><path d="M86.6 135.4L84.8 140.7L96 144L96.1 138.2Z" fill="#cccccc" stroke="#cccccc" stroke-width="0.6"/><path d="M104.7 153.5L107.5 159.7L126.3 158.1L123.2 153Z" fill="#656565" stroke="#656565" stroke-width="0.5"/><path d="M106.2 153.5L109 159.6L124.8 158.2L121.7 153Z" fill="#959595" stroke="#959595" stroke-width="0.6"/><path d="M102.6 140.9L103.2 146.9L121.5 147L120.9 141.3Z" fill="#9a9a9a" stroke="#9a9a9a" stroke-width="0.5"/><path d="M104.1 140.9L104.7 146.9L120.1 147L119.4 141.2Z" fill="#d7d7d7" stroke="#d7d7d7" stroke-width="0.6"/><path d="M82.3 146.6L81.7 152.9L99.1 157.4L97.6 151Z" fill="#6d6d6d" stroke="#6d6d6d" stroke-width="0.5"/><path d="M83.5 147L83.1 153.3L97.7 157.1L96.4 150.6Z" fill="#a0a0a0" stroke="#a0a0a0" stroke-width="0.6"/><path d="M126.6 139.1L128.3 144.6L145 144.3L143.9 137.8Z" fill="#959595" stroke="#959595" stroke-width="0.5"/><path d="M128 139L129.7 144.6L143.7 144.3L142.5 137.9Z" fill="#d1d1d1" stroke="#d1d1d1" stroke-width="0.6"/><path d="M157.9 156.3L154.1 162.3L157.9 169.7L163.3 166.4Z" fill="#7a7a7a" stroke="#7a7a7a" stroke-width="0.5"/><path d="M158.3 157.1L154.4 162.9L157.6 169.1L162.9 165.6Z" fill="#b1b1b1" stroke="#b1b1b1" stroke-width="0.6"/><path d="M128.3 144.6L129.4 149.8L145.8 151.8L145 144.3Z" fill="#767676" stroke="#767676" stroke-width="0.5"/><path d="M129.7 144.6L130.7 149.9L144.5 151.7L143.7 144.3Z" fill="#adadad" stroke="#adadad" stroke-width="0.6"/><path d="M83.8 140.4L82.3 146.6L97.6 151L97.1 144.3Z" fill="#828282" stroke="#828282" stroke-width="0.5"/><path d="M84.8 140.7L83.5 147L96.4 150.6L96 144Z" fill="#bbbbbb" stroke="#bbbbbb" stroke-width="0.6"/><path d="M103.2 146.9L104.7 153.5L123.2 153L121.5 147Z" fill="#7c7c7c" stroke="#7c7c7c" stroke-width="0.5"/><path d="M104.7 146.9L106.2 153.5L121.7 153L120.1 147Z" fill="#b4b4b4" stroke="#b4b4b4" stroke-width="0.6"/>
<path d="M58.9 172.4L62.4 169.4L66.5 170.9L64.5 174.4Z" fill="#5d5d5d" stroke="#5d5d5d" stroke-width="0.5"/><path d="M59.3 172.6L62.7 169.5L66.1 170.7L64 174.3Z" fill="#898989" stroke="#898989" stroke-width="0.6"/><path d="M28.4 157.4L29.7 153.6L35.3 155.6L32.5 158.9Z" fill="#575757" stroke="#575757" stroke-width="0.5"/><path d="M28.7 157.5L30.1 153.8L34.8 155.4L32.1 158.7Z" fill="#808080" stroke="#808080" stroke-width="0.6"/><path d="M40.6 161.7L42.7 158.2L56.3 163L54.2 166.5Z" fill="#575757" stroke="#575757" stroke-width="0.5"/><path d="M41.7 162.1L43.8 158.6L55.2 162.6L53.1 166.2Z" fill="#808080" stroke="#808080" stroke-width="0.6"/><path d="M37.9 165L40.6 161.7L54.2 166.5L51.5 169.8Z" fill="#5d5d5d" stroke="#5d5d5d" stroke-width="0.5"/><path d="M39 165.4L41.7 162.1L53.1 166.2L50.4 169.5Z" fill="#898989" stroke="#898989" stroke-width="0.6"/><path d="M42.7 158.2L43.9 155L57.5 159.8L56.3 163Z" fill="#4d4d4d" stroke="#4d4d4d" stroke-width="0.5"/><path d="M43.8 158.6L45 155.4L56.4 159.4L55.2 162.6Z" fill="#727272" stroke="#727272" stroke-width="0.6"/><path d="M29.7 153.6L30.1 150.2L37.3 152.7L35.3 155.6Z" fill="#4d4d4d" stroke="#4d4d4d" stroke-width="0.5"/><path d="M30.1 153.8L30.7 150.4L36.7 152.5L34.8 155.4Z" fill="#727272" stroke="#727272" stroke-width="0.6"/><path d="M34.7 167.5L37.9 165L51.5 169.8L48.3 172.3Z" fill="#5e5e5e" stroke="#5e5e5e" stroke-width="0.5"/><path d="M35.8 167.9L39 165.4L50.4 169.5L47.2 172Z" fill="#8b8b8b" stroke="#8b8b8b" stroke-width="0.6"/><path d="M54.9 174.7L58.9 172.4L64.5 174.4L62.1 177.2Z" fill="#5e5e5e" stroke="#5e5e5e" stroke-width="0.5"/><path d="M55.5 174.9L59.3 172.6L64 174.3L61.5 177Z" fill="#8b8b8b" stroke="#8b8b8b" stroke-width="0.6"/><path d="M43.9 155L44.3 152.8L57.9 157.6L57.5 159.8Z" fill="#414141" stroke="#414141" stroke-width="0.5"/><path d="M45 155.4L45.4 153.1L56.8 157.2L56.4 159.4Z" fill="#606060" stroke="#606060" stroke-width="0.6"/><path d="M30.1 150.2L29.7 147.6L38.4 150.7L37.3 152.7Z" fill="#414141" stroke="#414141" stroke-width="0.5"/><path d="M30.7 150.4L30.4 147.9L37.7 150.4L36.7 152.5Z" fill="#606060" stroke="#606060" stroke-width="0.6"/><path d="M31.4 168.8L34.7 167.5L48.3 172.3L45 173.6Z" fill="#5a5a5a" stroke="#5a5a5a" stroke-width="0.5"/><path d="M32.5 169.2L35.8 167.9L47.2 172L44 173.2Z" fill="#858585" stroke="#858585" stroke-width="0.6"/><path d="M50.9 175.7L54.9 174.7L62.1 177.2L59.6 178.7Z" fill="#5a5a5a" stroke="#5a5a5a" stroke-width="0.5"/><path d="M51.6 175.9L55.5 174.9L61.5 177L58.9 178.5Z" fill="#858585" stroke="#858585" stroke-width="0.6"/><path d="M44.3 152.8L43.9 151.8L57.5 156.6L57.9 157.6Z" fill="#3e3e3e" stroke="#3e3e3e" stroke-width="0.5"/><path d="M45.4 153.1L45 152.2L56.4 156.2L56.8 157.2Z" fill="#5c5c5c" stroke="#5c5c5c" stroke-width="0.6"/><path d="M28.4 168.6L31.4 168.8L45 173.6L42 173.4Z" fill="#525252" stroke="#525252" stroke-width="0.5"/><path d="M29.5 169L32.5 169.2L44 173.2L40.9 173Z" fill="#797979" stroke="#797979" stroke-width="0.6"/><path d="M29.7 147.6L28.6 146.4L38.8 150L38.4 150.7Z" fill="#3e3e3e" stroke="#3e3e3e" stroke-width="0.5"/><path d="M30.4 147.9L29.4 146.7L38 149.7L37.7 150.4Z" fill="#5c5c5c" stroke="#5c5c5c" stroke-width="0.6"/><path d="M47.1 175.2L50.9 175.7L59.6 178.7L57.3 178.8Z" fill="#525252" stroke="#525252" stroke-width="0.5"/><path d="M47.9 175.5L51.6 175.9L58.9 178.5L56.5 178.5Z" fill="#797979" stroke="#797979" stroke-width="0.6"/><path d="M43.8 173.2L47.1 175.2L57.3 178.8L55.6 177.3Z" fill="#4e4e4e" stroke="#4e4e4e" stroke-width="0.5"/><path d="M44.8 173.5L47.9 175.5L56.5 178.5L54.6 177Z" fill="#737373" stroke="#737373" stroke-width="0.6"/><path d="M28.6 146.4L26.9 146.6L38.7 150.8L38.8 150Z" fill="#727272" stroke="#727272" stroke-width="0.5"/><path d="M29.4 146.7L27.9 147L37.7 150.4L38 149.7Z" fill="#a7a7a7" stroke="#a7a7a7" stroke-width="0.6"/><path d="M43.9 151.8L43 152.3L56.6 157.1L57.5 156.6Z" fill="#727272" stroke="#727272" stroke-width="0.5"/><path d="M45 152.2L44.1 152.7L55.5 156.7L56.4 156.2Z" fill="#a7a7a7" stroke="#a7a7a7" stroke-width="0.6"/><path d="M25.9 166.8L28.4 168.6L42 173.4L39.5 171.6Z" fill="#4e4e4e" stroke="#4e4e4e" stroke-width="0.5"/><path d="M27 167.2L29.5 169L40.9 173L38.4 171.3Z" fill="#737373" stroke="#737373" stroke-width="0.6"/><path d="M43 152.3L41.9 154.3L55.5 159.1L56.6 157.1Z" fill="#858585" stroke="#858585" stroke-width="0.5"/><path d="M44.1 152.7L42.9 154.7L54.4 158.7L55.5 156.7Z" fill="#c1c1c1" stroke="#c1c1c1" stroke-width="0.6"/><path d="M26.9 146.6L25 148.4L38.3 153L38.7 150.8Z" fill="#858585" stroke="#858585" stroke-width="0.5"/><path d="M27.9 147L26.1 148.7L37.2 152.7L37.7 150.4Z" fill="#c1c1c1" stroke="#c1c1c1" stroke-width="0.6"/><path d="M24.2 163.8L25.9 166.8L39.5 171.6L37.8 168.6Z" fill="#535353" stroke="#535353" stroke-width="0.5"/><path d="M25.2 164.2L27 167.2L38.4 171.3L36.7 168.2Z" fill="#7b7b7b" stroke="#7b7b7b" stroke-width="0.6"/><path d="M41.3 169.9L43.8 173.2L55.6 177.3L54.6 174.6Z" fill="#535353" stroke="#535353" stroke-width="0.5"/><path d="M42.4 170.2L44.8 173.5L54.6 177L53.5 174.2Z" fill="#7b7b7b" stroke="#7b7b7b" stroke-width="0.6"/><path d="M25 148.4L23.8 151.6L37.4 156.4L38.3 153Z" fill="#969696" stroke="#969696" stroke-width="0.5"/><path d="M26.1 148.7L24.9 151.9L36.3 156L37.2 152.7Z" fill="#d5d5d5" stroke="#d5d5d5" stroke-width="0.6"/><path d="M41.9 154.3L40.8 157.6L54.4 162.4L55.5 159.1Z" fill="#969696" stroke="#969696" stroke-width="0.5"/><path d="M42.9 154.7L41.9 157.9L53.3 162L54.4 158.7Z" fill="#d5d5d5" stroke="#d5d5d5" stroke-width="0.6"/><path d="M23.3 159.9L24.2 163.8L37.8 168.6L36.9 164.7Z" fill="#696969" stroke="#696969" stroke-width="0.5"/><path d="M24.4 160.3L25.2 164.2L36.7 168.2L35.8 164.3Z" fill="#9a9a9a" stroke="#9a9a9a" stroke-width="0.6"/><path d="M40.3 165.9L41.3 169.9L54.6 174.6L53.9 170.7Z" fill="#696969" stroke="#696969" stroke-width="0.5"/><path d="M41.4 166.3L42.4 170.2L53.5 174.2L52.8 170.3Z" fill="#9a9a9a" stroke="#9a9a9a" stroke-width="0.6"/><path d="M40.8 157.6L40.2 161.6L53.8 166.4L54.4 162.4Z" fill="#909090" stroke="#909090" stroke-width="0.5"/><path d="M41.9 157.9L41.3 162L52.7 166L53.3 162Z" fill="#cecece" stroke="#cecece" stroke-width="0.6"/><path d="M40.2 161.6L40.3 165.9L53.9 170.7L53.8 166.4Z" fill="#7c7c7c" stroke="#7c7c7c" stroke-width="0.5"/><path d="M41.3 162L41.4 166.3L52.8 170.3L52.7 166Z" fill="#b5b5b5" stroke="#b5b5b5" stroke-width="0.6"/><path d="M23.8 151.6L23.2 155.6L36.8 160.4L37.4 156.4Z" fill="#909090" stroke="#909090" stroke-width="0.5"/><path d="M24.9 151.9L24.3 156L35.7 160L36.3 156Z" fill="#cecece" stroke="#cecece" stroke-width="0.6"/><path d="M23.2 155.6L23.3 159.9L36.9 164.7L36.8 160.4Z" fill="#7c7c7c" stroke="#7c7c7c" stroke-width="0.5"/><path d="M24.3 156L24.4 160.3L35.8 164.3L35.7 160Z" fill="#b5b5b5" stroke="#b5b5b5" stroke-width="0.6"/>
<path d="M195.8 223.3L195.3 219.4L205.8 216.6L206.3 220.5Z" fill="#555555" stroke="#555555" stroke-width="0.5"/><path d="M196.7 223.1L196.2 219.2L205 216.9L205.5 220.7Z" fill="#7e7e7e" stroke="#7e7e7e" stroke-width="0.6"/><path d="M195.4 227.4L195.8 223.3L206.3 220.5L205.9 224.6Z" fill="#5f5f5f" stroke="#5f5f5f" stroke-width="0.5"/><path d="M196.3 227.2L196.7 223.1L205.5 220.7L205.1 224.9Z" fill="#8b8b8b" stroke="#8b8b8b" stroke-width="0.6"/><path d="M184.2 223.2L182.5 220.1L186.9 218.9L187.3 222.4Z" fill="#4b4b4b" stroke="#4b4b4b" stroke-width="0.5"/><path d="M184.4 223.2L182.9 220L186.5 219L187.1 222.4Z" fill="#6f6f6f" stroke="#6f6f6f" stroke-width="0.6"/><path d="M212.5 225.6L214.3 221.6L217.4 220.7L216.8 224.5Z" fill="#626262" stroke="#626262" stroke-width="0.5"/><path d="M212.8 225.5L214.5 221.5L217.2 220.8L216.5 224.6Z" fill="#919191" stroke="#919191" stroke-width="0.6"/><path d="M195.3 219.4L194.2 216.4L204.7 213.6L205.8 216.6Z" fill="#494949" stroke="#494949" stroke-width="0.5"/><path d="M196.2 219.2L195 216.1L203.8 213.8L205 216.9Z" fill="#6b6b6b" stroke="#6b6b6b" stroke-width="0.6"/><path d="M194 231.2L195.4 227.4L205.9 224.6L204.5 228.4Z" fill="#636363" stroke="#636363" stroke-width="0.5"/><path d="M194.9 231L196.3 227.2L205.1 224.9L203.7 228.6Z" fill="#919191" stroke="#919191" stroke-width="0.6"/><path d="M182.5 220.1L180.4 218.1L186 216.7L186.9 218.9Z" fill="#3e3e3e" stroke="#3e3e3e" stroke-width="0.5"/><path d="M182.9 220L180.9 218L185.5 216.8L186.5 219Z" fill="#5c5c5c" stroke="#5c5c5c" stroke-width="0.6"/><path d="M209.8 228.9L212.5 225.6L216.8 224.5L215.3 227.4Z" fill="#626262" stroke="#626262" stroke-width="0.5"/><path d="M210.2 228.7L212.8 225.5L216.5 224.6L214.9 227.5Z" fill="#909090" stroke="#909090" stroke-width="0.6"/><path d="M194.2 216.4L192.6 214.5L203.1 211.7L204.7 213.6Z" fill="#3e3e3e" stroke="#3e3e3e" stroke-width="0.5"/><path d="M195 216.1L193.5 214.3L202.3 212L203.8 213.8Z" fill="#5c5c5c" stroke="#5c5c5c" stroke-width="0.6"/><path d="M191.7 234L194 231.2L204.5 228.4L202.2 231.2Z" fill="#616161" stroke="#616161" stroke-width="0.5"/><path d="M192.6 233.8L194.9 231L203.7 228.6L201.4 231.5Z" fill="#8f8f8f" stroke="#8f8f8f" stroke-width="0.6"/><path d="M180.4 218.1L178.3 217.7L185.1 215.9L186 216.7Z" fill="#3e3e3e" stroke="#3e3e3e" stroke-width="0.5"/><path d="M180.9 218L178.9 217.5L184.5 216L185.5 216.8Z" fill="#5c5c5c" stroke="#5c5c5c" stroke-width="0.6"/><path d="M206.3 230.9L209.8 228.9L215.3 227.4L213 229.1Z" fill="#5c5c5c" stroke="#5c5c5c" stroke-width="0.5"/><path d="M206.8 230.7L210.2 228.7L214.9 227.5L212.5 229.2Z" fill="#878787" stroke="#878787" stroke-width="0.6"/><path d="M192.6 214.5L191.1 214.2L201.6 211.4L203.1 211.7Z" fill="#3e3e3e" stroke="#3e3e3e" stroke-width="0.5"/><path d="M193.5 214.3L192 214L200.8 211.6L202.3 212Z" fill="#5c5c5c" stroke="#5c5c5c" stroke-width="0.6"/><path d="M188.7 235.6L191.7 234L202.2 231.2L199.2 232.8Z" fill="#5a5a5a" stroke="#5a5a5a" stroke-width="0.5"/><path d="M189.5 235.3L192.6 233.8L201.4 231.5L198.4 233Z" fill="#858585" stroke="#858585" stroke-width="0.6"/><path d="M202.3 231.4L206.3 230.9L213 229.1L210.2 229.2Z" fill="#4e4e4e" stroke="#4e4e4e" stroke-width="0.5"/><path d="M202.9 231.2L206.8 230.7L212.5 229.2L209.6 229.4Z" fill="#737373" stroke="#737373" stroke-width="0.6"/><path d="M178.3 217.7L176.5 218.7L184.5 216.6L185.1 215.9Z" fill="#818181" stroke="#818181" stroke-width="0.5"/><path d="M178.9 217.5L177.2 218.5L183.8 216.7L184.5 216Z" fill="#bcbcbc" stroke="#bcbcbc" stroke-width="0.6"/><path d="M185.3 235.6L188.7 235.6L199.2 232.8L195.8 232.8Z" fill="#4e4e4e" stroke="#4e4e4e" stroke-width="0.5"/><path d="M186.1 235.4L189.5 235.3L198.4 233L195 233Z" fill="#737373" stroke="#737373" stroke-width="0.6"/><path d="M191.1 214.2L190.1 215.4L200.6 212.6L201.6 211.4Z" fill="#878787" stroke="#878787" stroke-width="0.5"/><path d="M192 214L190.9 215.2L199.7 212.8L200.8 211.6Z" fill="#c4c4c4" stroke="#c4c4c4" stroke-width="0.6"/><path d="M198.3 230.4L202.3 231.4L210.2 229.2L207.4 227.9Z" fill="#4e4e4e" stroke="#4e4e4e" stroke-width="0.5"/><path d="M199 230.2L202.9 231.2L209.6 229.4L206.7 228.1Z" fill="#737373" stroke="#737373" stroke-width="0.6"/><path d="M176.5 218.7L175.4 221.1L184.6 218.6L184.5 216.6Z" fill="#a7a7a7" stroke="#a7a7a7" stroke-width="0.5"/><path d="M177.2 218.5L176.2 220.9L183.8 218.8L183.8 216.7Z" fill="#e8e8e8" stroke="#e8e8e8" stroke-width="0.6"/><path d="M190.1 215.4L189.8 217.8L200.3 215L200.6 212.6Z" fill="#b0b0b0" stroke="#b0b0b0" stroke-width="0.5"/><path d="M190.9 215.2L190.6 217.6L199.4 215.3L199.7 212.8Z" fill="#f2f2f2" stroke="#f2f2f2" stroke-width="0.6"/><path d="M181.9 234.1L185.3 235.6L195.8 232.8L192.4 231.3Z" fill="#4e4e4e" stroke="#4e4e4e" stroke-width="0.5"/><path d="M182.7 233.9L186.1 235.4L195 233L191.5 231.5Z" fill="#737373" stroke="#737373" stroke-width="0.6"/><path d="M175.4 221.1L175.2 224.4L185.6 221.6L184.6 218.6Z" fill="#bebebe" stroke="#bebebe" stroke-width="0.5"/><path d="M176.2 220.9L176.1 224.2L184.7 221.9L183.8 218.8Z" fill="#ffffff" stroke="#ffffff" stroke-width="0.6"/><path d="M194.5 228.1L198.3 230.4L207.4 227.9L204.9 225.3Z" fill="#5d5d5d" stroke="#5d5d5d" stroke-width="0.5"/><path d="M195.4 227.8L199 230.2L206.7 228.1L204 225.5Z" fill="#8a8a8a" stroke="#8a8a8a" stroke-width="0.6"/><path d="M189.8 217.8L190.4 221.2L200.9 218.4L200.3 215Z" fill="#bababa" stroke="#bababa" stroke-width="0.5"/><path d="M190.6 217.6L191.2 220.9L200 218.6L199.4 215.3Z" fill="#fdfdfd" stroke="#fdfdfd" stroke-width="0.6"/><path d="M178.9 231.4L181.9 234.1L192.4 231.3L189.4 228.6Z" fill="#636363" stroke="#636363" stroke-width="0.5"/><path d="M179.7 231.2L182.7 233.9L191.5 231.5L188.5 228.9Z" fill="#919191" stroke="#919191" stroke-width="0.6"/><path d="M175.2 224.4L176.5 228L187 225.2L185.6 221.6Z" fill="#9d9d9d" stroke="#9d9d9d" stroke-width="0.5"/><path d="M176.1 224.2L177.4 227.8L186.2 225.4L184.7 221.9Z" fill="#dddddd" stroke="#dddddd" stroke-width="0.6"/><path d="M192 224.8L194.5 228.1L204.9 225.3L202.5 222Z" fill="#757575" stroke="#757575" stroke-width="0.5"/><path d="M192.8 224.6L195.4 227.8L204 225.5L201.6 222.2Z" fill="#acacac" stroke="#acacac" stroke-width="0.6"/><path d="M190.4 221.2L192 224.8L202.5 222L200.9 218.4Z" fill="#949494" stroke="#949494" stroke-width="0.5"/><path d="M191.2 220.9L192.8 224.6L201.6 222.2L200 218.6Z" fill="#d3d3d3" stroke="#d3d3d3" stroke-width="0.6"/><path d="M176.5 228L178.9 231.4L189.4 228.6L187 225.2Z" fill="#7a7a7a" stroke="#7a7a7a" stroke-width="0.5"/><path d="M177.4 227.8L179.7 231.2L188.5 228.9L186.2 225.4Z" fill="#b3b3b3" stroke="#b3b3b3" stroke-width="0.6"/>
<path d="M181.5 251.1L182.9 245.5L199 246.4L197.5 252Z" fill="#494949" stroke="#494949" stroke-width="0.5"/><path d="M182.8 251.2L184.1 245.6L197.7 246.3L196.3 251.9Z" fill="#6b6b6b" stroke="#6b6b6b" stroke-width="0.6"/><path d="M204.4 251.1L205.7 245.5L225.2 245.5L223.8 251.1Z" fill="#494949" stroke="#494949" stroke-width="0.5"/><path d="M206 251.1L207.3 245.5L223.6 245.5L222.3 251.1Z" fill="#6b6b6b" stroke="#6b6b6b" stroke-width="0.6"/><path d="M231 253.2L233.3 248L252.7 251.6L250.4 256.6Z" fill="#494949" stroke="#494949" stroke-width="0.5"/><path d="M232.5 253.5L234.9 248.3L251.2 251.3L248.8 256.3Z" fill="#6b6b6b" stroke="#6b6b6b" stroke-width="0.6"/><path d="M257.5 259.5L260.3 254.4L279.4 259.7L276.6 264.7Z" fill="#494949" stroke="#494949" stroke-width="0.5"/><path d="M259 259.9L261.8 254.8L277.9 259.3L275.1 264.3Z" fill="#6c6c6c" stroke="#6c6c6c" stroke-width="0.6"/><path d="M102.8 248.1L103.6 242.5L117 242.5L116.2 248.1Z" fill="#494949" stroke="#494949" stroke-width="0.5"/><path d="M103.8 248.1L104.7 242.5L115.9 242.5L115.1 248.1Z" fill="#6b6b6b" stroke="#6b6b6b" stroke-width="0.6"/><path d="M121.4 248.6L122.5 243L136.4 243.4L135.3 249Z" fill="#494949" stroke="#494949" stroke-width="0.5"/><path d="M122.5 248.6L123.6 243L135.3 243.4L134.2 249Z" fill="#6b6b6b" stroke="#6b6b6b" stroke-width="0.6"/><path d="M140.6 249.1L141.6 243.5L154.8 243.8L153.8 249.4Z" fill="#494949" stroke="#494949" stroke-width="0.5"/><path d="M141.7 249.1L142.6 243.5L153.7 243.8L152.7 249.4Z" fill="#6b6b6b" stroke="#6b6b6b" stroke-width="0.6"/><path d="M159.3 249.9L160.6 244.3L176.7 245.1L175.3 250.7Z" fill="#494949" stroke="#494949" stroke-width="0.5"/><path d="M160.6 250L161.9 244.4L175.4 245.1L174 250.6Z" fill="#6b6b6b" stroke="#6b6b6b" stroke-width="0.6"/><path d="M284.4 265.5L286.8 260.2L306 264L303.6 269.3Z" fill="#494949" stroke="#494949" stroke-width="0.5"/><path d="M285.9 265.8L288.3 260.5L304.5 263.7L302.1 269Z" fill="#6b6b6b" stroke="#6b6b6b" stroke-width="0.6"/><path d="M280.9 270.3L284.4 265.5L303.6 269.3L300.1 274.2Z" fill="#4e4e4e" stroke="#4e4e4e" stroke-width="0.5"/><path d="M282.4 270.7L285.9 265.8L302.1 269L298.5 273.9Z" fill="#737373" stroke="#737373" stroke-width="0.6"/><path d="M157 255.2L159.3 249.9L175.3 250.7L172.9 256Z" fill="#4e4e4e" stroke="#4e4e4e" stroke-width="0.5"/><path d="M158.2 255.3L160.6 250L174 250.6L171.6 255.9Z" fill="#737373" stroke="#737373" stroke-width="0.6"/><path d="M179.1 256.4L181.5 251.1L197.5 252L195 257.4Z" fill="#4e4e4e" stroke="#4e4e4e" stroke-width="0.5"/><path d="M180.4 256.5L182.8 251.2L196.3 251.9L193.7 257.3Z" fill="#737373" stroke="#737373" stroke-width="0.6"/><path d="M202 256.6L204.4 251.1L223.8 251.1L221.3 256.6Z" fill="#4e4e4e" stroke="#4e4e4e" stroke-width="0.5"/><path d="M203.6 256.6L206 251.1L222.3 251.1L219.8 256.6Z" fill="#747474" stroke="#747474" stroke-width="0.6"/><path d="M227.7 258.1L231 253.2L250.4 256.6L247.1 261.3Z" fill="#4e4e4e" stroke="#4e4e4e" stroke-width="0.5"/><path d="M229.3 258.4L232.5 253.5L248.8 256.3L245.6 261Z" fill="#737373" stroke="#737373" stroke-width="0.6"/><path d="M100.9 253.6L102.8 248.1L116.2 248.1L114.2 253.6Z" fill="#4e4e4e" stroke="#4e4e4e" stroke-width="0.5"/><path d="M101.9 253.6L103.8 248.1L115.1 248.1L113.2 253.6Z" fill="#747474" stroke="#747474" stroke-width="0.6"/><path d="M119.3 253.9L121.4 248.6L135.3 249L133.2 254.3Z" fill="#4e4e4e" stroke="#4e4e4e" stroke-width="0.5"/><path d="M120.4 254L122.5 248.6L134.2 249L132.1 254.3Z" fill="#737373" stroke="#737373" stroke-width="0.6"/><path d="M253.7 264L257.5 259.5L276.6 264.7L272.8 269.2Z" fill="#4e4e4e" stroke="#4e4e4e" stroke-width="0.5"/><path d="M255.2 264.5L259 259.9L275.1 264.3L271.3 268.8Z" fill="#727272" stroke="#727272" stroke-width="0.6"/><path d="M138.6 254.5L140.6 249.1L153.8 249.4L151.7 254.8Z" fill="#4e4e4e" stroke="#4e4e4e" stroke-width="0.5"/><path d="M139.7 254.5L141.7 249.1L152.7 249.4L150.7 254.7Z" fill="#747474" stroke="#747474" stroke-width="0.6"/><path d="M260.3 254.4L262 249.7L281.1 255L279.4 259.7Z" fill="#414141" stroke="#414141" stroke-width="0.5"/><path d="M261.8 254.8L263.5 250.2L279.5 254.6L277.9 259.3Z" fill="#606060" stroke="#606060" stroke-width="0.6"/><path d="M233.3 248L234.6 243.2L254 247L252.7 251.6Z" fill="#414141" stroke="#414141" stroke-width="0.5"/><path d="M234.9 248.3L236.1 243.5L252.5 246.7L251.2 251.3Z" fill="#5f5f5f" stroke="#5f5f5f" stroke-width="0.6"/><path d="M205.7 245.5L206 240.6L225.6 240.6L225.2 245.5Z" fill="#3f3f3f" stroke="#3f3f3f" stroke-width="0.5"/><path d="M207.3 245.5L207.6 240.6L224 240.6L223.6 245.5Z" fill="#5d5d5d" stroke="#5d5d5d" stroke-width="0.6"/><path d="M182.9 245.5L183 240.6L199.3 241.4L199 246.4Z" fill="#404040" stroke="#404040" stroke-width="0.5"/><path d="M184.1 245.6L184.3 240.6L198 241.3L197.7 246.3Z" fill="#5e5e5e" stroke="#5e5e5e" stroke-width="0.6"/><path d="M160.6 244.3L160.8 239.4L177 240.2L176.7 245.1Z" fill="#404040" stroke="#404040" stroke-width="0.5"/><path d="M161.9 244.4L162.1 239.5L175.7 240.1L175.4 245.1Z" fill="#5e5e5e" stroke="#5e5e5e" stroke-width="0.6"/><path d="M141.6 243.5L141.4 238.5L154.7 238.9L154.8 243.8Z" fill="#404040" stroke="#404040" stroke-width="0.5"/><path d="M142.6 243.5L142.5 238.6L153.7 238.8L153.7 243.8Z" fill="#5e5e5e" stroke="#5e5e5e" stroke-width="0.6"/><path d="M89.9 242.5L89 237.6L94.4 237.6L93.9 242.5Z" fill="#3f3f3f" stroke="#3f3f3f" stroke-width="0.5"/><path d="M90.2 242.5L89.4 237.6L94 237.6L93.6 242.5Z" fill="#5d5d5d" stroke="#5d5d5d" stroke-width="0.6"/><path d="M103.6 242.5L103.4 237.6L116.8 237.6L117 242.5Z" fill="#3f3f3f" stroke="#3f3f3f" stroke-width="0.5"/><path d="M104.7 242.5L104.4 237.6L115.7 237.6L115.9 242.5Z" fill="#5d5d5d" stroke="#5d5d5d" stroke-width="0.6"/><path d="M122.5 243L122.5 238L136.4 238.5L136.4 243.4Z" fill="#404040" stroke="#404040" stroke-width="0.5"/><path d="M123.6 243L123.6 238.1L135.3 238.5L135.3 243.4Z" fill="#5e5e5e" stroke="#5e5e5e" stroke-width="0.6"/><path d="M286.8 260.2L288 255.4L307.3 259.1L306 264Z" fill="#414141" stroke="#414141" stroke-width="0.5"/><path d="M288.3 260.5L289.6 255.7L305.7 258.8L304.5 263.7Z" fill="#5f5f5f" stroke="#5f5f5f" stroke-width="0.6"/><path d="M198.7 261L202 256.6L221.3 256.6L217.8 261Z" fill="#505050" stroke="#505050" stroke-width="0.5"/><path d="M200.2 261L203.6 256.6L219.8 256.6L216.3 261Z" fill="#767676" stroke="#767676" stroke-width="0.6"/><path d="M223.8 262L227.7 258.1L247.1 261.3L243.2 264.8Z" fill="#4f4f4f" stroke="#4f4f4f" stroke-width="0.5"/><path d="M225.3 262.2L229.3 258.4L245.6 261L241.6 264.6Z" fill="#757575" stroke="#757575" stroke-width="0.6"/><path d="M249.2 267.4L253.7 264L272.8 269.2L268.4 272.5Z" fill="#4e4e4e" stroke="#4e4e4e" stroke-width="0.5"/><path d="M250.8 267.8L255.2 264.5L271.3 268.8L266.8 272.1Z" fill="#737373" stroke="#737373" stroke-width="0.6"/><path d="M276.5 274L280.9 270.3L300.1 274.2L295.8 278Z" fill="#4f4f4f" stroke="#4f4f4f" stroke-width="0.5"/><path d="M278.1 274.3L282.4 270.7L298.5 273.9L294.2 277.6Z" fill="#747474" stroke="#747474" stroke-width="0.6"/><path d="M98 258L100.9 253.6L114.2 253.6L111.3 258Z" fill="#505050" stroke="#505050" stroke-width="0.5"/><path d="M99 258L101.9 253.6L113.2 253.6L110.2 258Z" fill="#767676" stroke="#767676" stroke-width="0.6"/><path d="M116.2 258.3L119.3 253.9L133.2 254.3L130.1 258.6Z" fill="#505050" stroke="#505050" stroke-width="0.5"/><path d="M117.4 258.3L120.4 254L132.1 254.3L129 258.6Z" fill="#767676" stroke="#767676" stroke-width="0.6"/><path d="M135.6 258.8L138.6 254.5L151.7 254.8L148.7 259.1Z" fill="#505050" stroke="#505050" stroke-width="0.5"/><path d="M136.7 258.8L139.7 254.5L150.7 254.7L147.7 259.1Z" fill="#767676" stroke="#767676" stroke-width="0.6"/><path d="M153.7 259.5L157 255.2L172.9 256L169.5 260.3Z" fill="#505050" stroke="#505050" stroke-width="0.5"/><path d="M155 259.6L158.2 255.3L171.6 255.9L168.2 260.2Z" fill="#767676" stroke="#767676" stroke-width="0.6"/><path d="M175.7 260.7L179.1 256.4L195 257.4L191.6 261.7Z" fill="#505050" stroke="#505050" stroke-width="0.5"/><path d="M177 260.8L180.4 256.5L193.7 257.3L190.3 261.6Z" fill="#767676" stroke="#767676" stroke-width="0.6"/><path d="M262 249.7L262.4 246.2L281.5 251.4L281.1 255Z" fill="#373737" stroke="#373737" stroke-width="0.5"/><path d="M263.5 250.2L263.9 246.6L280 251L279.5 254.6Z" fill="#515151" stroke="#515151" stroke-width="0.6"/><path d="M234.6 243.2L234.8 239.7L254.2 243.6L254 247Z" fill="#363636" stroke="#363636" stroke-width="0.5"/><path d="M236.1 243.5L236.4 240L252.7 243.3L252.5 246.7Z" fill="#505050" stroke="#505050" stroke-width="0.6"/><path d="M206 240.6L205.5 237.1L225 237.1L225.6 240.6Z" fill="#343434" stroke="#343434" stroke-width="0.5"/><path d="M207.6 240.6L207 237.1L223.5 237.1L224 240.6Z" fill="#4d4d4d" stroke="#4d4d4d" stroke-width="0.6"/><path d="M183 240.6L182.3 237L198.6 237.7L199.3 241.4Z" fill="#353535" stroke="#353535" stroke-width="0.5"/><path d="M184.3 240.6L183.6 237.1L197.3 237.7L198 241.3Z" fill="#4e4e4e" stroke="#4e4e4e" stroke-width="0.6"/><path d="M160.8 239.4L160.2 235.9L176.4 236.7L177 240.2Z" fill="#353535" stroke="#353535" stroke-width="0.5"/><path d="M162.1 239.5L161.5 235.9L175.1 236.6L175.7 240.1Z" fill="#4e4e4e" stroke="#4e4e4e" stroke-width="0.6"/><path d="M141.4 238.5L140.4 235L153.8 235.4L154.7 238.9Z" fill="#353535" stroke="#353535" stroke-width="0.5"/><path d="M142.5 238.6L141.5 235L152.7 235.3L153.7 238.8Z" fill="#4e4e4e" stroke="#4e4e4e" stroke-width="0.6"/><path d="M122.5 238L121.6 234.5L135.5 235L136.4 238.5Z" fill="#353535" stroke="#353535" stroke-width="0.5"/><path d="M123.6 238.1L122.7 234.6L134.4 235L135.3 238.5Z" fill="#4e4e4e" stroke="#4e4e4e" stroke-width="0.6"/><path d="M89 237.6L87.1 234.1L94.1 234.1L94.4 237.6Z" fill="#343434" stroke="#343434" stroke-width="0.5"/><path d="M89.4 237.6L87.7 234.1L93.5 234.1L94 237.6Z" fill="#4d4d4d" stroke="#4d4d4d" stroke-width="0.6"/><path d="M103.4 237.6L102.3 234.1L115.8 234.1L116.8 237.6Z" fill="#343434" stroke="#343434" stroke-width="0.5"/><path d="M104.4 237.6L103.4 234.1L114.7 234.1L115.7 237.6Z" fill="#4d4d4d" stroke="#4d4d4d" stroke-width="0.6"/><path d="M288 255.4L288.2 251.9L307.4 255.5L307.3 259.1Z" fill="#363636" stroke="#363636" stroke-width="0.5"/><path d="M289.6 255.7L289.7 252.2L305.9 255.2L305.7 258.8Z" fill="#505050" stroke="#505050" stroke-width="0.6"/><path d="M271.9 275.9L276.5 274L295.8 278L291.1 279.9Z" fill="#4b4b4b" stroke="#4b4b4b" stroke-width="0.5"/><path d="M273.4 276.2L278.1 274.3L294.2 277.6L289.5 279.6Z" fill="#6f6f6f" stroke="#6f6f6f" stroke-width="0.6"/><path d="M112.6 260.9L116.2 258.3L130.1 258.6L126.4 261.3Z" fill="#4d4d4d" stroke="#4d4d4d" stroke-width="0.5"/><path d="M113.7 261L117.4 258.3L129 258.6L125.3 261.2Z" fill="#727272" stroke="#727272" stroke-width="0.6"/><path d="M94.4 260.8L98 258L111.3 258L107.7 260.8Z" fill="#4e4e4e" stroke="#4e4e4e" stroke-width="0.5"/><path d="M95.4 260.8L99 258L110.2 258L106.6 260.8Z" fill="#727272" stroke="#727272" stroke-width="0.6"/><path d="M131.9 261.5L135.6 258.8L148.7 259.1L145.1 261.8Z" fill="#4d4d4d" stroke="#4d4d4d" stroke-width="0.5"/><path d="M133 261.5L136.7 258.8L147.7 259.1L144 261.8Z" fill="#727272" stroke="#727272" stroke-width="0.6"/><path d="M149.9 262.1L153.7 259.5L169.5 260.3L165.5 262.8Z" fill="#4d4d4d" stroke="#4d4d4d" stroke-width="0.5"/><path d="M151.1 262.2L155 259.6L168.2 260.2L164.2 262.8Z" fill="#727272" stroke="#727272" stroke-width="0.6"/><path d="M171.7 263.2L175.7 260.7L191.6 261.7L187.6 264.2Z" fill="#4d4d4d" stroke="#4d4d4d" stroke-width="0.5"/><path d="M173 263.3L177 260.8L190.3 261.6L186.3 264.1Z" fill="#717171" stroke="#717171" stroke-width="0.6"/><path d="M194.7 263.8L198.7 261L217.8 261L213.6 263.8Z" fill="#4e4e4e" stroke="#4e4e4e" stroke-width="0.5"/><path d="M196.2 263.8L200.2 261L216.3 261L212.1 263.8Z" fill="#727272" stroke="#727272" stroke-width="0.6"/><path d="M219.5 264.2L223.8 262L243.2 264.8L238.9 266.6Z" fill="#4c4c4c" stroke="#4c4c4c" stroke-width="0.5"/><path d="M221.1 264.4L225.3 262.2L241.6 264.6L237.4 266.4Z" fill="#707070" stroke="#707070" stroke-width="0.6"/><path d="M244.6 269.1L249.2 267.4L268.4 272.5L263.7 274Z" fill="#4b4b4b" stroke="#4b4b4b" stroke-width="0.5"/><path d="M246.1 269.5L250.8 267.8L266.8 272.1L262.2 273.6Z" fill="#6e6e6e" stroke="#6e6e6e" stroke-width="0.6"/><path d="M182.3 237L180.9 235.4L197.4 236L198.6 237.7Z" fill="#333333" stroke="#333333" stroke-width="0.5"/><path d="M183.6 237.1L182.2 235.5L196.1 236L197.3 237.7Z" fill="#4c4c4c" stroke="#4c4c4c" stroke-width="0.6"/><path d="M160.2 235.9L158.9 234.3L175.1 235.1L176.4 236.7Z" fill="#333333" stroke="#333333" stroke-width="0.5"/><path d="M161.5 235.9L160.2 234.3L173.8 235L175.1 236.6Z" fill="#4c4c4c" stroke="#4c4c4c" stroke-width="0.6"/><path d="M140.4 235L138.8 233.4L152.4 233.8L153.8 235.4Z" fill="#333333" stroke="#333333" stroke-width="0.5"/><path d="M141.5 235L139.9 233.5L151.3 233.8L152.7 235.3Z" fill="#4c4c4c" stroke="#4c4c4c" stroke-width="0.6"/><path d="M121.6 234.5L120.2 232.9L134 233.4L135.5 235Z" fill="#333333" stroke="#333333" stroke-width="0.5"/><path d="M122.7 234.6L121.3 233L132.9 233.4L134.4 235Z" fill="#4c4c4c" stroke="#4c4c4c" stroke-width="0.6"/><path d="M87.1 234.1L84.8 232.5L93.2 232.5L94.1 234.1Z" fill="#333333" stroke="#333333" stroke-width="0.5"/><path d="M87.7 234.1L85.5 232.5L92.5 232.5L93.5 234.1Z" fill="#4c4c4c" stroke="#4c4c4c" stroke-width="0.6"/><path d="M102.3 234.1L100.7 232.5L114.2 232.5L115.8 234.1Z" fill="#333333" stroke="#333333" stroke-width="0.5"/><path d="M103.4 234.1L101.8 232.5L113.1 232.5L114.7 234.1Z" fill="#4c4c4c" stroke="#4c4c4c" stroke-width="0.6"/><path d="M288.2 251.9L287.4 250.2L306.6 253.8L307.4 255.5Z" fill="#333333" stroke="#333333" stroke-width="0.5"/><path d="M289.7 252.2L288.9 250.5L305.1 253.5L305.9 255.2Z" fill="#4c4c4c" stroke="#4c4c4c" stroke-width="0.6"/><path d="M262.4 246.2L261.7 244.5L280.9 249.6L281.5 251.4Z" fill="#333333" stroke="#333333" stroke-width="0.5"/><path d="M263.9 246.6L263.3 244.9L279.3 249.2L280 251Z" fill="#4c4c4c" stroke="#4c4c4c" stroke-width="0.6"/><path d="M234.8 239.7L234.2 238L253.6 241.9L254.2 243.6Z" fill="#333333" stroke="#333333" stroke-width="0.5"/><path d="M236.4 240L235.7 238.3L252 241.6L252.7 243.3Z" fill="#4c4c4c" stroke="#4c4c4c" stroke-width="0.6"/><path d="M205.5 237.1L204.4 235.5L224 235.5L225 237.1Z" fill="#333333" stroke="#333333" stroke-width="0.5"/><path d="M207 237.1L206 235.5L222.5 235.5L223.5 237.1Z" fill="#4c4c4c" stroke="#4c4c4c" stroke-width="0.6"/><path d="M267.3 275.6L271.9 275.9L291.1 279.9L286.5 279.6Z" fill="#444444" stroke="#444444" stroke-width="0.5"/><path d="M268.8 275.9L273.4 276.2L289.5 279.6L284.9 279.3Z" fill="#656565" stroke="#656565" stroke-width="0.6"/><path d="M300.2 281.8L305.9 282.1L311.6 283.1L308.2 283.2Z" fill="#454545" stroke="#454545" stroke-width="0.5"/><path d="M300.9 281.9L306.3 282.2L311.2 283L307.5 283Z" fill="#656565" stroke="#656565" stroke-width="0.6"/><path d="M108.6 261.5L112.6 260.9L126.4 261.3L122.4 261.8Z" fill="#474747" stroke="#474747" stroke-width="0.5"/><path d="M109.7 261.5L113.7 261L125.3 261.2L121.3 261.8Z" fill="#686868" stroke="#686868" stroke-width="0.6"/><path d="M90.4 261.5L94.4 260.8L107.7 260.8L103.7 261.5Z" fill="#474747" stroke="#474747" stroke-width="0.5"/><path d="M91.5 261.5L95.4 260.8L106.6 260.8L102.6 261.5Z" fill="#686868" stroke="#686868" stroke-width="0.6"/><path d="M127.9 262.1L131.9 261.5L145.1 261.8L141.1 262.4Z" fill="#474747" stroke="#474747" stroke-width="0.5"/><path d="M129 262.1L133 261.5L144 261.8L140.1 262.4Z" fill="#686868" stroke="#686868" stroke-width="0.6"/><path d="M145.8 262.6L149.9 262.1L165.5 262.8L161.2 263.3Z" fill="#464646" stroke="#464646" stroke-width="0.5"/><path d="M147 262.6L151.1 262.2L164.2 262.8L160 263.2Z" fill="#686868" stroke="#686868" stroke-width="0.6"/><path d="M167.5 263.6L171.7 263.2L187.6 264.2L183.4 264.6Z" fill="#464646" stroke="#464646" stroke-width="0.5"/><path d="M168.8 263.7L173 263.3L186.3 264.1L182.1 264.5Z" fill="#676767" stroke="#676767" stroke-width="0.6"/><path d="M190.3 264.5L194.7 263.8L213.6 263.8L209 264.5Z" fill="#474747" stroke="#474747" stroke-width="0.5"/><path d="M191.8 264.5L196.2 263.8L212.1 263.8L207.5 264.5Z" fill="#686868" stroke="#686868" stroke-width="0.6"/><path d="M215.3 264.4L219.5 264.2L238.9 266.6L234.7 266.4Z" fill="#464646" stroke="#464646" stroke-width="0.5"/><path d="M216.9 264.6L221.1 264.4L237.4 266.4L233.1 266.3Z" fill="#666666" stroke="#666666" stroke-width="0.6"/><path d="M240.2 268.7L244.6 269.1L263.7 274L259.3 273.4Z" fill="#444444" stroke="#444444" stroke-width="0.5"/><path d="M241.7 269L246.1 269.5L262.2 273.6L257.8 273Z" fill="#646464" stroke="#646464" stroke-width="0.6"/><path d="M180.9 235.4L179.3 236L196 236.5L197.4 236Z" fill="#636363" stroke="#636363" stroke-width="0.5"/><path d="M182.2 235.5L180.6 236.1L194.7 236.5L196.1 236Z" fill="#919191" stroke="#919191" stroke-width="0.6"/><path d="M158.9 234.3L157.5 234.9L173.7 235.7L175.1 235.1Z" fill="#636363" stroke="#636363" stroke-width="0.5"/><path d="M160.2 234.3L158.8 234.9L172.4 235.6L173.8 235Z" fill="#919191" stroke="#919191" stroke-width="0.6"/><path d="M138.8 233.4L137.1 234L150.9 234.4L152.4 233.8Z" fill="#636363" stroke="#636363" stroke-width="0.5"/><path d="M139.9 233.5L138.2 234.1L149.8 234.4L151.3 233.8Z" fill="#929292" stroke="#929292" stroke-width="0.6"/><path d="M84.8 232.5L82.4 233.2L92.3 233.2L93.2 232.5Z" fill="#646464" stroke="#646464" stroke-width="0.5"/><path d="M85.5 232.5L83.2 233.2L91.5 233.2L92.5 232.5Z" fill="#939393" stroke="#939393" stroke-width="0.6"/><path d="M120.2 232.9L118.5 233.5L132.4 234L134 233.4Z" fill="#636363" stroke="#636363" stroke-width="0.5"/><path d="M121.3 233L119.6 233.6L131.3 234L132.9 233.4Z" fill="#919191" stroke="#919191" stroke-width="0.6"/><path d="M100.7 232.5L99.1 233.2L112.6 233.2L114.2 232.5Z" fill="#646464" stroke="#646464" stroke-width="0.5"/><path d="M101.8 232.5L100.2 233.2L111.5 233.2L113.1 232.5Z" fill="#939393" stroke="#939393" stroke-width="0.6"/><path d="M261.7 244.5L260.4 244.8L279.6 249.8L280.9 249.6Z" fill="#5d5d5d" stroke="#5d5d5d" stroke-width="0.5"/><path d="M263.3 244.9L262 245.2L278 249.4L279.3 249.2Z" fill="#898989" stroke="#898989" stroke-width="0.6"/><path d="M234.2 238L233 238.5L252.4 242.4L253.6 241.9Z" fill="#5f5f5f" stroke="#5f5f5f" stroke-width="0.5"/><path d="M235.7 238.3L234.5 238.8L250.8 242.1L252 241.6Z" fill="#8b8b8b" stroke="#8b8b8b" stroke-width="0.6"/><path d="M204.4 235.5L203.3 236.2L222.9 236.2L224 235.5Z" fill="#646464" stroke="#646464" stroke-width="0.5"/><path d="M206 235.5L204.9 236.2L221.3 236.2L222.5 235.5Z" fill="#939393" stroke="#939393" stroke-width="0.6"/><path d="M287.4 250.2L286.1 250.6L305.4 254.2L306.6 253.8Z" fill="#5f5f5f" stroke="#5f5f5f" stroke-width="0.5"/><path d="M288.9 250.5L287.7 250.9L303.9 253.9L305.1 253.5Z" fill="#8c8c8c" stroke="#8c8c8c" stroke-width="0.6"/><path d="M263.2 273.1L267.3 275.6L286.5 279.6L282.4 277.2Z" fill="#404040" stroke="#404040" stroke-width="0.5"/><path d="M264.8 273.5L268.8 275.9L284.9 279.3L280.9 276.9Z" fill="#5f5f5f" stroke="#5f5f5f" stroke-width="0.6"/><path d="M295 279.3L300.2 281.8L308.2 283.2L305.1 281.1Z" fill="#404040" stroke="#404040" stroke-width="0.5"/><path d="M295.8 279.5L300.9 281.9L307.5 283L304.3 280.9Z" fill="#5f5f5f" stroke="#5f5f5f" stroke-width="0.6"/><path d="M86.5 259.9L90.4 261.5L103.7 261.5L99.8 259.9Z" fill="#404040" stroke="#404040" stroke-width="0.5"/><path d="M87.6 259.9L91.5 261.5L102.6 261.5L98.7 259.9Z" fill="#5f5f5f" stroke="#5f5f5f" stroke-width="0.6"/><path d="M104.8 259.9L108.6 261.5L122.4 261.8L118.6 260.1Z" fill="#404040" stroke="#404040" stroke-width="0.5"/><path d="M105.9 259.9L109.7 261.5L121.3 261.8L117.5 260.1Z" fill="#5f5f5f" stroke="#5f5f5f" stroke-width="0.6"/><path d="M141.9 260.9L145.8 262.6L161.2 263.3L157.2 261.5Z" fill="#404040" stroke="#404040" stroke-width="0.5"/><path d="M143.2 260.9L147 262.6L160 263.2L155.9 261.5Z" fill="#5f5f5f" stroke="#5f5f5f" stroke-width="0.6"/><path d="M163.6 261.9L167.5 263.6L183.4 264.6L179.4 262.8Z" fill="#404040" stroke="#404040" stroke-width="0.5"/><path d="M164.8 261.9L168.8 263.7L182.1 264.5L178.1 262.7Z" fill="#5f5f5f" stroke="#5f5f5f" stroke-width="0.6"/><path d="M186.1 262.9L190.3 264.5L209 264.5L204.6 262.9Z" fill="#404040" stroke="#404040" stroke-width="0.5"/><path d="M187.6 262.9L191.8 264.5L207.5 264.5L203.1 262.9Z" fill="#5f5f5f" stroke="#5f5f5f" stroke-width="0.6"/><path d="M211.4 262.6L215.3 264.4L234.7 266.4L230.8 264.2Z" fill="#404040" stroke="#404040" stroke-width="0.5"/><path d="M213 262.7L216.9 264.6L233.1 266.3L229.2 264.1Z" fill="#5f5f5f" stroke="#5f5f5f" stroke-width="0.6"/><path d="M236.4 266.2L240.2 268.7L259.3 273.4L255.6 270.7Z" fill="#404040" stroke="#404040" stroke-width="0.5"/><path d="M237.9 266.6L241.7 269L257.8 273L254 270.4Z" fill="#5f5f5f" stroke="#5f5f5f" stroke-width="0.6"/><path d="M124.1 260.4L127.9 262.1L141.1 262.4L137.3 260.8Z" fill="#404040" stroke="#404040" stroke-width="0.5"/><path d="M125.1 260.5L129 262.1L140.1 262.4L136.3 260.7Z" fill="#5f5f5f" stroke="#5f5f5f" stroke-width="0.6"/><path d="M260.4 244.8L258.9 247.4L278.1 252.2L279.6 249.8Z" fill="#707070" stroke="#707070" stroke-width="0.5"/><path d="M262 245.2L260.4 247.7L276.5 251.8L278 249.4Z" fill="#a1a1a1" stroke="#a1a1a1" stroke-width="0.6"/><path d="M233 238.5L231.7 241L251 244.9L252.4 242.4Z" fill="#727272" stroke="#727272" stroke-width="0.5"/><path d="M234.5 238.8L233.2 241.3L249.5 244.6L250.8 242.1Z" fill="#a4a4a4" stroke="#a4a4a4" stroke-width="0.6"/><path d="M203.3 236.2L202.6 239L222.1 239L222.9 236.2Z" fill="#7e7e7e" stroke="#7e7e7e" stroke-width="0.5"/><path d="M204.9 236.2L204.2 239L220.5 239L221.3 236.2Z" fill="#b2b2b2" stroke="#b2b2b2" stroke-width="0.6"/><path d="M179.3 236L178 238.8L195 239.2L196 236.5Z" fill="#7c7c7c" stroke="#7c7c7c" stroke-width="0.5"/><path d="M180.6 236.1L179.3 238.8L193.6 239.1L194.7 236.5Z" fill="#b0b0b0" stroke="#b0b0b0" stroke-width="0.6"/><path d="M82.4 233.2L80.3 236L91.7 236L92.3 233.2Z" fill="#7e7e7e" stroke="#7e7e7e" stroke-width="0.5"/><path d="M83.2 233.2L81.3 236L90.8 236L91.5 233.2Z" fill="#b2b2b2" stroke="#b2b2b2" stroke-width="0.6"/><path d="M99.1 233.2L97.8 236L111.3 236L112.6 233.2Z" fill="#7e7e7e" stroke="#7e7e7e" stroke-width="0.5"/><path d="M100.2 233.2L98.9 236L110.2 236L111.5 233.2Z" fill="#b2b2b2" stroke="#b2b2b2" stroke-width="0.6"/><path d="M157.5 234.9L156.3 237.6L172.5 238.4L173.7 235.7Z" fill="#7b7b7b" stroke="#7b7b7b" stroke-width="0.5"/><path d="M158.8 234.9L157.6 237.6L171.2 238.3L172.4 235.6Z" fill="#aeaeae" stroke="#aeaeae" stroke-width="0.6"/><path d="M137.1 234L135.7 236.8L149.6 237.2L150.9 234.4Z" fill="#7c7c7c" stroke="#7c7c7c" stroke-width="0.5"/><path d="M138.2 234.1L136.8 236.8L148.5 237.1L149.8 234.4Z" fill="#b0b0b0" stroke="#b0b0b0" stroke-width="0.6"/><path d="M118.5 233.5L117.2 236.3L131 236.7L132.4 234Z" fill="#7c7c7c" stroke="#7c7c7c" stroke-width="0.5"/><path d="M119.6 233.6L118.3 236.3L129.9 236.7L131.3 234Z" fill="#afafaf" stroke="#afafaf" stroke-width="0.6"/><path d="M286.1 250.6L284.9 253.2L304.1 256.7L305.4 254.2Z" fill="#737373" stroke="#737373" stroke-width="0.5"/><path d="M287.7 250.9L286.4 253.5L302.6 256.4L303.9 253.9Z" fill="#a6a6a6" stroke="#a6a6a6" stroke-width="0.6"/><path d="M260.1 268.8L263.2 273.1L282.4 277.2L279.3 273Z" fill="#464646" stroke="#464646" stroke-width="0.5"/><path d="M261.6 269.2L264.8 273.5L280.9 276.9L277.8 272.7Z" fill="#676767" stroke="#676767" stroke-width="0.6"/><path d="M290.7 275L295 279.3L305.1 281.1L303 277.1Z" fill="#454545" stroke="#454545" stroke-width="0.5"/><path d="M291.7 275.2L295.8 279.5L304.3 280.9L302 277Z" fill="#666666" stroke="#666666" stroke-width="0.6"/><path d="M101.5 256.4L104.8 259.9L118.6 260.1L115.2 256.5Z" fill="#424242" stroke="#424242" stroke-width="0.5"/><path d="M102.6 256.4L105.9 259.9L117.5 260.1L114.1 256.5Z" fill="#626262" stroke="#626262" stroke-width="0.6"/><path d="M138.7 257.3L141.9 260.9L157.2 261.5L153.7 257.8Z" fill="#434343" stroke="#434343" stroke-width="0.5"/><path d="M139.9 257.3L143.2 260.9L155.9 261.5L152.5 257.8Z" fill="#626262" stroke="#626262" stroke-width="0.6"/><path d="M160.2 258.2L163.6 261.9L179.4 262.8L176.1 259Z" fill="#434343" stroke="#434343" stroke-width="0.5"/><path d="M161.4 258.3L164.8 261.9L178.1 262.7L174.8 259Z" fill="#636363" stroke="#636363" stroke-width="0.6"/><path d="M182.4 259.4L186.1 262.9L204.6 262.9L200.6 259.4Z" fill="#424242" stroke="#424242" stroke-width="0.5"/><path d="M183.9 259.4L187.6 262.9L203.1 262.9L199.2 259.4Z" fill="#626262" stroke="#626262" stroke-width="0.6"/><path d="M208.1 259.1L211.4 262.6L230.8 264.2L227.4 260.1Z" fill="#434343" stroke="#434343" stroke-width="0.5"/><path d="M209.6 259.1L213 262.7L229.2 264.1L225.8 260Z" fill="#636363" stroke="#636363" stroke-width="0.6"/><path d="M83.2 256.4L86.5 259.9L99.8 259.9L96.4 256.4Z" fill="#424242" stroke="#424242" stroke-width="0.5"/><path d="M84.2 256.4L87.6 259.9L98.7 259.9L95.4 256.4Z" fill="#626262" stroke="#626262" stroke-width="0.6"/><path d="M233.5 262.1L236.4 266.2L255.6 270.7L252.7 266.3Z" fill="#464646" stroke="#464646" stroke-width="0.5"/><path d="M235 262.4L237.9 266.6L254 270.4L251.2 266Z" fill="#676767" stroke="#676767" stroke-width="0.6"/><path d="M120.7 256.8L124.1 260.4L137.3 260.8L134.1 257.2Z" fill="#434343" stroke="#434343" stroke-width="0.5"/><path d="M121.8 256.9L125.1 260.5L136.3 260.7L133 257.2Z" fill="#626262" stroke="#626262" stroke-width="0.6"/><path d="M258.9 247.4L257.7 251.7L276.9 256.3L278.1 252.2Z" fill="#838383" stroke="#838383" stroke-width="0.5"/><path d="M260.4 247.7L259.3 252.1L275.4 255.9L276.5 251.8Z" fill="#b8b8b8" stroke="#b8b8b8" stroke-width="0.6"/><path d="M231.7 241L230.8 245.4L250.1 249.2L251 244.9Z" fill="#868686" stroke="#868686" stroke-width="0.5"/><path d="M233.2 241.3L232.3 245.7L248.5 248.9L249.5 244.6Z" fill="#bbbbbb" stroke="#bbbbbb" stroke-width="0.6"/><path d="M202.6 239L202.6 243.4L222 243.4L222.1 239Z" fill="#949494" stroke="#949494" stroke-width="0.5"/><path d="M204.2 239L204.1 243.4L220.4 243.4L220.5 239Z" fill="#cacaca" stroke="#cacaca" stroke-width="0.6"/><path d="M178 238.8L177.4 243.3L194.7 243.5L195 239.2Z" fill="#939393" stroke="#939393" stroke-width="0.5"/><path d="M179.3 238.8L178.8 243.3L193.3 243.5L193.6 239.1Z" fill="#c9c9c9" stroke="#c9c9c9" stroke-width="0.6"/><path d="M156.3 237.6L155.8 242L171.9 242.8L172.5 238.4Z" fill="#919191" stroke="#919191" stroke-width="0.5"/><path d="M157.6 237.6L157.1 242.1L170.6 242.7L171.2 238.3Z" fill="#c7c7c7" stroke="#c7c7c7" stroke-width="0.6"/><path d="M135.7 236.8L134.9 241.2L149.1 241.6L149.6 237.2Z" fill="#929292" stroke="#929292" stroke-width="0.5"/><path d="M136.8 236.8L136 241.2L148 241.6L148.5 237.1Z" fill="#c8c8c8" stroke="#c8c8c8" stroke-width="0.6"/><path d="M117.2 236.3L116.5 240.7L130.2 241.1L131 236.7Z" fill="#929292" stroke="#929292" stroke-width="0.5"/><path d="M118.3 236.3L117.6 240.7L129.1 241.1L129.9 236.7Z" fill="#c8c8c8" stroke="#c8c8c8" stroke-width="0.6"/><path d="M80.3 236L79 240.4L91.8 240.4L91.7 236Z" fill="#949494" stroke="#949494" stroke-width="0.5"/><path d="M81.3 236L80 240.4L90.8 240.4L90.8 236Z" fill="#cacaca" stroke="#cacaca" stroke-width="0.6"/><path d="M97.8 236L97.2 240.4L110.8 240.4L111.3 236Z" fill="#949494" stroke="#949494" stroke-width="0.5"/><path d="M98.9 236L98.3 240.4L109.7 240.4L110.2 236Z" fill="#cacaca" stroke="#cacaca" stroke-width="0.6"/><path d="M284.9 253.2L284.2 257.6L303 261L304.1 256.7Z" fill="#878787" stroke="#878787" stroke-width="0.5"/><path d="M286.4 253.5L285.7 257.9L301.5 260.7L302.6 256.4Z" fill="#bcbcbc" stroke="#bcbcbc" stroke-width="0.6"/><path d="M205.4 254.3L208.1 259.1L227.4 260.1L224.7 254.7Z" fill="#565656" stroke="#565656" stroke-width="0.5"/><path d="M207 254.3L209.6 259.1L225.8 260L223.2 254.7Z" fill="#7f7f7f" stroke="#7f7f7f" stroke-width="0.6"/><path d="M231.6 256.8L233.5 262.1L252.7 266.3L250.8 260.7Z" fill="#585858" stroke="#585858" stroke-width="0.5"/><path d="M233.1 257.1L235 262.4L251.2 266L249.3 260.4Z" fill="#818181" stroke="#818181" stroke-width="0.6"/><path d="M258.1 263.3L260.1 268.8L279.3 273L277.3 267.6Z" fill="#585858" stroke="#585858" stroke-width="0.5"/><path d="M259.7 263.7L261.6 269.2L277.8 272.7L275.8 267.2Z" fill="#818181" stroke="#818181" stroke-width="0.6"/><path d="M287.4 269.5L290.7 275L303 277.1L301.9 271.9Z" fill="#575757" stroke="#575757" stroke-width="0.5"/><path d="M288.6 269.7L291.7 275.2L302 277L300.7 271.7Z" fill="#818181" stroke="#818181" stroke-width="0.6"/><path d="M80.7 251.5L83.2 256.4L96.4 256.4L93.9 251.5Z" fill="#565656" stroke="#565656" stroke-width="0.5"/><path d="M81.7 251.5L84.2 256.4L95.4 256.4L92.8 251.5Z" fill="#7e7e7e" stroke="#7e7e7e" stroke-width="0.6"/><path d="M99 251.5L101.5 256.4L115.2 256.5L112.7 251.5Z" fill="#565656" stroke="#565656" stroke-width="0.5"/><path d="M100.1 251.5L102.6 256.4L114.1 256.5L111.6 251.5Z" fill="#7e7e7e" stroke="#7e7e7e" stroke-width="0.6"/><path d="M118.2 251.8L120.7 256.8L134.1 257.2L131.7 252.2Z" fill="#565656" stroke="#565656" stroke-width="0.5"/><path d="M119.3 251.9L121.8 256.9L133 257.2L130.7 252.2Z" fill="#7e7e7e" stroke="#7e7e7e" stroke-width="0.6"/><path d="M136.3 252.3L138.7 257.3L153.7 257.8L151.1 252.8Z" fill="#565656" stroke="#565656" stroke-width="0.5"/><path d="M137.5 252.3L139.9 257.3L152.5 257.8L149.9 252.7Z" fill="#7e7e7e" stroke="#7e7e7e" stroke-width="0.6"/><path d="M157.7 253.2L160.2 258.2L176.1 259L173.6 253.9Z" fill="#565656" stroke="#565656" stroke-width="0.5"/><path d="M158.9 253.2L161.4 258.3L174.8 259L172.3 253.9Z" fill="#7f7f7f" stroke="#7f7f7f" stroke-width="0.6"/><path d="M179.7 254.5L182.4 259.4L200.6 259.4L197.5 254.5Z" fill="#565656" stroke="#565656" stroke-width="0.5"/><path d="M181.1 254.5L183.9 259.4L199.2 259.4L196.1 254.5Z" fill="#7e7e7e" stroke="#7e7e7e" stroke-width="0.6"/><path d="M257.7 251.7L257.3 257.4L276.5 261.7L276.9 256.3Z" fill="#7e7e7e" stroke="#7e7e7e" stroke-width="0.5"/><path d="M259.3 252.1L258.9 257.7L275 261.3L275.4 255.9Z" fill="#b3b3b3" stroke="#b3b3b3" stroke-width="0.6"/><path d="M230.8 245.4L230.7 251L249.9 254.6L250.1 249.2Z" fill="#7f7f7f" stroke="#7f7f7f" stroke-width="0.5"/><path d="M232.3 245.7L232.2 251.3L248.4 254.4L248.5 248.9Z" fill="#b4b4b4" stroke="#b4b4b4" stroke-width="0.6"/><path d="M177.4 243.3L178 248.8L195.5 248.9L194.7 243.5Z" fill="#848484" stroke="#848484" stroke-width="0.5"/><path d="M178.8 243.3L179.4 248.8L194.1 248.9L193.3 243.5Z" fill="#b9b9b9" stroke="#b9b9b9" stroke-width="0.6"/><path d="M202.6 243.4L203.6 248.9L222.8 248.9L222 243.4Z" fill="#848484" stroke="#848484" stroke-width="0.5"/><path d="M204.1 243.4L205.1 248.9L221.3 248.9L220.4 243.4Z" fill="#b9b9b9" stroke="#b9b9b9" stroke-width="0.6"/><path d="M134.9 241.2L135.1 246.6L149.5 247.1L149.1 241.6Z" fill="#838383" stroke="#838383" stroke-width="0.5"/><path d="M136 241.2L136.2 246.7L148.4 247.1L148 241.6Z" fill="#b8b8b8" stroke="#b8b8b8" stroke-width="0.6"/><path d="M155.8 242L156.2 247.5L172.2 248.2L171.9 242.8Z" fill="#838383" stroke="#838383" stroke-width="0.5"/><path d="M157.1 242.1L157.5 247.5L170.9 248.2L170.6 242.7Z" fill="#b8b8b8" stroke="#b8b8b8" stroke-width="0.6"/><path d="M116.5 240.7L116.8 246.2L130.4 246.5L130.2 241.1Z" fill="#838383" stroke="#838383" stroke-width="0.5"/><path d="M117.6 240.7L117.9 246.2L129.4 246.5L129.1 241.1Z" fill="#b8b8b8" stroke="#b8b8b8" stroke-width="0.6"/><path d="M79 240.4L79.2 245.9L92.4 245.9L91.8 240.4Z" fill="#848484" stroke="#848484" stroke-width="0.5"/><path d="M80 240.4L80.3 245.9L91.3 245.9L90.8 240.4Z" fill="#b9b9b9" stroke="#b9b9b9" stroke-width="0.6"/><path d="M97.2 240.4L97.6 245.9L111.2 245.9L110.8 240.4Z" fill="#848484" stroke="#848484" stroke-width="0.5"/><path d="M98.3 240.4L98.7 245.9L110.1 245.9L109.7 240.4Z" fill="#b9b9b9" stroke="#b9b9b9" stroke-width="0.6"/><path d="M284.2 257.6L285.3 263.4L301.9 266.3L303 261Z" fill="#808080" stroke="#808080" stroke-width="0.5"/><path d="M285.7 257.9L286.6 263.6L300.6 266L301.5 260.7Z" fill="#b4b4b4" stroke="#b4b4b4" stroke-width="0.6"/><path d="M257.3 257.4L258.1 263.3L277.3 267.6L276.5 261.7Z" fill="#696969" stroke="#696969" stroke-width="0.5"/><path d="M258.9 257.7L259.7 263.7L275.8 267.2L275 261.3Z" fill="#9a9a9a" stroke="#9a9a9a" stroke-width="0.6"/><path d="M285.3 263.4L287.4 269.5L301.9 271.9L301.9 266.3Z" fill="#696969" stroke="#696969" stroke-width="0.5"/><path d="M286.6 263.6L288.6 269.7L300.7 271.7L300.6 266Z" fill="#999999" stroke="#999999" stroke-width="0.6"/><path d="M79.2 245.9L80.7 251.5L93.9 251.5L92.4 245.9Z" fill="#686868" stroke="#686868" stroke-width="0.5"/><path d="M80.3 245.9L81.7 251.5L92.8 251.5L91.3 245.9Z" fill="#989898" stroke="#989898" stroke-width="0.6"/><path d="M97.6 245.9L99 251.5L112.7 251.5L111.2 245.9Z" fill="#686868" stroke="#686868" stroke-width="0.5"/><path d="M98.7 245.9L100.1 251.5L111.6 251.5L110.1 245.9Z" fill="#989898" stroke="#989898" stroke-width="0.6"/><path d="M116.8 246.2L118.2 251.8L131.7 252.2L130.4 246.5Z" fill="#686868" stroke="#686868" stroke-width="0.5"/><path d="M117.9 246.2L119.3 251.9L130.7 252.2L129.4 246.5Z" fill="#989898" stroke="#989898" stroke-width="0.6"/><path d="M135.1 246.6L136.3 252.3L151.1 252.8L149.5 247.1Z" fill="#686868" stroke="#686868" stroke-width="0.5"/><path d="M136.2 246.7L137.5 252.3L149.9 252.7L148.4 247.1Z" fill="#999999" stroke="#999999" stroke-width="0.6"/><path d="M156.2 247.5L157.7 253.2L173.6 253.9L172.2 248.2Z" fill="#696969" stroke="#696969" stroke-width="0.5"/><path d="M157.5 247.5L158.9 253.2L172.3 253.9L170.9 248.2Z" fill="#999999" stroke="#999999" stroke-width="0.6"/><path d="M178 248.8L179.7 254.5L197.5 254.5L195.5 248.9Z" fill="#686868" stroke="#686868" stroke-width="0.5"/><path d="M179.4 248.8L181.1 254.5L196.1 254.5L194.1 248.9Z" fill="#989898" stroke="#989898" stroke-width="0.6"/><path d="M203.6 248.9L205.4 254.3L224.7 254.7L222.8 248.9Z" fill="#686868" stroke="#686868" stroke-width="0.5"/><path d="M205.1 248.9L207 254.3L223.2 254.7L221.3 248.9Z" fill="#989898" stroke="#989898" stroke-width="0.6"/><path d="M230.7 251L231.6 256.8L250.8 260.7L249.9 254.6Z" fill="#696969" stroke="#696969" stroke-width="0.5"/><path d="M232.2 251.3L233.1 257.1L249.3 260.4L248.4 254.4Z" fill="#999999" stroke="#999999" stroke-width="0.6"/>
<path d="M309.4 303.5L314.5 303.9L315.8 312.6L310.7 312.2Z" fill="#5d5d5d" stroke="#5d5d5d" stroke-width="0.5"/><path d="M309.5 304.2L314.6 304.6L315.7 311.9L310.6 311.5Z" fill="#898989" stroke="#898989" stroke-width="0.6"/><path d="M313.8 320.4L318.8 320.6L319.2 323.2L314.3 324Z" fill="#5f5f5f" stroke="#5f5f5f" stroke-width="0.5"/><path d="M313.8 320.7L318.9 320.8L319.2 323L314.3 323.7Z" fill="#8c8c8c" stroke="#8c8c8c" stroke-width="0.6"/><path d="M311 293L315.8 291.8L316.3 295.4L311.4 295.6Z" fill="#5f5f5f" stroke="#5f5f5f" stroke-width="0.5"/><path d="M311 293.2L315.8 292.1L316.2 295.1L311.3 295.4Z" fill="#8c8c8c" stroke="#8c8c8c" stroke-width="0.6"/><path d="M308.7 318.4L313.8 320.4L314.3 324L309.3 323Z" fill="#5a5a5a" stroke="#5a5a5a" stroke-width="0.5"/><path d="M308.7 318.8L313.8 320.7L314.3 323.7L309.3 322.6Z" fill="#848484" stroke="#848484" stroke-width="0.6"/><path d="M314.5 303.9L319.1 302.5L320.3 311.2L315.8 312.6Z" fill="#606060" stroke="#606060" stroke-width="0.5"/><path d="M314.6 304.6L319.2 303.2L320.2 310.5L315.7 311.9Z" fill="#8d8d8d" stroke="#8d8d8d" stroke-width="0.6"/><path d="M304.6 301.3L309.4 303.5L310.7 312.2L305.8 310Z" fill="#565656" stroke="#565656" stroke-width="0.5"/><path d="M304.7 302L309.5 304.2L310.6 311.5L305.7 309.3Z" fill="#7f7f7f" stroke="#7f7f7f" stroke-width="0.6"/><path d="M315.8 291.8L319.5 289.1L320.2 293.7L316.3 295.4Z" fill="#5e5e5e" stroke="#5e5e5e" stroke-width="0.5"/><path d="M315.8 292.1L319.6 289.4L320.1 293.3L316.2 295.1Z" fill="#8b8b8b" stroke="#8b8b8b" stroke-width="0.6"/><path d="M304.3 314.7L308.7 318.4L309.3 323L305.1 320.3Z" fill="#505050" stroke="#505050" stroke-width="0.5"/><path d="M304.3 315.1L308.7 318.8L309.3 322.6L305 319.9Z" fill="#767676" stroke="#767676" stroke-width="0.6"/><path d="M319.1 302.5L322.3 299.9L323.6 308.5L320.3 311.2Z" fill="#5d5d5d" stroke="#5d5d5d" stroke-width="0.5"/><path d="M319.2 303.2L322.4 300.6L323.5 307.8L320.2 310.5Z" fill="#898989" stroke="#898989" stroke-width="0.6"/><path d="M300.7 297.5L304.6 301.3L305.8 310L301.9 306.2Z" fill="#4c4c4c" stroke="#4c4c4c" stroke-width="0.5"/><path d="M300.8 298.2L304.7 302L305.7 309.3L301.8 305.5Z" fill="#707070" stroke="#707070" stroke-width="0.6"/><path d="M319.5 289.1L321.7 285.3L322.5 290.9L320.2 293.7Z" fill="#595959" stroke="#595959" stroke-width="0.5"/><path d="M319.6 289.4L321.8 285.8L322.4 290.5L320.1 293.3Z" fill="#838383" stroke="#838383" stroke-width="0.6"/><path d="M301.2 309.7L304.3 314.7L305.1 320.3L302.2 316.3Z" fill="#444444" stroke="#444444" stroke-width="0.5"/><path d="M301.3 310.2L304.3 315.1L305 319.9L302.1 315.7Z" fill="#656565" stroke="#656565" stroke-width="0.6"/><path d="M322.3 299.9L323.8 296.4L325.1 305.1L323.6 308.5Z" fill="#555555" stroke="#555555" stroke-width="0.5"/><path d="M322.4 300.6L323.9 297.1L325 304.4L323.5 307.8Z" fill="#7e7e7e" stroke="#7e7e7e" stroke-width="0.6"/><path d="M298.4 292.6L300.7 297.5L301.9 306.2L299.6 301.3Z" fill="#404040" stroke="#404040" stroke-width="0.5"/><path d="M298.5 293.3L300.8 298.2L301.8 305.5L299.5 300.6Z" fill="#5f5f5f" stroke="#5f5f5f" stroke-width="0.6"/><path d="M321.7 285.3L321.9 281.2L322.9 287.8L322.5 290.9Z" fill="#4f4f4f" stroke="#4f4f4f" stroke-width="0.5"/><path d="M321.8 285.8L322 281.7L322.8 287.3L322.4 290.5Z" fill="#757575" stroke="#757575" stroke-width="0.6"/><path d="M300 303.9L301.2 309.7L302.2 316.3L301.1 311.5Z" fill="#404040" stroke="#404040" stroke-width="0.5"/><path d="M300.1 304.5L301.3 310.2L302.1 315.7L301 310.9Z" fill="#5f5f5f" stroke="#5f5f5f" stroke-width="0.6"/><path d="M323.8 296.4L323.4 292.8L324.6 301.5L325.1 305.1Z" fill="#4b4b4b" stroke="#4b4b4b" stroke-width="0.5"/><path d="M323.9 297.1L323.5 293.5L324.5 300.8L325 304.4Z" fill="#6e6e6e" stroke="#6e6e6e" stroke-width="0.6"/><path d="M298.1 287.2L298.4 292.6L299.6 301.3L299.3 295.9Z" fill="#676767" stroke="#676767" stroke-width="0.5"/><path d="M298.2 287.9L298.5 293.3L299.5 300.6L299.2 295.2Z" fill="#989898" stroke="#989898" stroke-width="0.6"/><path d="M321.9 281.2L320.2 277.5L321.3 285.1L322.9 287.8Z" fill="#505050" stroke="#505050" stroke-width="0.5"/><path d="M322 281.7L320.3 278.1L321.2 284.5L322.8 287.3Z" fill="#777777" stroke="#777777" stroke-width="0.6"/><path d="M300.8 298L300 303.9L301.1 311.5L302.1 306.7Z" fill="#737373" stroke="#737373" stroke-width="0.5"/><path d="M300.9 298.7L300.1 304.5L301 310.9L302 306Z" fill="#a9a9a9" stroke="#a9a9a9" stroke-width="0.6"/><path d="M323.4 292.8L321 289.9L322.2 298.6L324.6 301.5Z" fill="#545454" stroke="#545454" stroke-width="0.5"/><path d="M323.5 293.5L321.1 290.6L322.1 297.9L324.5 300.8Z" fill="#7b7b7b" stroke="#7b7b7b" stroke-width="0.6"/><path d="M299.7 282.1L298.1 287.2L299.3 295.9L300.9 290.7Z" fill="#797979" stroke="#797979" stroke-width="0.5"/><path d="M299.8 282.8L298.2 287.9L299.2 295.2L300.8 290.1Z" fill="#b2b2b2" stroke="#b2b2b2" stroke-width="0.6"/><path d="M320.2 277.5L316.8 274.7L318 283.3L321.3 285.1Z" fill="#616161" stroke="#616161" stroke-width="0.5"/><path d="M320.3 278.1L316.9 275.4L317.9 282.6L321.2 284.5Z" fill="#8f8f8f" stroke="#8f8f8f" stroke-width="0.6"/><path d="M303.5 293.3L300.8 298L302.1 306.7L304.8 302Z" fill="#848484" stroke="#848484" stroke-width="0.5"/><path d="M303.6 294L300.9 298.7L302 306L304.7 301.3Z" fill="#c1c1c1" stroke="#c1c1c1" stroke-width="0.6"/><path d="M321 289.9L317.1 288.2L318.4 296.9L322.2 298.6Z" fill="#696969" stroke="#696969" stroke-width="0.5"/><path d="M321.1 290.6L317.2 288.9L318.3 296.2L322.1 297.9Z" fill="#9a9a9a" stroke="#9a9a9a" stroke-width="0.6"/><path d="M303 277.8L299.7 282.1L300.9 290.7L304.2 286.5Z" fill="#8a8a8a" stroke="#8a8a8a" stroke-width="0.5"/><path d="M303.1 278.5L299.8 282.8L300.8 290.1L304.1 285.8Z" fill="#c8c8c8" stroke="#c8c8c8" stroke-width="0.6"/><path d="M316.8 274.7L312.3 274L313.5 282.6L318 283.3Z" fill="#747474" stroke="#747474" stroke-width="0.5"/><path d="M316.9 275.4L312.4 274.6L313.4 281.9L317.9 282.6Z" fill="#ababab" stroke="#ababab" stroke-width="0.6"/><path d="M307.6 289.9L303.5 293.3L304.8 302L308.9 298.6Z" fill="#909090" stroke="#909090" stroke-width="0.5"/><path d="M307.7 290.6L303.6 294L304.7 301.3L308.8 297.9Z" fill="#d0d0d0" stroke="#d0d0d0" stroke-width="0.6"/><path d="M317.1 288.2L312.4 288.1L313.6 296.8L318.4 296.9Z" fill="#7b7b7b" stroke="#7b7b7b" stroke-width="0.5"/><path d="M317.2 288.9L312.5 288.8L313.5 296.1L318.3 296.2Z" fill="#b5b5b5" stroke="#b5b5b5" stroke-width="0.6"/><path d="M307.4 275L303 277.8L304.2 286.5L308.7 283.7Z" fill="#919191" stroke="#919191" stroke-width="0.5"/><path d="M307.5 275.7L303.1 278.5L304.1 285.8L308.6 283Z" fill="#d1d1d1" stroke="#d1d1d1" stroke-width="0.6"/><path d="M312.3 274L307.4 275L308.7 283.7L313.5 282.6Z" fill="#858585" stroke="#858585" stroke-width="0.5"/><path d="M312.4 274.6L307.5 275.7L308.6 283L313.4 281.9Z" fill="#c3c3c3" stroke="#c3c3c3" stroke-width="0.6"/><path d="M312.4 288.1L307.6 289.9L308.9 298.6L313.6 296.8Z" fill="#8b8b8b" stroke="#8b8b8b" stroke-width="0.5"/><path d="M312.5 288.8L307.7 290.6L308.8 297.9L313.5 296.1Z" fill="#cacaca" stroke="#cacaca" stroke-width="0.6"/>
<path d="M82.5 79.5C83.1 78.2 94.3 79.6 95.6 80.6C96.9 81.6 100.4 90.5 100.9 92.6C101.4 94.7 102.4 107.7 101.8 109C101.2 110.3 94 111 93 110.2C92 109.4 88.5 100.2 87.7 97.9C86.9 95.6 81.9 80.8 82.5 79.5Z" fill="url(#blg)" stroke="#1218a4" stroke-width="0.9" stroke-linejoin="round"/><ellipse cx="93" cy="96" rx="5" ry="9" transform="rotate(-20 93 96)" fill="url(#blh)"/>
<path d="M107.6 88.6C107 87.6 115.9 83.7 117.3 83.4C118.7 83.1 125.7 85.4 127 85C128.3 84.6 133.9 79.4 135.6 78.6C137.3 77.8 149.8 73.3 150.2 73.5C150.6 73.7 142.1 79.9 141.5 82C140.9 84.1 143 100 142.3 102C141.6 104 132.5 108.9 131.3 108.6C130.1 108.3 127.2 99 125.5 97.5C123.8 96 108.2 89.6 107.6 88.6Z" fill="url(#blg)" stroke="#1218a4" stroke-width="0.9" stroke-linejoin="round"/><ellipse cx="133.5" cy="96" rx="6" ry="8" transform="rotate(-15 133.5 96)" fill="url(#blh)"/>
<path d="M129.8 129.4C130.7 129 136.8 130.7 137.7 131.3C138.6 131.9 141.6 136.9 141.9 137.9C142.2 138.9 141.1 144.6 141.8 145C142.5 145.4 149.9 143.2 151 143.4C152.1 143.6 156.2 146.9 157.1 147.7C158 148.5 162.7 153.5 163.2 154.9C163.7 156.3 164 165.2 163.8 167.1C163.6 169 161.9 179.6 160.7 180.4C159.5 181.2 148.2 178.4 147.4 177.4C146.6 176.4 149.7 168.5 149.8 167.1C149.9 165.7 149.3 159 148.6 158.6C147.9 158.2 141.3 161.9 140.1 162.2C138.9 162.5 134 162.9 132.8 162.2C131.6 161.5 123.9 153.7 123.1 152.5C122.3 151.3 122.3 147.6 122.5 146.4C122.7 145.2 125.6 137.9 126.1 136.7C126.6 135.5 128.9 129.8 129.8 129.4Z" fill="url(#blg)" stroke="#1218a4" stroke-width="0.9" stroke-linejoin="round"/><ellipse cx="134.5" cy="142" rx="5" ry="8" transform="rotate(-25 134.5 142)" fill="url(#blh)"/><ellipse cx="155.5" cy="162" rx="4.5" ry="8" transform="rotate(-10 155.5 162)" fill="url(#blh)"/>
<path d="M150 75.3C152 76.9 158.9 80.5 162 84.8C165.1 89.1 167.2 95.6 168.8 101C170.4 106.4 169.5 112.5 171.5 117C173.5 121.5 177.2 125.3 181 128C184.8 130.7 190.7 131.2 194.5 133.4C198.3 135.7 202.7 137.4 204 141.5C205.3 145.6 203.5 153 202.6 157.7C201.7 162.4 199.2 167.8 198.5 169.8" fill="none" stroke="#1018b0" stroke-width="2.8" stroke-linecap="round" stroke-linejoin="round"/><path d="M150 75.3C152 76.9 158.9 80.5 162 84.8C165.1 89.1 167.2 95.6 168.8 101C170.4 106.4 169.5 112.5 171.5 117C173.5 121.5 177.2 125.3 181 128C184.8 130.7 190.7 131.2 194.5 133.4C198.3 135.7 202.7 137.4 204 141.5C205.3 145.6 203.5 153 202.6 157.7C201.7 162.4 199.2 167.8 198.5 169.8" fill="none" stroke="#2433e6" stroke-width="1.5" stroke-linecap="round" stroke-linejoin="round"/>
<path d="M186.4 164.4C185.1 166.4 179.9 172.7 178.3 176.5C176.7 180.3 178.7 184.2 176.9 187.3C175.1 190.5 171.8 193.6 167.5 195.4C163.2 197.2 155.8 196.2 151.3 198C146.8 199.8 142.3 204.8 140.5 206.2" fill="none" stroke="#1018b0" stroke-width="2.8" stroke-linecap="round" stroke-linejoin="round"/><path d="M186.4 164.4C185.1 166.4 179.9 172.7 178.3 176.5C176.7 180.3 178.7 184.2 176.9 187.3C175.1 190.5 171.8 193.6 167.5 195.4C163.2 197.2 155.8 196.2 151.3 198C146.8 199.8 142.3 204.8 140.5 206.2" fill="none" stroke="#2433e6" stroke-width="1.5" stroke-linecap="round" stroke-linejoin="round"/>
<path d="M105.4 109C107.2 108.6 112.6 105.9 116 106.4C119.4 106.9 123.3 108.2 125.6 111.8C127.9 115.4 129 125.3 129.7 128" fill="none" stroke="#1018b0" stroke-width="2.8" stroke-linecap="round" stroke-linejoin="round"/><path d="M105.4 109C107.2 108.6 112.6 105.9 116 106.4C119.4 106.9 123.3 108.2 125.6 111.8C127.9 115.4 129 125.3 129.7 128" fill="none" stroke="#2433e6" stroke-width="1.5" stroke-linecap="round" stroke-linejoin="round"/>
<path d="M154 179C152.7 180.4 148.7 184.1 146 187.3C143.3 190.5 139.6 194.4 137.8 198C136 201.6 135.5 207.2 135 209" fill="none" stroke="#1018b0" stroke-width="2.8" stroke-linecap="round" stroke-linejoin="round"/><path d="M154 179C152.7 180.4 148.7 184.1 146 187.3C143.3 190.5 139.6 194.4 137.8 198C136 201.6 135.5 207.2 135 209" fill="none" stroke="#2433e6" stroke-width="1.5" stroke-linecap="round" stroke-linejoin="round"/>
<path d="M108.4 244.4C107.3 241.3 103.1 231.2 102 226C100.9 220.8 101.3 216.1 102 213.5C102.7 210.9 104.6 210.2 106.3 210.3C108 210.4 109.9 211.7 112 214C114.1 216.3 116 221.8 119 224C122 226.2 127.9 226.8 129.7 227.3" fill="none" stroke="#1018b0" stroke-width="2.8" stroke-linecap="round" stroke-linejoin="round"/><path d="M108.4 244.4C107.3 241.3 103.1 231.2 102 226C100.9 220.8 101.3 216.1 102 213.5C102.7 210.9 104.6 210.2 106.3 210.3C108 210.4 109.9 211.7 112 214C114.1 216.3 116 221.8 119 224C122 226.2 127.9 226.8 129.7 227.3" fill="none" stroke="#2433e6" stroke-width="1.5" stroke-linecap="round" stroke-linejoin="round"/>
<path d="M108.4 244.4C109.7 242.4 113.5 235.9 116 232.7C118.5 229.5 120.8 227.1 123.3 225.2C125.8 223.2 129.7 221.7 131 221" fill="none" stroke="#1018b0" stroke-width="2.8" stroke-linecap="round" stroke-linejoin="round"/><path d="M108.4 244.4C109.7 242.4 113.5 235.9 116 232.7C118.5 229.5 120.8 227.1 123.3 225.2C125.8 223.2 129.7 221.7 131 221" fill="none" stroke="#2433e6" stroke-width="1.5" stroke-linecap="round" stroke-linejoin="round"/>
<circle cx="139.3" cy="212.8" r="9.2" fill="url(#sph)"/>
<circle cx="150.5" cy="214.8" r="9" fill="url(#sph)"/>
<circle cx="138.5" cy="224.5" r="9.6" fill="url(#sph)"/>
<circle cx="152.5" cy="228.4" r="9.2" fill="url(#sph)"/>
<circle cx="145" cy="231.4" r="9.6" fill="url(#sph)"/>
</g>
<text transform="translate(5 17.6) scale(0.9 1)" class="pl">A</text>
</g>
<g id="panelB">
<path d="M482.1 45.1V311.6H745.5" fill="none" stroke="#3a3a3a" stroke-width="1.1"/>
<path d="M475.1 311.6H482.1" stroke="#3a3a3a" stroke-width="1.1"/>
<text x="473.9" y="316.2" text-anchor="end" class="tk">0.0</text>
<path d="M475.1 273.6H482.1" stroke="#3a3a3a" stroke-width="1.1"/>
<text x="473.9" y="278.2" text-anchor="end" class="tk">0.5</text>
<path d="M475.1 235.6H482.1" stroke="#3a3a3a" stroke-width="1.1"/>
<text x="473.9" y="240.2" text-anchor="end" class="tk">1.0</text>
<path d="M475.1 197.6H482.1" stroke="#3a3a3a" stroke-width="1.1"/>
<text x="473.9" y="202.2" text-anchor="end" class="tk">1.5</text>
<path d="M475.1 159.6H482.1" stroke="#3a3a3a" stroke-width="1.1"/>
<text x="473.9" y="164.2" text-anchor="end" class="tk">2.0</text>
<path d="M475.1 121.6H482.1" stroke="#3a3a3a" stroke-width="1.1"/>
<text x="473.9" y="126.2" text-anchor="end" class="tk">2.5</text>
<path d="M475.1 83.6H482.1" stroke="#3a3a3a" stroke-width="1.1"/>
<text x="473.9" y="88.2" text-anchor="end" class="tk">3.0</text>
<path d="M475.1 45.6H482.1" stroke="#3a3a3a" stroke-width="1.1"/>
<text x="473.9" y="50.2" text-anchor="end" class="tk">3.5</text>
<path d="M482.1 311.6V317.6" stroke="#3a3a3a" stroke-width="1.1"/>
<text x="482.1" y="332.1" text-anchor="middle" class="tk" style="font-size:13.1px">0.01</text>
<path d="M565.7 311.6V317.6" stroke="#3a3a3a" stroke-width="1.1"/>
<text x="565.7" y="332.1" text-anchor="middle" class="tk" style="font-size:13.1px">0.1</text>
<path d="M649.3 311.6V317.6" stroke="#3a3a3a" stroke-width="1.1"/>
<text x="649.3" y="332.1" text-anchor="middle" class="tk" style="font-size:13.1px">1</text>
<path d="M732.9 311.6V317.6" stroke="#3a3a3a" stroke-width="1.1"/>
<text x="732.9" y="332.1" text-anchor="middle" class="tk" style="font-size:13.1px">10</text>
<path d="M488.6 76.6L491.03 77.88L493.44 79.21L495.81 80.58L498.14 82.01L500.43 83.48L502.72 85L505 86.56L507.26 88.16L509.47 89.81L511.62 91.53L513.68 93.3L515.64 95.14L517.51 97.09L519.31 99.14L521.05 101.27L522.73 103.47L524.36 105.71L525.94 107.96L527.49 110.21L529 112.49L530.49 114.79L531.93 117.13L533.34 119.5L534.7 121.88L536.01 124.29L537.26 126.72L538.45 129.16L539.58 131.65L540.66 134.16L541.72 136.69L542.74 139.23L543.76 141.78L544.79 144.33L545.82 146.87L546.88 149.4L547.95 151.92L549.01 154.45L550.07 156.97L551.14 159.49L552.2 162.02L553.26 164.54L554.33 167.06L555.4 169.58L556.47 172.1L557.55 174.62L558.65 177.13L559.74 179.64L560.84 182.15L561.94 184.66L563.03 187.17L564.1 189.69L565.17 192.21L566.21 194.74L567.23 197.28L568.23 199.83L569.21 202.39L570.18 204.95L571.13 207.52L572.08 210.09L573.03 212.66L573.97 215.23L574.92 217.8L575.87 220.37L576.79 222.95L577.71 225.53L578.66 228.1L579.65 230.65L580.71 233.16L581.83 235.66L583 238.13L584.2 240.6L585.42 243.05L586.66 245.5L587.88 247.95L589.1 250.41L590.3 252.87L591.5 255.34L592.71 257.8L593.94 260.24L595.21 262.67L596.51 265.07L597.85 267.46L599.22 269.84L600.63 272.2L602.1 274.52L603.63 276.77L605.25 278.97L606.94 281.14L608.7 283.26L610.54 285.3L612.44 287.24L614.43 289.13L616.51 290.95L618.69 292.65L620.94 294.16L623.31 295.49L625.8 296.68L628.35 297.71L630.93 298.61L633.56 299.41L636.23 300.02L638.92 300.51L641.64 300.92L644.37 301.18L647.09 301.3L649.83 301.41L652.57 301.49L655.31 301.56L658.05 301.59L660.79 301.6L663.53 301.6L666.26 301.6L669 301.6L671.74 301.6L674.48 301.6L677.22 301.6L679.95 301.6L682.69 301.6L685.43 301.6L688.17 301.6L690.91 301.6L693.64 301.6L696.38 301.6L699.12 301.6L701.86 301.6L704.6 301.6L707.34 301.6L710.07 301.6L712.81 301.6L715.55 301.6L718.29 301.6L721.03 301.6L723.77 301.6L726.51 301.6L729.24 301.6L731.98 301.6L734.72 301.6L737.46 301.6L740.2 301.6" fill="none" stroke="#111" stroke-width="1.4" stroke-linejoin="round"/>
<path d="M487.1 65.5L489.71 66.54L492.3 67.64L494.86 68.78L497.4 69.97L499.91 71.2L502.43 72.47L504.95 73.77L507.43 75.14L509.84 76.58L512.14 78.12L514.31 79.79L516.39 81.64L518.4 83.61L520.34 85.68L522.24 87.79L524.11 89.91L525.96 92.01L527.78 94.14L529.57 96.3L531.33 98.5L533.06 100.72L534.75 102.96L536.4 105.23L538.02 107.51L539.59 109.82L541.14 112.16L542.66 114.52L544.15 116.9L545.61 119.3L547.05 121.72L548.46 124.14L549.85 126.58L551.23 129.02L552.57 131.48L553.88 133.97L555.16 136.47L556.4 138.98L557.61 141.51L558.77 144.06L559.9 146.63L561.04 149.19L562.2 151.75L563.37 154.3L564.54 156.84L565.71 159.4L566.85 161.96L567.97 164.53L569.09 167.1L570.2 169.68L571.3 172.26L572.39 174.84L573.48 177.43L574.56 180.02L575.62 182.62L576.68 185.22L577.72 187.82L578.75 190.43L579.76 193.04L580.75 195.66L581.72 198.29L582.67 200.93L583.6 203.57L584.51 206.23L585.42 208.88L586.32 211.54L587.21 214.2L588.11 216.86L589.01 219.51L589.93 222.17L590.86 224.81L591.8 227.45L592.77 230.09L593.75 232.72L594.7 235.35L595.62 238.01L596.53 240.67L597.43 243.33L598.34 245.98L599.27 248.63L600.23 251.26L601.23 253.87L602.28 256.47L603.37 259.05L604.5 261.63L605.67 264.19L606.89 266.72L608.15 269.22L609.47 271.68L610.87 274.1L612.35 276.5L613.89 278.85L615.48 281.17L617.1 283.45L618.77 285.72L620.5 287.94L622.33 290.07L624.26 292.09L626.34 294.05L628.57 295.68L631.06 296.97L633.72 297.93L636.44 298.54L639.24 298.94L642.03 299.1L644.83 299.21L647.64 299.28L650.45 299.3L653.25 299.3L656.06 299.3L658.86 299.3L661.66 299.3L664.47 299.3L667.27 299.3L670.08 299.3L672.88 299.3L675.69 299.3L678.49 299.3L681.29 299.3L684.1 299.3L686.9 299.3L689.71 299.3L692.51 299.3L695.32 299.3L698.12 299.3L700.93 299.3L703.73 299.3L706.54 299.3L709.34 299.3L712.15 299.3L714.95 299.3L717.76 299.3L720.56 299.3L723.37 299.3L726.17 299.3L728.98 299.3L731.78 299.3L734.59 299.3L737.39 299.3L740.2 299.3" fill="none" stroke="#000" stroke-width="1.85" stroke-linejoin="round"/>
<rect x="484.46" y="73.59" width="6.8" height="6.8" fill="#000"/>
<rect x="509.62" y="75.64" width="6.8" height="6.8" fill="#000"/>
<path d="M538.19 84.13V94.47M534.49 84.13h7.4M534.49 94.47h7.4" stroke="#111" stroke-width="1.1" fill="none"/>
<rect x="534.79" y="85.9" width="6.8" height="6.8" fill="#000"/>
<path d="M563.36 150.86V168.34M559.66 150.86h7.4M559.66 168.34h7.4" stroke="#111" stroke-width="1.1" fill="none"/>
<rect x="559.96" y="156.2" width="6.8" height="6.8" fill="#000"/>
<path d="M588.52 220.25V238.79M584.82 220.25h7.4M584.82 238.79h7.4" stroke="#111" stroke-width="1.1" fill="none"/>
<rect x="585.12" y="226.12" width="6.8" height="6.8" fill="#000"/>
<circle cx="487.86" cy="79.27" r="3.5" fill="#fff" stroke="#1a1a1a" stroke-width="1.55"/>
<circle cx="513.02" cy="85.88" r="3.5" fill="#fff" stroke="#1a1a1a" stroke-width="1.55"/>
<path d="M538.19 121.83V145.69M534.49 121.83h7.4M534.49 145.69h7.4" stroke="#555" stroke-width="1.1" fill="none"/>
<circle cx="538.19" cy="133.76" r="3.5" fill="#fff" stroke="#1a1a1a" stroke-width="1.55"/>
<path d="M563.36 193.88V208.32M559.66 193.88h7.4M559.66 208.32h7.4" stroke="#555" stroke-width="1.1" fill="none"/>
<circle cx="563.36" cy="201.1" r="3.5" fill="#fff" stroke="#1a1a1a" stroke-width="1.55"/>
<circle cx="588.52" cy="244.95" r="3.5" fill="#fff" stroke="#1a1a1a" stroke-width="1.55"/>
<path d="M613.69 266.53V271.09M609.99 266.53h7.4M609.99 271.09h7.4" stroke="#555" stroke-width="1.1" fill="none"/>
<circle cx="613.69" cy="268.81" r="3.5" fill="#fff" stroke="#1a1a1a" stroke-width="1.55"/>
<path d="M638.86 285.38V290.7M635.16 285.38h7.4M635.16 290.7h7.4" stroke="#555" stroke-width="1.1" fill="none"/>
<circle cx="638.86" cy="288.04" r="3.5" fill="#fff" stroke="#1a1a1a" stroke-width="1.55"/>
<circle cx="664.02" cy="299.9" r="3.5" fill="#fff" stroke="#1a1a1a" stroke-width="1.55"/>
<path d="M689.19 303.39V307.95M685.49 303.39h7.4M685.49 307.95h7.4" stroke="#555" stroke-width="1.1" fill="none"/>
<circle cx="689.19" cy="305.67" r="3.5" fill="#fff" stroke="#1a1a1a" stroke-width="1.55"/>
<circle cx="714.35" cy="308.56" r="3.5" fill="#fff" stroke="#1a1a1a" stroke-width="1.55"/>
<circle cx="739.52" cy="310.08" r="3.5" fill="#fff" stroke="#1a1a1a" stroke-width="1.55"/>
<path d="M658.6 103H679" stroke="#111" stroke-width="1.3"/><circle cx="668.9" cy="103" r="3.8" fill="#fff" stroke="#222" stroke-width="1.4"/>
<text x="688.9" y="107.9" class="lg">DBPII</text>
<path d="M658.6 126.9H679" stroke="#000" stroke-width="1.9"/><rect x="665.3" y="123.3" width="7.2" height="7.2" fill="#000"/>
<text x="688.9" y="131.6" class="lg">SD1ss</text>
<text x="613.4" y="356.3" class="ti" style="font-size:14.05px" text-anchor="middle">3D10 Concentration (ng/mL)<tspan dy="-5.5" font-size="10">-1</tspan></text>
<text transform="translate(427.8 196.8) rotate(-90)" class="ti nf">OD<tspan dy="5" font-size="10">450</tspan></text>
<text transform="translate(403.2 17.4) scale(0.88 1)" class="pl">B</text>
</g>
<g id="panelC">
<path d="M69.4 424V690.5H335" fill="none" stroke="#3a3a3a" stroke-width="1.1"/>
<path d="M62.9 690.5H69.4" stroke="#3a3a3a" stroke-width="1.1"/>
<text x="61.8" y="695.1" text-anchor="end" class="tk">0.0</text>
<path d="M62.9 624H69.4" stroke="#3a3a3a" stroke-width="1.1"/>
<text x="61.8" y="628.6" text-anchor="end" class="tk">0.5</text>
<path d="M62.9 557.5H69.4" stroke="#3a3a3a" stroke-width="1.1"/>
<text x="61.8" y="562.1" text-anchor="end" class="tk">1.0</text>
<path d="M62.9 491H69.4" stroke="#3a3a3a" stroke-width="1.1"/>
<text x="61.8" y="495.6" text-anchor="end" class="tk">1.5</text>
<path d="M62.9 424.5H69.4" stroke="#3a3a3a" stroke-width="1.1"/>
<text x="61.8" y="429.1" text-anchor="end" class="tk">2.0</text>
<path d="M99 484.75V471.32M91.5 471.32h15" stroke="#222" stroke-width="1.1" fill="none"/>
<rect x="85" y="484.75" width="28" height="205.75" fill="#000" stroke="#1c1c1c" stroke-width="1"/>
<path d="M99 690.5v5.5" stroke="#3a3a3a" stroke-width="1.1"/>
<text x="99" y="709.8" text-anchor="middle" class="tk">0</text>
<path d="M150.6 521.86V513.08M143.1 513.08h15" stroke="#222" stroke-width="1.1" fill="none"/>
<rect x="136.5" y="521.86" width="28.2" height="168.64" fill="#529193" stroke="#1c1c1c" stroke-width="1"/>
<path d="M150.6 690.5v5.5" stroke="#3a3a3a" stroke-width="1.1"/>
<text x="150.6" y="709.8" text-anchor="middle" class="tk">0.01</text>
<path d="M202.25 608.51V600.79M194.75 600.79h15" stroke="#222" stroke-width="1.1" fill="none"/>
<rect x="188.1" y="608.51" width="28.3" height="81.99" fill="#529193" stroke="#1c1c1c" stroke-width="1"/>
<path d="M202.25 690.5v5.5" stroke="#3a3a3a" stroke-width="1.1"/>
<text x="202.25" y="709.8" text-anchor="middle" class="tk">0.1</text>
<path d="M253.9 687.84V686.78M246.4 686.78h15" stroke="#222" stroke-width="1.1" fill="none"/>
<rect x="239.7" y="687.84" width="28.4" height="2.66" fill="#529193" stroke="#1c1c1c" stroke-width="1"/>
<path d="M253.9 690.5v5.5" stroke="#3a3a3a" stroke-width="1.1"/>
<text x="253.9" y="709.8" text-anchor="middle" class="tk">1.0</text>
<path d="M305.95 500.98V490.73M298.45 490.73h15" stroke="#222" stroke-width="1.1" fill="none"/>
<rect x="291.7" y="500.98" width="28.5" height="189.52" fill="#7e2a8e" stroke="#1c1c1c" stroke-width="1"/>
<path d="M305.95 690.5v5.5" stroke="#3a3a3a" stroke-width="1.1"/>
<text x="305.95" y="709.8" text-anchor="middle" class="tk">1.0</text>
<text transform="translate(25.6 557.5) rotate(-90)" class="ti nf" text-anchor="middle">DBPII Reactivity (OD)</text>
<text x="201.3" y="736.1" class="ti" text-anchor="middle">Concentration of Competitor (<tspan class="mu">&#956;</tspan>g/mL)</text>
<text transform="translate(3.7 403.7) scale(0.81 1)" class="pl">C</text>
</g>
<g id="panelD">
<path d="M482.6 424.2V690.5H748" fill="none" stroke="#3a3a3a" stroke-width="1.1"/>
<path d="M476.1 690.5H482.6" stroke="#3a3a3a" stroke-width="1.1"/>
<text x="475" y="695.1" text-anchor="end" class="tk">0.0</text>
<path d="M476.1 557.6H482.6" stroke="#3a3a3a" stroke-width="1.1"/>
<text x="475" y="562.2" text-anchor="end" class="tk">0.5</text>
<path d="M476.1 424.7H482.6" stroke="#3a3a3a" stroke-width="1.1"/>
<text x="475" y="429.3" text-anchor="end" class="tk">1.0</text>
<path d="M526.5 488.04V463.93M519 463.93h15" stroke="#222" stroke-width="1.1" fill="none"/>
<rect x="512.5" y="488.04" width="28" height="202.46" fill="#000" stroke="#1c1c1c" stroke-width="1"/>
<path d="M526.5 690.5v5.5" stroke="#3a3a3a" stroke-width="1.1"/>
<text x="526.5" y="709.8" text-anchor="middle" class="tk">0</text>
<path d="M615.65 671.68V670.09M608.15 670.09h15" stroke="#222" stroke-width="1.1" fill="none"/>
<rect x="601.7" y="671.68" width="27.9" height="18.82" fill="#529193" stroke="#1c1c1c" stroke-width="1"/>
<path d="M615.65 690.5v5.5" stroke="#3a3a3a" stroke-width="1.1"/>
<text x="615.65" y="709.8" text-anchor="middle" class="tk">1.0</text>
<path d="M704.6 535.01V512.49M697.1 512.49h15" stroke="#222" stroke-width="1.1" fill="none"/>
<rect x="690.6" y="535.01" width="28" height="155.49" fill="#7e2a8e" stroke="#1c1c1c" stroke-width="1"/>
<path d="M704.6 690.5v5.5" stroke="#3a3a3a" stroke-width="1.1"/>
<text x="704.6" y="709.8" text-anchor="middle" class="tk">1.0</text>
<text transform="translate(442.4 555.8) rotate(-90)" class="ti nf" text-anchor="middle">VAR2CSA Reactivity (OD)</text>
<text x="615.5" y="734" class="ti" text-anchor="middle">Concentration of Competitor (<tspan class="mu">&#956;</tspan>g/mL)</text>
<text transform="translate(403.4 403.8) scale(0.92 1)" class="pl">D</text>
</g>
</svg>
</body></html>
